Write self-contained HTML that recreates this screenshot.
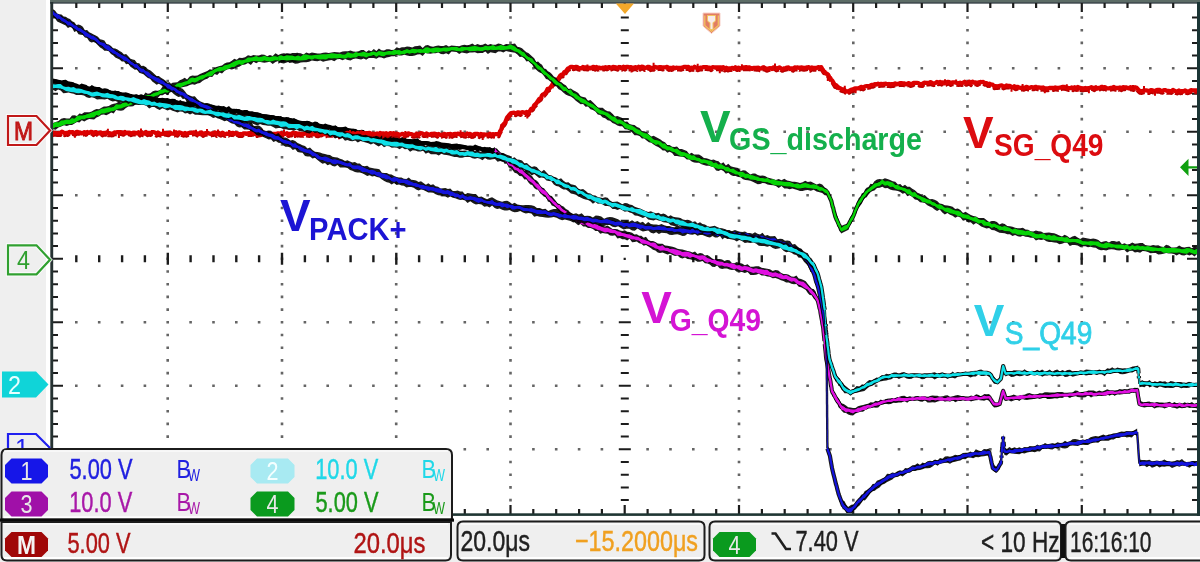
<!DOCTYPE html>
<html><head><meta charset="utf-8"><title>Oscilloscope</title>
<style>
html,body{margin:0;padding:0;background:#efefef;}
#wrap{position:relative;width:1200px;height:562px;overflow:hidden;background:#efefef;}
.t{position:absolute;font-family:"Liberation Sans",Arial,sans-serif;white-space:nowrap;line-height:1;}
</style></head><body><div id="wrap">
<svg width="1200" height="562" viewBox="0 0 1200 562" style="position:absolute;left:0;top:0">
<rect x="0" y="0" width="1200" height="562" fill="#efefef"/>
<rect x="46" y="0" width="1154" height="520" fill="#ffffff"/>
<rect x="50" y="0" width="1150" height="2.6" fill="#5c6c66"/>
<rect x="50" y="2.3" width="1150" height="1.3" fill="#1f2a30"/>
<path fill="#4a4a4a" opacity="0.85" d="M166.4 16.2h2.6v2.6h-2.6zM166.4 28.9h2.6v2.6h-2.6zM166.4 41.6h2.6v2.6h-2.6zM166.4 54.3h2.6v2.6h-2.6zM166.4 67h2.6v2.6h-2.6zM166.4 79.7h2.6v2.6h-2.6zM166.4 92.4h2.6v2.6h-2.6zM166.4 105.1h2.6v2.6h-2.6zM166.4 117.8h2.6v2.6h-2.6zM166.4 130.5h2.6v2.6h-2.6zM166.4 143.2h2.6v2.6h-2.6zM166.4 155.9h2.6v2.6h-2.6zM166.4 168.6h2.6v2.6h-2.6zM166.4 181.3h2.6v2.6h-2.6zM166.4 194h2.6v2.6h-2.6zM166.4 206.7h2.6v2.6h-2.6zM166.4 219.4h2.6v2.6h-2.6zM166.4 232.1h2.6v2.6h-2.6zM166.4 244.8h2.6v2.6h-2.6zM166.4 257.5h2.6v2.6h-2.6zM166.4 270.2h2.6v2.6h-2.6zM166.4 282.9h2.6v2.6h-2.6zM166.4 295.6h2.6v2.6h-2.6zM166.4 308.3h2.6v2.6h-2.6zM166.4 321h2.6v2.6h-2.6zM166.4 333.7h2.6v2.6h-2.6zM166.4 346.4h2.6v2.6h-2.6zM166.4 359.1h2.6v2.6h-2.6zM166.4 371.8h2.6v2.6h-2.6zM166.4 384.5h2.6v2.6h-2.6zM166.4 397.2h2.6v2.6h-2.6zM166.4 409.9h2.6v2.6h-2.6zM166.4 422.6h2.6v2.6h-2.6zM166.4 435.3h2.6v2.6h-2.6zM166.4 448h2.6v2.6h-2.6zM166.4 460.7h2.6v2.6h-2.6zM166.4 473.4h2.6v2.6h-2.6zM166.4 486.1h2.6v2.6h-2.6zM166.4 498.8h2.6v2.6h-2.6zM280.7 16.2h2.6v2.6h-2.6zM280.7 28.9h2.6v2.6h-2.6zM280.7 41.6h2.6v2.6h-2.6zM280.7 54.3h2.6v2.6h-2.6zM280.7 67h2.6v2.6h-2.6zM280.7 79.7h2.6v2.6h-2.6zM280.7 92.4h2.6v2.6h-2.6zM280.7 105.1h2.6v2.6h-2.6zM280.7 117.8h2.6v2.6h-2.6zM280.7 130.5h2.6v2.6h-2.6zM280.7 143.2h2.6v2.6h-2.6zM280.7 155.9h2.6v2.6h-2.6zM280.7 168.6h2.6v2.6h-2.6zM280.7 181.3h2.6v2.6h-2.6zM280.7 194h2.6v2.6h-2.6zM280.7 206.7h2.6v2.6h-2.6zM280.7 219.4h2.6v2.6h-2.6zM280.7 232.1h2.6v2.6h-2.6zM280.7 244.8h2.6v2.6h-2.6zM280.7 257.5h2.6v2.6h-2.6zM280.7 270.2h2.6v2.6h-2.6zM280.7 282.9h2.6v2.6h-2.6zM280.7 295.6h2.6v2.6h-2.6zM280.7 308.3h2.6v2.6h-2.6zM280.7 321h2.6v2.6h-2.6zM280.7 333.7h2.6v2.6h-2.6zM280.7 346.4h2.6v2.6h-2.6zM280.7 359.1h2.6v2.6h-2.6zM280.7 371.8h2.6v2.6h-2.6zM280.7 384.5h2.6v2.6h-2.6zM280.7 397.2h2.6v2.6h-2.6zM280.7 409.9h2.6v2.6h-2.6zM280.7 422.6h2.6v2.6h-2.6zM280.7 435.3h2.6v2.6h-2.6zM280.7 448h2.6v2.6h-2.6zM280.7 460.7h2.6v2.6h-2.6zM280.7 473.4h2.6v2.6h-2.6zM280.7 486.1h2.6v2.6h-2.6zM280.7 498.8h2.6v2.6h-2.6zM394.9 16.2h2.6v2.6h-2.6zM394.9 28.9h2.6v2.6h-2.6zM394.9 41.6h2.6v2.6h-2.6zM394.9 54.3h2.6v2.6h-2.6zM394.9 67h2.6v2.6h-2.6zM394.9 79.7h2.6v2.6h-2.6zM394.9 92.4h2.6v2.6h-2.6zM394.9 105.1h2.6v2.6h-2.6zM394.9 117.8h2.6v2.6h-2.6zM394.9 130.5h2.6v2.6h-2.6zM394.9 143.2h2.6v2.6h-2.6zM394.9 155.9h2.6v2.6h-2.6zM394.9 168.6h2.6v2.6h-2.6zM394.9 181.3h2.6v2.6h-2.6zM394.9 194h2.6v2.6h-2.6zM394.9 206.7h2.6v2.6h-2.6zM394.9 219.4h2.6v2.6h-2.6zM394.9 232.1h2.6v2.6h-2.6zM394.9 244.8h2.6v2.6h-2.6zM394.9 257.5h2.6v2.6h-2.6zM394.9 270.2h2.6v2.6h-2.6zM394.9 282.9h2.6v2.6h-2.6zM394.9 295.6h2.6v2.6h-2.6zM394.9 308.3h2.6v2.6h-2.6zM394.9 321h2.6v2.6h-2.6zM394.9 333.7h2.6v2.6h-2.6zM394.9 346.4h2.6v2.6h-2.6zM394.9 359.1h2.6v2.6h-2.6zM394.9 371.8h2.6v2.6h-2.6zM394.9 384.5h2.6v2.6h-2.6zM394.9 397.2h2.6v2.6h-2.6zM394.9 409.9h2.6v2.6h-2.6zM394.9 422.6h2.6v2.6h-2.6zM394.9 435.3h2.6v2.6h-2.6zM394.9 448h2.6v2.6h-2.6zM394.9 460.7h2.6v2.6h-2.6zM394.9 473.4h2.6v2.6h-2.6zM394.9 486.1h2.6v2.6h-2.6zM394.9 498.8h2.6v2.6h-2.6zM509.2 16.2h2.6v2.6h-2.6zM509.2 28.9h2.6v2.6h-2.6zM509.2 41.6h2.6v2.6h-2.6zM509.2 54.3h2.6v2.6h-2.6zM509.2 67h2.6v2.6h-2.6zM509.2 79.7h2.6v2.6h-2.6zM509.2 92.4h2.6v2.6h-2.6zM509.2 105.1h2.6v2.6h-2.6zM509.2 117.8h2.6v2.6h-2.6zM509.2 130.5h2.6v2.6h-2.6zM509.2 143.2h2.6v2.6h-2.6zM509.2 155.9h2.6v2.6h-2.6zM509.2 168.6h2.6v2.6h-2.6zM509.2 181.3h2.6v2.6h-2.6zM509.2 194h2.6v2.6h-2.6zM509.2 206.7h2.6v2.6h-2.6zM509.2 219.4h2.6v2.6h-2.6zM509.2 232.1h2.6v2.6h-2.6zM509.2 244.8h2.6v2.6h-2.6zM509.2 257.5h2.6v2.6h-2.6zM509.2 270.2h2.6v2.6h-2.6zM509.2 282.9h2.6v2.6h-2.6zM509.2 295.6h2.6v2.6h-2.6zM509.2 308.3h2.6v2.6h-2.6zM509.2 321h2.6v2.6h-2.6zM509.2 333.7h2.6v2.6h-2.6zM509.2 346.4h2.6v2.6h-2.6zM509.2 359.1h2.6v2.6h-2.6zM509.2 371.8h2.6v2.6h-2.6zM509.2 384.5h2.6v2.6h-2.6zM509.2 397.2h2.6v2.6h-2.6zM509.2 409.9h2.6v2.6h-2.6zM509.2 422.6h2.6v2.6h-2.6zM509.2 435.3h2.6v2.6h-2.6zM509.2 448h2.6v2.6h-2.6zM509.2 460.7h2.6v2.6h-2.6zM509.2 473.4h2.6v2.6h-2.6zM509.2 486.1h2.6v2.6h-2.6zM509.2 498.8h2.6v2.6h-2.6zM737.7 16.2h2.6v2.6h-2.6zM737.7 28.9h2.6v2.6h-2.6zM737.7 41.6h2.6v2.6h-2.6zM737.7 54.3h2.6v2.6h-2.6zM737.7 67h2.6v2.6h-2.6zM737.7 79.7h2.6v2.6h-2.6zM737.7 92.4h2.6v2.6h-2.6zM737.7 105.1h2.6v2.6h-2.6zM737.7 117.8h2.6v2.6h-2.6zM737.7 130.5h2.6v2.6h-2.6zM737.7 143.2h2.6v2.6h-2.6zM737.7 155.9h2.6v2.6h-2.6zM737.7 168.6h2.6v2.6h-2.6zM737.7 181.3h2.6v2.6h-2.6zM737.7 194h2.6v2.6h-2.6zM737.7 206.7h2.6v2.6h-2.6zM737.7 219.4h2.6v2.6h-2.6zM737.7 232.1h2.6v2.6h-2.6zM737.7 244.8h2.6v2.6h-2.6zM737.7 257.5h2.6v2.6h-2.6zM737.7 270.2h2.6v2.6h-2.6zM737.7 282.9h2.6v2.6h-2.6zM737.7 295.6h2.6v2.6h-2.6zM737.7 308.3h2.6v2.6h-2.6zM737.7 321h2.6v2.6h-2.6zM737.7 333.7h2.6v2.6h-2.6zM737.7 346.4h2.6v2.6h-2.6zM737.7 359.1h2.6v2.6h-2.6zM737.7 371.8h2.6v2.6h-2.6zM737.7 384.5h2.6v2.6h-2.6zM737.7 397.2h2.6v2.6h-2.6zM737.7 409.9h2.6v2.6h-2.6zM737.7 422.6h2.6v2.6h-2.6zM737.7 435.3h2.6v2.6h-2.6zM737.7 448h2.6v2.6h-2.6zM737.7 460.7h2.6v2.6h-2.6zM737.7 473.4h2.6v2.6h-2.6zM737.7 486.1h2.6v2.6h-2.6zM737.7 498.8h2.6v2.6h-2.6zM852 16.2h2.6v2.6h-2.6zM852 28.9h2.6v2.6h-2.6zM852 41.6h2.6v2.6h-2.6zM852 54.3h2.6v2.6h-2.6zM852 67h2.6v2.6h-2.6zM852 79.7h2.6v2.6h-2.6zM852 92.4h2.6v2.6h-2.6zM852 105.1h2.6v2.6h-2.6zM852 117.8h2.6v2.6h-2.6zM852 130.5h2.6v2.6h-2.6zM852 143.2h2.6v2.6h-2.6zM852 155.9h2.6v2.6h-2.6zM852 168.6h2.6v2.6h-2.6zM852 181.3h2.6v2.6h-2.6zM852 194h2.6v2.6h-2.6zM852 206.7h2.6v2.6h-2.6zM852 219.4h2.6v2.6h-2.6zM852 232.1h2.6v2.6h-2.6zM852 244.8h2.6v2.6h-2.6zM852 257.5h2.6v2.6h-2.6zM852 270.2h2.6v2.6h-2.6zM852 282.9h2.6v2.6h-2.6zM852 295.6h2.6v2.6h-2.6zM852 308.3h2.6v2.6h-2.6zM852 321h2.6v2.6h-2.6zM852 333.7h2.6v2.6h-2.6zM852 346.4h2.6v2.6h-2.6zM852 359.1h2.6v2.6h-2.6zM852 371.8h2.6v2.6h-2.6zM852 384.5h2.6v2.6h-2.6zM852 397.2h2.6v2.6h-2.6zM852 409.9h2.6v2.6h-2.6zM852 422.6h2.6v2.6h-2.6zM852 435.3h2.6v2.6h-2.6zM852 448h2.6v2.6h-2.6zM852 460.7h2.6v2.6h-2.6zM852 473.4h2.6v2.6h-2.6zM852 486.1h2.6v2.6h-2.6zM852 498.8h2.6v2.6h-2.6zM966.2 16.2h2.6v2.6h-2.6zM966.2 28.9h2.6v2.6h-2.6zM966.2 41.6h2.6v2.6h-2.6zM966.2 54.3h2.6v2.6h-2.6zM966.2 67h2.6v2.6h-2.6zM966.2 79.7h2.6v2.6h-2.6zM966.2 92.4h2.6v2.6h-2.6zM966.2 105.1h2.6v2.6h-2.6zM966.2 117.8h2.6v2.6h-2.6zM966.2 130.5h2.6v2.6h-2.6zM966.2 143.2h2.6v2.6h-2.6zM966.2 155.9h2.6v2.6h-2.6zM966.2 168.6h2.6v2.6h-2.6zM966.2 181.3h2.6v2.6h-2.6zM966.2 194h2.6v2.6h-2.6zM966.2 206.7h2.6v2.6h-2.6zM966.2 219.4h2.6v2.6h-2.6zM966.2 232.1h2.6v2.6h-2.6zM966.2 244.8h2.6v2.6h-2.6zM966.2 257.5h2.6v2.6h-2.6zM966.2 270.2h2.6v2.6h-2.6zM966.2 282.9h2.6v2.6h-2.6zM966.2 295.6h2.6v2.6h-2.6zM966.2 308.3h2.6v2.6h-2.6zM966.2 321h2.6v2.6h-2.6zM966.2 333.7h2.6v2.6h-2.6zM966.2 346.4h2.6v2.6h-2.6zM966.2 359.1h2.6v2.6h-2.6zM966.2 371.8h2.6v2.6h-2.6zM966.2 384.5h2.6v2.6h-2.6zM966.2 397.2h2.6v2.6h-2.6zM966.2 409.9h2.6v2.6h-2.6zM966.2 422.6h2.6v2.6h-2.6zM966.2 435.3h2.6v2.6h-2.6zM966.2 448h2.6v2.6h-2.6zM966.2 460.7h2.6v2.6h-2.6zM966.2 473.4h2.6v2.6h-2.6zM966.2 486.1h2.6v2.6h-2.6zM966.2 498.8h2.6v2.6h-2.6zM1080.5 16.2h2.6v2.6h-2.6zM1080.5 28.9h2.6v2.6h-2.6zM1080.5 41.6h2.6v2.6h-2.6zM1080.5 54.3h2.6v2.6h-2.6zM1080.5 67h2.6v2.6h-2.6zM1080.5 79.7h2.6v2.6h-2.6zM1080.5 92.4h2.6v2.6h-2.6zM1080.5 105.1h2.6v2.6h-2.6zM1080.5 117.8h2.6v2.6h-2.6zM1080.5 130.5h2.6v2.6h-2.6zM1080.5 143.2h2.6v2.6h-2.6zM1080.5 155.9h2.6v2.6h-2.6zM1080.5 168.6h2.6v2.6h-2.6zM1080.5 181.3h2.6v2.6h-2.6zM1080.5 194h2.6v2.6h-2.6zM1080.5 206.7h2.6v2.6h-2.6zM1080.5 219.4h2.6v2.6h-2.6zM1080.5 232.1h2.6v2.6h-2.6zM1080.5 244.8h2.6v2.6h-2.6zM1080.5 257.5h2.6v2.6h-2.6zM1080.5 270.2h2.6v2.6h-2.6zM1080.5 282.9h2.6v2.6h-2.6zM1080.5 295.6h2.6v2.6h-2.6zM1080.5 308.3h2.6v2.6h-2.6zM1080.5 321h2.6v2.6h-2.6zM1080.5 333.7h2.6v2.6h-2.6zM1080.5 346.4h2.6v2.6h-2.6zM1080.5 359.1h2.6v2.6h-2.6zM1080.5 371.8h2.6v2.6h-2.6zM1080.5 384.5h2.6v2.6h-2.6zM1080.5 397.2h2.6v2.6h-2.6zM1080.5 409.9h2.6v2.6h-2.6zM1080.5 422.6h2.6v2.6h-2.6zM1080.5 435.3h2.6v2.6h-2.6zM1080.5 448h2.6v2.6h-2.6zM1080.5 460.7h2.6v2.6h-2.6zM1080.5 473.4h2.6v2.6h-2.6zM1080.5 486.1h2.6v2.6h-2.6zM1080.5 498.8h2.6v2.6h-2.6zM75 67h2.6v2.6h-2.6zM97.9 67h2.6v2.6h-2.6zM120.8 67h2.6v2.6h-2.6zM143.6 67h2.6v2.6h-2.6zM189.3 67h2.6v2.6h-2.6zM212.2 67h2.6v2.6h-2.6zM235 67h2.6v2.6h-2.6zM257.8 67h2.6v2.6h-2.6zM303.6 67h2.6v2.6h-2.6zM326.4 67h2.6v2.6h-2.6zM349.2 67h2.6v2.6h-2.6zM372.1 67h2.6v2.6h-2.6zM417.8 67h2.6v2.6h-2.6zM440.7 67h2.6v2.6h-2.6zM463.5 67h2.6v2.6h-2.6zM486.4 67h2.6v2.6h-2.6zM532.1 67h2.6v2.6h-2.6zM554.9 67h2.6v2.6h-2.6zM577.8 67h2.6v2.6h-2.6zM600.6 67h2.6v2.6h-2.6zM646.3 67h2.6v2.6h-2.6zM669.2 67h2.6v2.6h-2.6zM692 67h2.6v2.6h-2.6zM714.9 67h2.6v2.6h-2.6zM760.6 67h2.6v2.6h-2.6zM783.4 67h2.6v2.6h-2.6zM806.3 67h2.6v2.6h-2.6zM829.1 67h2.6v2.6h-2.6zM874.8 67h2.6v2.6h-2.6zM897.7 67h2.6v2.6h-2.6zM920.5 67h2.6v2.6h-2.6zM943.4 67h2.6v2.6h-2.6zM989.1 67h2.6v2.6h-2.6zM1011.9 67h2.6v2.6h-2.6zM1034.8 67h2.6v2.6h-2.6zM1057.6 67h2.6v2.6h-2.6zM1103.3 67h2.6v2.6h-2.6zM1126.2 67h2.6v2.6h-2.6zM1149 67h2.6v2.6h-2.6zM1171.9 67h2.6v2.6h-2.6zM75 130.5h2.6v2.6h-2.6zM97.9 130.5h2.6v2.6h-2.6zM120.8 130.5h2.6v2.6h-2.6zM143.6 130.5h2.6v2.6h-2.6zM189.3 130.5h2.6v2.6h-2.6zM212.2 130.5h2.6v2.6h-2.6zM235 130.5h2.6v2.6h-2.6zM257.8 130.5h2.6v2.6h-2.6zM303.6 130.5h2.6v2.6h-2.6zM326.4 130.5h2.6v2.6h-2.6zM349.2 130.5h2.6v2.6h-2.6zM372.1 130.5h2.6v2.6h-2.6zM417.8 130.5h2.6v2.6h-2.6zM440.7 130.5h2.6v2.6h-2.6zM463.5 130.5h2.6v2.6h-2.6zM486.4 130.5h2.6v2.6h-2.6zM532.1 130.5h2.6v2.6h-2.6zM554.9 130.5h2.6v2.6h-2.6zM577.8 130.5h2.6v2.6h-2.6zM600.6 130.5h2.6v2.6h-2.6zM646.3 130.5h2.6v2.6h-2.6zM669.2 130.5h2.6v2.6h-2.6zM692 130.5h2.6v2.6h-2.6zM714.9 130.5h2.6v2.6h-2.6zM760.6 130.5h2.6v2.6h-2.6zM783.4 130.5h2.6v2.6h-2.6zM806.3 130.5h2.6v2.6h-2.6zM829.1 130.5h2.6v2.6h-2.6zM874.8 130.5h2.6v2.6h-2.6zM897.7 130.5h2.6v2.6h-2.6zM920.5 130.5h2.6v2.6h-2.6zM943.4 130.5h2.6v2.6h-2.6zM989.1 130.5h2.6v2.6h-2.6zM1011.9 130.5h2.6v2.6h-2.6zM1034.8 130.5h2.6v2.6h-2.6zM1057.6 130.5h2.6v2.6h-2.6zM1103.3 130.5h2.6v2.6h-2.6zM1126.2 130.5h2.6v2.6h-2.6zM1149 130.5h2.6v2.6h-2.6zM1171.9 130.5h2.6v2.6h-2.6zM75 194h2.6v2.6h-2.6zM97.9 194h2.6v2.6h-2.6zM120.8 194h2.6v2.6h-2.6zM143.6 194h2.6v2.6h-2.6zM189.3 194h2.6v2.6h-2.6zM212.2 194h2.6v2.6h-2.6zM235 194h2.6v2.6h-2.6zM257.8 194h2.6v2.6h-2.6zM303.6 194h2.6v2.6h-2.6zM326.4 194h2.6v2.6h-2.6zM349.2 194h2.6v2.6h-2.6zM372.1 194h2.6v2.6h-2.6zM417.8 194h2.6v2.6h-2.6zM440.7 194h2.6v2.6h-2.6zM463.5 194h2.6v2.6h-2.6zM486.4 194h2.6v2.6h-2.6zM532.1 194h2.6v2.6h-2.6zM554.9 194h2.6v2.6h-2.6zM577.8 194h2.6v2.6h-2.6zM600.6 194h2.6v2.6h-2.6zM646.3 194h2.6v2.6h-2.6zM669.2 194h2.6v2.6h-2.6zM692 194h2.6v2.6h-2.6zM714.9 194h2.6v2.6h-2.6zM760.6 194h2.6v2.6h-2.6zM783.4 194h2.6v2.6h-2.6zM806.3 194h2.6v2.6h-2.6zM829.1 194h2.6v2.6h-2.6zM874.8 194h2.6v2.6h-2.6zM897.7 194h2.6v2.6h-2.6zM920.5 194h2.6v2.6h-2.6zM943.4 194h2.6v2.6h-2.6zM989.1 194h2.6v2.6h-2.6zM1011.9 194h2.6v2.6h-2.6zM1034.8 194h2.6v2.6h-2.6zM1057.6 194h2.6v2.6h-2.6zM1103.3 194h2.6v2.6h-2.6zM1126.2 194h2.6v2.6h-2.6zM1149 194h2.6v2.6h-2.6zM1171.9 194h2.6v2.6h-2.6zM75 321h2.6v2.6h-2.6zM97.9 321h2.6v2.6h-2.6zM120.8 321h2.6v2.6h-2.6zM143.6 321h2.6v2.6h-2.6zM189.3 321h2.6v2.6h-2.6zM212.2 321h2.6v2.6h-2.6zM235 321h2.6v2.6h-2.6zM257.8 321h2.6v2.6h-2.6zM303.6 321h2.6v2.6h-2.6zM326.4 321h2.6v2.6h-2.6zM349.2 321h2.6v2.6h-2.6zM372.1 321h2.6v2.6h-2.6zM417.8 321h2.6v2.6h-2.6zM440.7 321h2.6v2.6h-2.6zM463.5 321h2.6v2.6h-2.6zM486.4 321h2.6v2.6h-2.6zM532.1 321h2.6v2.6h-2.6zM554.9 321h2.6v2.6h-2.6zM577.8 321h2.6v2.6h-2.6zM600.6 321h2.6v2.6h-2.6zM646.3 321h2.6v2.6h-2.6zM669.2 321h2.6v2.6h-2.6zM692 321h2.6v2.6h-2.6zM714.9 321h2.6v2.6h-2.6zM760.6 321h2.6v2.6h-2.6zM783.4 321h2.6v2.6h-2.6zM806.3 321h2.6v2.6h-2.6zM829.1 321h2.6v2.6h-2.6zM874.8 321h2.6v2.6h-2.6zM897.7 321h2.6v2.6h-2.6zM920.5 321h2.6v2.6h-2.6zM943.4 321h2.6v2.6h-2.6zM989.1 321h2.6v2.6h-2.6zM1011.9 321h2.6v2.6h-2.6zM1034.8 321h2.6v2.6h-2.6zM1057.6 321h2.6v2.6h-2.6zM1103.3 321h2.6v2.6h-2.6zM1126.2 321h2.6v2.6h-2.6zM1149 321h2.6v2.6h-2.6zM1171.9 321h2.6v2.6h-2.6zM75 384.5h2.6v2.6h-2.6zM97.9 384.5h2.6v2.6h-2.6zM120.8 384.5h2.6v2.6h-2.6zM143.6 384.5h2.6v2.6h-2.6zM189.3 384.5h2.6v2.6h-2.6zM212.2 384.5h2.6v2.6h-2.6zM235 384.5h2.6v2.6h-2.6zM257.8 384.5h2.6v2.6h-2.6zM303.6 384.5h2.6v2.6h-2.6zM326.4 384.5h2.6v2.6h-2.6zM349.2 384.5h2.6v2.6h-2.6zM372.1 384.5h2.6v2.6h-2.6zM417.8 384.5h2.6v2.6h-2.6zM440.7 384.5h2.6v2.6h-2.6zM463.5 384.5h2.6v2.6h-2.6zM486.4 384.5h2.6v2.6h-2.6zM532.1 384.5h2.6v2.6h-2.6zM554.9 384.5h2.6v2.6h-2.6zM577.8 384.5h2.6v2.6h-2.6zM600.6 384.5h2.6v2.6h-2.6zM646.3 384.5h2.6v2.6h-2.6zM669.2 384.5h2.6v2.6h-2.6zM692 384.5h2.6v2.6h-2.6zM714.9 384.5h2.6v2.6h-2.6zM760.6 384.5h2.6v2.6h-2.6zM783.4 384.5h2.6v2.6h-2.6zM806.3 384.5h2.6v2.6h-2.6zM829.1 384.5h2.6v2.6h-2.6zM874.8 384.5h2.6v2.6h-2.6zM897.7 384.5h2.6v2.6h-2.6zM920.5 384.5h2.6v2.6h-2.6zM943.4 384.5h2.6v2.6h-2.6zM989.1 384.5h2.6v2.6h-2.6zM1011.9 384.5h2.6v2.6h-2.6zM1034.8 384.5h2.6v2.6h-2.6zM1057.6 384.5h2.6v2.6h-2.6zM1103.3 384.5h2.6v2.6h-2.6zM1126.2 384.5h2.6v2.6h-2.6zM1149 384.5h2.6v2.6h-2.6zM1171.9 384.5h2.6v2.6h-2.6zM75 448h2.6v2.6h-2.6zM97.9 448h2.6v2.6h-2.6zM120.8 448h2.6v2.6h-2.6zM143.6 448h2.6v2.6h-2.6zM189.3 448h2.6v2.6h-2.6zM212.2 448h2.6v2.6h-2.6zM235 448h2.6v2.6h-2.6zM257.8 448h2.6v2.6h-2.6zM303.6 448h2.6v2.6h-2.6zM326.4 448h2.6v2.6h-2.6zM349.2 448h2.6v2.6h-2.6zM372.1 448h2.6v2.6h-2.6zM417.8 448h2.6v2.6h-2.6zM440.7 448h2.6v2.6h-2.6zM463.5 448h2.6v2.6h-2.6zM486.4 448h2.6v2.6h-2.6zM532.1 448h2.6v2.6h-2.6zM554.9 448h2.6v2.6h-2.6zM577.8 448h2.6v2.6h-2.6zM600.6 448h2.6v2.6h-2.6zM646.3 448h2.6v2.6h-2.6zM669.2 448h2.6v2.6h-2.6zM692 448h2.6v2.6h-2.6zM714.9 448h2.6v2.6h-2.6zM760.6 448h2.6v2.6h-2.6zM783.4 448h2.6v2.6h-2.6zM806.3 448h2.6v2.6h-2.6zM829.1 448h2.6v2.6h-2.6zM874.8 448h2.6v2.6h-2.6zM897.7 448h2.6v2.6h-2.6zM920.5 448h2.6v2.6h-2.6zM943.4 448h2.6v2.6h-2.6zM989.1 448h2.6v2.6h-2.6zM1011.9 448h2.6v2.6h-2.6zM1034.8 448h2.6v2.6h-2.6zM1057.6 448h2.6v2.6h-2.6zM1103.3 448h2.6v2.6h-2.6zM1126.2 448h2.6v2.6h-2.6zM1149 448h2.6v2.6h-2.6zM1171.9 448h2.6v2.6h-2.6z"/>
<path fill="#1c1c1c" d="M620.8 16.5h8v2h-8zM620.8 29.2h8v2h-8zM620.8 41.9h8v2h-8zM620.8 54.6h8v2h-8zM618.8 67.3h12v2h-12zM620.8 80h8v2h-8zM620.8 92.7h8v2h-8zM620.8 105.4h8v2h-8zM620.8 118.1h8v2h-8zM618.8 130.8h12v2h-12zM620.8 143.5h8v2h-8zM620.8 156.2h8v2h-8zM620.8 168.9h8v2h-8zM620.8 181.6h8v2h-8zM618.8 194.3h12v2h-12zM620.8 207h8v2h-8zM620.8 219.7h8v2h-8zM620.8 232.4h8v2h-8zM620.8 245.1h8v2h-8zM620.8 270.5h8v2h-8zM620.8 283.2h8v2h-8zM620.8 295.9h8v2h-8zM620.8 308.6h8v2h-8zM618.8 321.3h12v2h-12zM620.8 334h8v2h-8zM620.8 346.7h8v2h-8zM620.8 359.4h8v2h-8zM620.8 372.1h8v2h-8zM618.8 384.8h12v2h-12zM620.8 397.5h8v2h-8zM620.8 410.2h8v2h-8zM620.8 422.9h8v2h-8zM620.8 435.6h8v2h-8zM618.8 448.3h12v2h-12zM620.8 461h8v2h-8zM620.8 473.7h8v2h-8zM620.8 486.4h8v2h-8zM620.8 499.1h8v2h-8zM75.1 255.3h2.4v7h-2.4zM98 255.3h2.4v7h-2.4zM120.9 255.3h2.4v7h-2.4zM143.7 255.3h2.4v7h-2.4zM166.6 252.8h2.4v12h-2.4zM189.4 255.3h2.4v7h-2.4zM212.3 255.3h2.4v7h-2.4zM235.1 255.3h2.4v7h-2.4zM257.9 255.3h2.4v7h-2.4zM280.8 252.8h2.4v12h-2.4zM303.7 255.3h2.4v7h-2.4zM326.5 255.3h2.4v7h-2.4zM349.4 255.3h2.4v7h-2.4zM372.2 255.3h2.4v7h-2.4zM395.1 252.8h2.4v12h-2.4zM417.9 255.3h2.4v7h-2.4zM440.8 255.3h2.4v7h-2.4zM463.6 255.3h2.4v7h-2.4zM486.5 255.3h2.4v7h-2.4zM509.3 252.8h2.4v12h-2.4zM532.1 255.3h2.4v7h-2.4zM555 255.3h2.4v7h-2.4zM577.9 255.3h2.4v7h-2.4zM600.7 255.3h2.4v7h-2.4zM646.4 255.3h2.4v7h-2.4zM669.2 255.3h2.4v7h-2.4zM692.1 255.3h2.4v7h-2.4zM715 255.3h2.4v7h-2.4zM737.8 252.8h2.4v12h-2.4zM760.6 255.3h2.4v7h-2.4zM783.5 255.3h2.4v7h-2.4zM806.4 255.3h2.4v7h-2.4zM829.2 255.3h2.4v7h-2.4zM852 252.8h2.4v12h-2.4zM874.9 255.3h2.4v7h-2.4zM897.8 255.3h2.4v7h-2.4zM920.6 255.3h2.4v7h-2.4zM943.5 255.3h2.4v7h-2.4zM966.3 252.8h2.4v12h-2.4zM989.1 255.3h2.4v7h-2.4zM1012 255.3h2.4v7h-2.4zM1034.9 255.3h2.4v7h-2.4zM1057.7 255.3h2.4v7h-2.4zM1080.5 252.8h2.4v12h-2.4zM1103.4 255.3h2.4v7h-2.4zM1126.2 255.3h2.4v7h-2.4zM1149.1 255.3h2.4v7h-2.4zM1172 255.3h2.4v7h-2.4zM623.6 257.7h2.2v2.2h-2.2zM75.2 3h2.2v5h-2.2zM75.2 509h2.2v5h-2.2zM98.1 3h2.2v5h-2.2zM98.1 509h2.2v5h-2.2zM121 3h2.2v5h-2.2zM121 509h2.2v5h-2.2zM143.8 3h2.2v5h-2.2zM143.8 509h2.2v5h-2.2zM166.7 3h2.2v9h-2.2zM166.7 505h2.2v9h-2.2zM189.5 3h2.2v5h-2.2zM189.5 509h2.2v5h-2.2zM212.4 3h2.2v5h-2.2zM212.4 509h2.2v5h-2.2zM235.2 3h2.2v5h-2.2zM235.2 509h2.2v5h-2.2zM258 3h2.2v5h-2.2zM258 509h2.2v5h-2.2zM280.9 3h2.2v9h-2.2zM280.9 505h2.2v9h-2.2zM303.8 3h2.2v5h-2.2zM303.8 509h2.2v5h-2.2zM326.6 3h2.2v5h-2.2zM326.6 509h2.2v5h-2.2zM349.4 3h2.2v5h-2.2zM349.4 509h2.2v5h-2.2zM372.3 3h2.2v5h-2.2zM372.3 509h2.2v5h-2.2zM395.1 3h2.2v9h-2.2zM395.1 505h2.2v9h-2.2zM418 3h2.2v5h-2.2zM418 509h2.2v5h-2.2zM440.9 3h2.2v5h-2.2zM440.9 509h2.2v5h-2.2zM463.7 3h2.2v5h-2.2zM463.7 509h2.2v5h-2.2zM486.6 3h2.2v5h-2.2zM486.6 509h2.2v5h-2.2zM509.4 3h2.2v9h-2.2zM509.4 505h2.2v9h-2.2zM532.2 3h2.2v5h-2.2zM532.2 509h2.2v5h-2.2zM555.1 3h2.2v5h-2.2zM555.1 509h2.2v5h-2.2zM578 3h2.2v5h-2.2zM578 509h2.2v5h-2.2zM600.8 3h2.2v5h-2.2zM600.8 509h2.2v5h-2.2zM623.6 3h2.2v9h-2.2zM623.6 505h2.2v9h-2.2zM646.5 3h2.2v5h-2.2zM646.5 509h2.2v5h-2.2zM669.4 3h2.2v5h-2.2zM669.4 509h2.2v5h-2.2zM692.2 3h2.2v5h-2.2zM692.2 509h2.2v5h-2.2zM715.1 3h2.2v5h-2.2zM715.1 509h2.2v5h-2.2zM737.9 3h2.2v9h-2.2zM737.9 505h2.2v9h-2.2zM760.8 3h2.2v5h-2.2zM760.8 509h2.2v5h-2.2zM783.6 3h2.2v5h-2.2zM783.6 509h2.2v5h-2.2zM806.5 3h2.2v5h-2.2zM806.5 509h2.2v5h-2.2zM829.3 3h2.2v5h-2.2zM829.3 509h2.2v5h-2.2zM852.1 3h2.2v9h-2.2zM852.1 505h2.2v9h-2.2zM875 3h2.2v5h-2.2zM875 509h2.2v5h-2.2zM897.9 3h2.2v5h-2.2zM897.9 509h2.2v5h-2.2zM920.7 3h2.2v5h-2.2zM920.7 509h2.2v5h-2.2zM943.6 3h2.2v5h-2.2zM943.6 509h2.2v5h-2.2zM966.4 3h2.2v9h-2.2zM966.4 505h2.2v9h-2.2zM989.2 3h2.2v5h-2.2zM989.2 509h2.2v5h-2.2zM1012.1 3h2.2v5h-2.2zM1012.1 509h2.2v5h-2.2zM1035 3h2.2v5h-2.2zM1035 509h2.2v5h-2.2zM1057.8 3h2.2v5h-2.2zM1057.8 509h2.2v5h-2.2zM1080.7 3h2.2v9h-2.2zM1080.7 505h2.2v9h-2.2zM1103.5 3h2.2v5h-2.2zM1103.5 509h2.2v5h-2.2zM1126.4 3h2.2v5h-2.2zM1126.4 509h2.2v5h-2.2zM1149.2 3h2.2v5h-2.2zM1149.2 509h2.2v5h-2.2zM1172.1 3h2.2v5h-2.2zM1172.1 509h2.2v5h-2.2zM53 16.5h5v2h-5zM1192 16.5h5v2h-5zM53 29.2h5v2h-5zM1192 29.2h5v2h-5zM53 41.9h5v2h-5zM1192 41.9h5v2h-5zM53 54.6h5v2h-5zM1192 54.6h5v2h-5zM53 67.3h10v2h-10zM1187 67.3h10v2h-10zM53 80h5v2h-5zM1192 80h5v2h-5zM53 92.7h5v2h-5zM1192 92.7h5v2h-5zM53 105.4h5v2h-5zM1192 105.4h5v2h-5zM53 118.1h5v2h-5zM1192 118.1h5v2h-5zM53 130.8h10v2h-10zM1187 130.8h10v2h-10zM53 143.5h5v2h-5zM1192 143.5h5v2h-5zM53 156.2h5v2h-5zM1192 156.2h5v2h-5zM53 168.9h5v2h-5zM1192 168.9h5v2h-5zM53 181.6h5v2h-5zM1192 181.6h5v2h-5zM53 194.3h10v2h-10zM1187 194.3h10v2h-10zM53 207h5v2h-5zM1192 207h5v2h-5zM53 219.7h5v2h-5zM1192 219.7h5v2h-5zM53 232.4h5v2h-5zM1192 232.4h5v2h-5zM53 245.1h5v2h-5zM1192 245.1h5v2h-5zM53 257.8h10v2h-10zM1187 257.8h10v2h-10zM53 270.5h5v2h-5zM1192 270.5h5v2h-5zM53 283.2h5v2h-5zM1192 283.2h5v2h-5zM53 295.9h5v2h-5zM1192 295.9h5v2h-5zM53 308.6h5v2h-5zM1192 308.6h5v2h-5zM53 321.3h10v2h-10zM1187 321.3h10v2h-10zM53 334h5v2h-5zM1192 334h5v2h-5zM53 346.7h5v2h-5zM1192 346.7h5v2h-5zM53 359.4h5v2h-5zM1192 359.4h5v2h-5zM53 372.1h5v2h-5zM1192 372.1h5v2h-5zM53 384.8h10v2h-10zM1187 384.8h10v2h-10zM53 397.5h5v2h-5zM1192 397.5h5v2h-5zM53 410.2h5v2h-5zM1192 410.2h5v2h-5zM53 422.9h5v2h-5zM1192 422.9h5v2h-5zM53 435.6h5v2h-5zM1192 435.6h5v2h-5zM53 448.3h10v2h-10zM1187 448.3h10v2h-10zM53 461h5v2h-5zM1192 461h5v2h-5zM53 473.7h5v2h-5zM1192 473.7h5v2h-5zM53 486.4h5v2h-5zM1192 486.4h5v2h-5zM53 499.1h5v2h-5zM1192 499.1h5v2h-5z"/>
<rect x="50.3" y="2" width="2.9" height="514" fill="#263232"/>
<rect x="50.3" y="513.3" width="1150" height="2.6" fill="#1f3633"/>
<rect x="1197" y="2" width="3" height="514" fill="#1b3535"/>
<text x="280" y="231.2" style="font-family:&quot;Liberation Sans&quot;,Arial,sans-serif;font-weight:bold;font-size:45px" fill="#1c14d4" textLength="30.6" lengthAdjust="spacingAndGlyphs">V</text>
<text x="309.1" y="240" style="font-family:&quot;Liberation Sans&quot;,Arial,sans-serif;font-weight:bold;font-size:30.5px" fill="#1c14d4" textLength="97.5" lengthAdjust="spacingAndGlyphs">PACK+</text>
<text x="700" y="141.9" style="font-family:&quot;Liberation Sans&quot;,Arial,sans-serif;font-weight:bold;font-size:45px" fill="#14b04c" textLength="30.6" lengthAdjust="spacingAndGlyphs">V</text>
<text x="729.1" y="150" style="font-family:&quot;Liberation Sans&quot;,Arial,sans-serif;font-weight:bold;font-size:30.5px" fill="#14b04c" textLength="192.9" lengthAdjust="spacingAndGlyphs">GS_discharge</text>
<text x="963.1" y="147.5" style="font-family:&quot;Liberation Sans&quot;,Arial,sans-serif;font-weight:bold;font-size:45px" fill="#dc0c10" textLength="30.6" lengthAdjust="spacingAndGlyphs">V</text>
<text x="994.1" y="155.6" style="font-family:&quot;Liberation Sans&quot;,Arial,sans-serif;font-weight:bold;font-size:30.5px" fill="#dc0c10" textLength="109.4" lengthAdjust="spacingAndGlyphs">SG_Q49</text>
<text x="641.3" y="322.5" style="font-family:&quot;Liberation Sans&quot;,Arial,sans-serif;font-weight:bold;font-size:45px" fill="#d414d4" textLength="30.6" lengthAdjust="spacingAndGlyphs">V</text>
<text x="669.8" y="331.2" style="font-family:&quot;Liberation Sans&quot;,Arial,sans-serif;font-weight:bold;font-size:30.5px" fill="#d414d4" textLength="91.2" lengthAdjust="spacingAndGlyphs">G_Q49</text>
<text x="973.8" y="335.5" style="font-family:&quot;Liberation Sans&quot;,Arial,sans-serif;font-weight:bold;font-size:45px" fill="#30d0e8" textLength="30.6" lengthAdjust="spacingAndGlyphs">V</text>
<text x="1004.8" y="343.6" style="font-family:&quot;Liberation Sans&quot;,Arial,sans-serif;font-weight:normal;stroke:#30d0e8;stroke-width:0.8px;font-size:30.5px" fill="#30d0e8" textLength="87.5" lengthAdjust="spacingAndGlyphs">S_Q49</text>
<g clip-path="url(#pc)">
<defs><clipPath id="pc"><rect x="53" y="3.6" width="1144" height="509.4"/></clipPath></defs>
<polygon points="52.9,123.1 55.7,122 58.5,121.1 61.2,118.7 64,118.1 66.8,118.6 69.6,118.5 72,115.6 74.5,115.2 77,115.9 79.4,113.4 81.8,113.9 84.3,112.2 86.8,112.2 89.2,112.2 91.7,111.4 94.1,110.1 96.5,109.1 99,109.2 101.5,107.8 103.9,106.6 106.3,106.4 108.8,105.9 111.2,104.6 113.7,103.7 116.1,103.2 118.6,101.7 121,102.3 123.4,102 125.9,101 128.3,99 130.8,98.2 133.2,99.5 135.7,97.1 138.1,97.6 140.6,94.5 143,95.9 145.5,92.6 147.9,93.7 150.3,93.2 152.8,91.3 155.2,90.6 157.7,90.7 160.2,89.9 162.6,86.6 165.1,86.8 167.5,85.2 169.9,84.4 172.4,82.8 174.8,82.4 177.3,82.3 179.8,80.2 182.2,79.3 184.7,77.8 187.1,79.6 189.7,76.5 192.3,75.4 194.8,75.7 197.4,75.6 200,74.1 202.4,72.9 204.9,72.1 207.3,71.1 209.8,69.2 212.2,69.8 214.7,67.5 217.2,66.8 219.6,65.9 222,65.5 224.5,63.6 226.9,62.4 229.4,62.2 231.8,60.8 234.3,58.8 236.8,59.8 239.2,57.7 242.1,57.9 245.1,57.2 248,55.3 250.9,56.1 253.5,54.9 256.2,55.5 258.8,55.4 261.6,54.4 264.4,54.7 267.2,56.3 269.9,55.1 272.7,55.9 275.5,53.2 278.3,54.9 281.1,53.8 283.9,53.3 286.7,53.8 289.5,53.9 292.3,53 295.1,52.9 297.9,52.8 297.9,60.9 295.1,61.9 292.3,61.8 289.5,61.6 286.7,62.4 283.9,63.4 281.1,63.1 278.3,61.1 275.5,61.9 272.7,64 269.9,61.7 267.2,62.3 264.4,62.8 261.6,62.3 258.8,61.8 256.2,63.2 253.5,61.7 250.9,65 248,63.1 245.1,64.6 242.1,65.1 239.2,66.7 236.8,67.3 234.3,68.8 231.8,69.4 229.4,68.9 226.9,69.6 224.5,70.9 222,73.6 219.6,72.4 217.2,75 214.7,74.1 212.2,77.1 209.8,76.8 207.3,78.7 204.9,79.4 202.4,81.1 200,83 197.4,83.4 194.8,84.7 192.3,84.3 189.7,85 187.1,86.3 184.7,86.7 182.2,87.2 179.8,88.1 177.3,90.8 174.8,92.1 172.4,91.4 169.9,92.6 167.5,95.2 165.1,93.8 162.6,95.3 160.2,95.3 157.7,98.1 155.2,98.7 152.8,98.7 150.3,101.2 147.9,100.4 145.5,101 143,101.8 140.6,104.2 138.1,104 135.7,104.3 133.2,106.2 130.8,106.6 128.3,106.4 125.9,108 123.4,110.3 121,110.8 118.6,110.4 116.1,110 113.7,113.5 111.2,112.6 108.8,114.1 106.3,115.2 103.9,114.6 101.5,114.8 99,116.6 96.5,117.6 94.1,119.5 91.7,119.3 89.2,118.9 86.8,120 84.3,121.6 81.8,120.3 79.4,122.4 77,122.1 74.5,123.4 72,125 69.6,125 66.8,126 64,125.3 61.2,126.6 58.5,127.4 55.7,129.8 52.9,129.3" fill="#000" fill-opacity="0.9"/>
<polyline points="52.9,125.9 55.7,125 58.5,124.5 61.2,123.4 64,122.5 66.8,122 69.6,121.7 72,120.9 74.5,120.1 77,118.8 79.4,118.4 81.8,117.5 84.3,116.6 86.8,115.8 89.2,115.2 91.7,115.2 94.1,114.4 96.5,113.6 99,112.9 101.5,111.5 103.9,110.9 106.3,110.5 108.8,109.8 111.2,109.2 113.7,108.5 116.1,107 118.6,106.8 121,106.1 123.4,105.2 125.9,104.1 128.3,103.7 130.8,102.4 133.2,102.4 135.7,101.5 138.1,100.3 140.6,99.3 143,99 145.5,97.8 147.9,97.3 150.3,96.4 152.8,95.2 155.2,94.3 157.7,93.6 160.2,92.6 162.6,91.5 165.1,90.8 167.5,90.4 169.9,88.7 172.4,87.7 174.8,87.3 177.3,86 179.8,85.3 182.2,84.2 184.7,83.1 187.1,82.8 189.7,81.1 192.3,80.5 194.8,79.4 197.4,79 200,77.8 202.4,76.8 204.9,76 207.3,74.5 209.8,73.7 212.2,72.9 214.7,71 217.2,69.9 219.6,68.9 222,68.6 224.5,67.6 226.9,66.3 229.4,65.6 231.8,64.6 234.3,64 236.8,62.7 239.2,62.5 242.1,62 245.1,61.3 248,60.4 250.9,59.9 253.5,58.7 256.2,58.7 258.8,59.1 261.6,58.9 264.4,58.5 267.2,59.1 269.9,58.8 272.7,59 275.5,58.5 278.3,58.4 281.1,58.5 283.9,58.1 286.7,58.3 289.5,58.8 292.3,58 295.1,57.6 297.9,57.5" fill="none" stroke="#000" stroke-opacity="0.9" stroke-width="4.2" stroke-linejoin="round"/>
<polygon points="52.9,123.6 55.7,122.1 58.5,122.4 61.2,120.6 64,120.3 66.8,119.5 69.6,119.8 72,118.1 74.5,118.7 77,116 79.4,115.5 81.8,115.5 84.3,115.2 86.8,114.2 89.2,113.5 91.7,112.4 94.1,111.7 96.5,111.1 99,110.2 101.5,108.8 103.9,108.4 106.3,108.1 108.8,107.3 111.2,107.5 113.7,106.8 116.1,104.2 118.6,104.6 121,104.3 123.4,102.2 125.9,102.6 128.3,101.6 130.8,100.2 133.2,100.1 135.7,100 138.1,98.2 140.6,97 143,97.5 145.5,95.1 147.9,95 150.3,94.9 152.8,93.6 155.2,92.5 157.7,92 160.2,89.8 162.6,89.5 165.1,88.6 167.5,89 169.9,87.2 172.4,85.3 174.8,85.6 177.3,83.6 179.8,82.9 182.2,82.4 184.7,81.5 187.1,81 189.7,78.4 192.3,77.6 194.8,77.9 197.4,76.9 200,75.7 202.4,74.9 204.9,74.6 207.3,72.7 209.8,71.6 212.2,70.6 214.7,69.1 217.2,68 219.6,66.8 222,67.1 224.5,65.2 226.9,64.8 229.4,64.2 231.8,62.7 234.3,61.6 236.8,60.6 239.2,60.1 242.1,60.3 245.1,59.5 248,57.6 250.9,57.5 253.5,56.9 256.2,55.9 258.8,57.3 261.6,56.8 264.4,55.8 267.2,56.7 269.9,57.2 272.7,56.2 275.5,56.2 278.3,57 281.1,56 283.9,56.4 286.7,55.9 289.5,57.3 292.3,56.5 295.1,55.8 297.9,54.9 297.9,59.9 295.1,60.5 292.3,60.1 289.5,60.7 286.7,60.6 283.9,60.4 281.1,60.7 278.3,60.6 275.5,60.2 272.7,61 269.9,61.6 267.2,61.3 264.4,60.6 261.6,61.6 258.8,61.4 256.2,60.9 253.5,61.1 250.9,61.6 248,62.6 245.1,62.8 242.1,64.9 239.2,64.3 236.8,65.3 234.3,66.9 231.8,67 229.4,68.6 226.9,69.3 224.5,70.4 222,70.7 219.6,71.4 217.2,71.6 214.7,72.9 212.2,75.7 209.8,76.3 207.3,76.5 204.9,77.8 202.4,79.5 200,79.8 197.4,81.4 194.8,82.4 192.3,82 189.7,83.8 187.1,84.5 184.7,85.5 182.2,86.4 179.8,88.1 177.3,88 174.8,88.9 172.4,89.3 169.9,90.9 167.5,92.7 165.1,92.3 162.6,93.6 160.2,94.1 157.7,95.6 155.2,95.9 152.8,97.8 150.3,98.2 147.9,99.5 145.5,100 143,101.6 140.6,100.9 138.1,103.1 135.7,103.6 133.2,104.1 130.8,104.9 128.3,105.9 125.9,106.6 123.4,107.4 121,108.6 118.6,108.7 116.1,109.8 113.7,111.1 111.2,111.3 108.8,112.2 106.3,112.8 103.9,113.5 101.5,113.4 99,115.7 96.5,115 94.1,117.3 91.7,117.4 89.2,118 86.8,118 84.3,119.2 81.8,119.2 79.4,120.2 77,121.6 74.5,122.9 72,123.8 69.6,124.3 66.8,124 64,124.9 61.2,125.9 58.5,127.1 55.7,126.9 52.9,128.8" fill="#06d406"/>
<polyline points="52.9,125.9 55.7,125 58.5,124.5 61.2,123.4 64,122.5 66.8,122 69.6,121.7 72,120.9 74.5,120.1 77,118.8 79.4,118.4 81.8,117.5 84.3,116.6 86.8,115.8 89.2,115.2 91.7,115.2 94.1,114.4 96.5,113.6 99,112.9 101.5,111.5 103.9,110.9 106.3,110.5 108.8,109.8 111.2,109.2 113.7,108.5 116.1,107 118.6,106.8 121,106.1 123.4,105.2 125.9,104.1 128.3,103.7 130.8,102.4 133.2,102.4 135.7,101.5 138.1,100.3 140.6,99.3 143,99 145.5,97.8 147.9,97.3 150.3,96.4 152.8,95.2 155.2,94.3 157.7,93.6 160.2,92.6 162.6,91.5 165.1,90.8 167.5,90.4 169.9,88.7 172.4,87.7 174.8,87.3 177.3,86 179.8,85.3 182.2,84.2 184.7,83.1 187.1,82.8 189.7,81.1 192.3,80.5 194.8,79.4 197.4,79 200,77.8 202.4,76.8 204.9,76 207.3,74.5 209.8,73.7 212.2,72.9 214.7,71 217.2,69.9 219.6,68.9 222,68.6 224.5,67.6 226.9,66.3 229.4,65.6 231.8,64.6 234.3,64 236.8,62.7 239.2,62.5 242.1,62 245.1,61.3 248,60.4 250.9,59.9 253.5,58.7 256.2,58.7 258.8,59.1 261.6,58.9 264.4,58.5 267.2,59.1 269.9,58.8 272.7,59 275.5,58.5 278.3,58.4 281.1,58.5 283.9,58.1 286.7,58.3 289.5,58.8 292.3,58 295.1,57.6 297.9,57.5" fill="none" stroke="#06d406" stroke-width="2.2" stroke-linejoin="round"/>
<polygon points="52.9,79.4 55.5,78.9 58.1,80 60.7,80.8 63.3,80 65.9,79.7 68.5,81.5 71,81.7 73.6,82.3 76.2,84.2 78.8,85.4 81.4,83.5 84,84.3 86.6,84.9 89.2,87.2 91.8,85.1 94.4,86.5 97,86.9 99.6,87.1 102.2,88.8 104.8,88.3 107.4,88.7 110.1,90.7 112.7,91 115.3,90.4 117.9,91.5 120.5,92.3 123.1,93 125.7,92.2 128.3,93.1 130.9,93.9 133.5,95.5 136.1,94.5 138.8,94.9 141.4,94.3 144,95.3 146.6,95.4 149.2,97.1 151.8,97.2 154.4,97.7 157,97.9 159.7,98.2 162.3,97.7 164.9,98.3 167.5,98 170.1,98.9 172.6,98.8 175.2,98.9 177.8,101.4 180.3,99.9 182.9,101.8 185.5,102.1 188.1,100.8 190.6,102.3 193.2,103.6 195.8,103.4 198.3,103.3 200.9,104.3 203.5,104.4 206,103.3 208.6,104.4 211.2,104.5 213.7,105 216.2,106.3 218.8,105.5 221.3,106.5 223.9,106 226.4,107.5 229,106 231.5,108.8 234.1,109.4 236.6,108.7 239.2,109.4 241.8,110.4 244.4,110 247,110 249.6,111.5 252.2,111.6 254.8,112 257.4,112.3 260.1,113 262.7,114.1 265.3,114.4 267.9,114.4 270.5,115.1 273.1,115.8 275.7,115.9 278.3,117 280.9,115.9 283.5,118.1 286.1,116.9 288.8,117.3 291.4,118.9 294,118.1 296.6,119.5 299.2,121.3 301.8,121.9 304.4,121.2 307,120.8 309.7,121.3 312.3,122.7 314.9,121.6 317.5,121.9 320.1,124.6 322.6,124.7 325.2,123.5 327.8,124.5 330.3,124.9 332.9,126.3 335.5,125.3 338.1,127.6 340.6,127.6 343.2,126.9 345.8,126.6 348.3,128.2 350.9,128.4 353.5,128.8 356,129.1 358.6,130.8 361.2,129.8 363.7,130.1 366.2,132.2 368.8,133.2 371.4,132.9 373.9,133.4 376.4,134.8 379,134.8 381.6,133 384.1,135.4 386.6,135 389.2,135.6 391.8,135.9 394.4,136.9 397,137.6 399.6,138.4 402.2,137.1 404.8,136.9 407.4,140 410.1,139.4 412.7,139.2 415.3,138.8 417.9,138.3 420.5,141.4 423.1,140.9 425.7,141.6 428.3,141.7 430.9,142.4 433.5,142.3 436.1,141 438.8,141.5 441.4,142.5 444,143.1 446.6,143.6 449.2,143.8 451.8,144.1 454.4,143.7 457,143.6 459.7,144.4 462.3,144.8 464.9,145 467.5,146.1 470,146.6 472.5,146.5 475,144.5 477.5,145.6 480,146.4 482.4,147.5 484.9,146.7 487.4,148 489.9,147.1 492.4,148.7 494.9,147 494.9,153.8 492.4,153.4 489.9,153.1 487.4,152.7 484.9,152.4 482.4,152.3 480,149.7 477.5,152 475,149.6 472.5,150.9 470,151.4 467.5,149.5 464.9,149 462.3,149.2 459.7,149.9 457,148.4 454.4,149.1 451.8,149.6 449.2,147 446.6,148.8 444,147.8 441.4,148.4 438.8,146.5 436.1,147.1 433.5,145.9 430.9,146.3 428.3,145.9 425.7,145.1 423.1,145.6 420.5,144.6 417.9,144.4 415.3,145.9 412.7,142.8 410.1,143.8 407.4,144.7 404.8,142.1 402.2,142 399.6,143.2 397,142.7 394.4,140.9 391.8,140.1 389.2,141.4 386.6,140.4 384.1,141 381.6,138.8 379,138.8 376.4,138.3 373.9,137.9 371.4,136.1 368.8,137.2 366.2,136.7 363.7,137 361.2,134.5 358.6,133.6 356,133.5 353.5,133.3 350.9,133.2 348.3,133 345.8,131 343.2,131.5 340.6,131 338.1,132.7 335.5,131.2 332.9,131.5 330.3,129.6 327.8,128.3 325.2,129.8 322.6,130.5 320.1,129.6 317.5,128.8 314.9,127.1 312.3,126.7 309.7,125.6 307,125.4 304.4,125 301.8,124.6 299.2,124 296.6,123 294,124.2 291.4,122.8 288.8,123.1 286.1,122.7 283.5,121.7 280.9,120.2 278.3,119.8 275.7,121.2 273.1,120 270.5,120.7 267.9,120.3 265.3,118.1 262.7,119 260.1,118.8 257.4,117.6 254.8,117.9 252.2,115.9 249.6,116.2 247,114.4 244.4,115 241.8,115.6 239.2,115.1 236.6,113.3 234.1,114.1 231.5,113.4 229,112.5 226.4,113.4 223.9,111.2 221.3,110.1 218.8,109.7 216.2,111.5 213.7,109.6 211.2,108.3 208.6,109.6 206,108 203.5,109.5 200.9,109 198.3,108.9 195.8,106.3 193.2,105.9 190.6,106.8 188.1,106.8 185.5,106.3 182.9,104.6 180.3,104.5 177.8,105.5 175.2,105.8 172.6,103.6 170.1,102.9 167.5,103.1 164.9,102.9 162.3,104.2 159.7,102.9 157,103.8 154.4,102.1 151.8,101.9 149.2,100.9 146.6,102.2 144,100.4 141.4,100.4 138.8,98.8 136.1,97.7 133.5,99.5 130.9,99 128.3,99.1 125.7,97.7 123.1,97.4 120.5,96.8 117.9,96.8 115.3,94.9 112.7,95.7 110.1,93.9 107.4,93.5 104.8,92.9 102.2,94 99.6,92.4 97,92.3 94.4,91.9 91.8,90.5 89.2,91.7 86.6,90.3 84,89.7 81.4,89.7 78.8,88.2 76.2,87.2 73.6,87.1 71,87.1 68.5,85.6 65.9,85.8 63.3,86.7 60.7,85 58.1,84.9 55.5,82.6 52.9,82.4" fill="#000" fill-opacity="1"/>
<polyline points="52.9,80.5 55.5,81.4 58.1,81.8 60.7,82.6 63.3,83.2 65.9,83.2 68.5,83.7 71,85 73.6,85 76.2,85.5 78.8,86.9 81.4,86.9 84,87.8 86.6,88 89.2,88.7 91.8,88.7 94.4,89.7 97,90.3 99.6,90.5 102.2,91.1 104.8,91.5 107.4,91.4 110.1,92.5 112.7,92.8 115.3,93 117.9,93.2 120.5,94.5 123.1,94.6 125.7,95.3 128.3,95.9 130.9,96.1 133.5,96.7 136.1,96.6 138.8,97.3 141.4,97.4 144,98.3 146.6,98.6 149.2,98.2 151.8,98.6 154.4,99.1 157,100.2 159.7,100.1 162.3,100.7 164.9,100.7 167.5,101.3 170.1,101.5 172.6,101.8 175.2,102.4 177.8,102.7 180.3,103.3 182.9,103.4 185.5,104 188.1,104.3 190.6,104.7 193.2,104.7 195.8,104.5 198.3,105.6 200.9,106 203.5,106.3 206,106.2 208.6,106.7 211.2,106.7 213.7,107.7 216.2,107.9 218.8,108.1 221.3,108.3 223.9,109.5 226.4,110.1 229,109.6 231.5,110.8 234.1,110.8 236.6,111 239.2,111.6 241.8,112.5 244.4,113.1 247,112.7 249.6,113.7 252.2,113.6 254.8,114.7 257.4,114.8 260.1,115.8 262.7,116.4 265.3,116.3 267.9,117.3 270.5,117 273.1,117.3 275.7,118.2 278.3,118.1 280.9,118.8 283.5,119.4 286.1,120.1 288.8,120.1 291.4,120.4 294,121.7 296.6,121.6 299.2,122.7 301.8,123.1 304.4,123.1 307,123.6 309.7,124.1 312.3,124.7 314.9,125.1 317.5,125.6 320.1,126 322.6,126.8 325.2,126.8 327.8,127.1 330.3,127.8 332.9,127.8 335.5,128.3 338.1,129.4 340.6,129.3 343.2,129.8 345.8,129.7 348.3,130.5 350.9,131.1 353.5,131 356,132 358.6,132.4 361.2,132.4 363.7,133.5 366.2,133.9 368.8,134.6 371.4,134.8 373.9,135.7 376.4,136.3 379,136.1 381.6,136.7 384.1,137.8 386.6,138.6 389.2,138.5 391.8,139 394.4,139.4 397,139.5 399.6,139.9 402.2,140.1 404.8,140.5 407.4,141.1 410.1,141.1 412.7,141.5 415.3,142.2 417.9,141.8 420.5,142.7 423.1,143.2 425.7,143.1 428.3,143.3 430.9,144.2 433.5,143.9 436.1,144.1 438.8,144.6 441.4,145.1 444,144.8 446.6,145.2 449.2,145.5 451.8,146.3 454.4,146.1 457,146.8 459.7,146.4 462.3,146.8 464.9,147.4 467.5,147.9 470,147.7 472.5,147.8 475,147.9 477.5,148.6 480,148.5 482.4,149.4 484.9,149.7 487.4,149.3 489.9,149.7 492.4,150.4 494.9,150.5" fill="none" stroke="#000" stroke-opacity="1" stroke-width="4.2" stroke-linejoin="round"/>
<polygon points="52.9,78.4 55.5,80.4 58.1,80.4 60.7,80.6 63.3,82.1 65.9,81.8 68.5,82.7 71,83.7 73.6,83.9 76.2,84.5 78.8,85.1 81.4,84.8 84,87 86.6,85.9 89.2,87.3 91.8,88 94.4,87.9 97,88.5 99.6,88.8 102.2,89.2 104.8,90.4 107.4,89.6 110.1,90.4 112.7,91.5 115.3,91.1 117.9,91.2 120.5,92.2 123.1,93.6 125.7,93.6 128.3,94.5 130.9,94.6 133.5,95.8 136.1,94.4 138.8,96.1 141.4,96.4 144,96.4 146.6,97 149.2,96.4 151.8,96.8 154.4,98.3 157,98.3 159.7,99 162.3,98.4 164.9,99.7 167.5,99.1 170.1,100.5 172.6,99.6 175.2,100.4 177.8,100.8 180.3,101.5 182.9,102.4 185.5,102.5 188.1,102 190.6,102.7 193.2,103.1 195.8,103.4 198.3,104.3 200.9,104.5 203.5,105.2 206,105.5 208.6,105.9 211.2,105.9 213.7,106.9 216.2,107.2 218.8,106.9 221.3,107.1 223.9,108.1 226.4,108.4 229,108.7 231.5,109.1 234.1,110 236.6,109.4 239.2,109.3 241.8,111.6 244.4,111.6 247,110.4 249.6,112.7 252.2,112.6 254.8,113.8 257.4,113.2 260.1,113.8 262.7,114.4 265.3,114.9 267.9,116.1 270.5,115.6 273.1,115.4 275.7,116.2 278.3,117.4 280.9,118.1 283.5,118.6 286.1,118.6 288.8,117.9 291.4,118.5 294,120.3 296.6,120.7 299.2,121.6 301.8,121 304.4,122.2 307,122.3 309.7,122.5 312.3,123.7 314.9,123.5 317.5,124.1 320.1,123.8 322.6,124.6 325.2,126 327.8,125.5 330.3,126.8 332.9,126.1 335.5,126.6 338.1,127.3 340.6,128.5 343.2,127.9 345.8,128.6 348.3,128.5 350.9,129.3 353.5,128.8 356,130.8 358.6,131.6 361.2,131.1 363.7,132.2 366.2,132 368.8,133.8 371.4,132.7 373.9,133.8 376.4,134.9 379,134.8 381.6,134.8 384.1,136.5 386.6,136.5 389.2,136.2 391.8,137.4 394.4,138.1 397,138.6 399.6,138.3 402.2,139.3 404.8,139.5 407.4,140.3 410.1,139.9 412.7,139.9 415.3,141 417.9,140.6 420.5,140.8 423.1,141.2 425.7,141.3 428.3,141.9 430.9,141.9 433.5,142.1 436.1,142 438.8,143.8 441.4,143.5 444,143.4 446.6,143.2 449.2,143.9 451.8,145.5 454.4,145.2 457,146 459.7,144.4 462.3,145.9 464.9,146.4 467.5,146.2 470,146 472.5,146.9 475,146.1 477.5,146.7 480,147.2 482.4,147.9 484.9,148.1 487.4,147.7 489.9,148.5 492.4,149.3 494.9,149 494.9,152 492.4,151.3 489.9,151.3 487.4,150.2 484.9,151.2 482.4,151.4 480,149.4 477.5,150.2 475,148.9 472.5,149 470,149.8 467.5,149.9 464.9,149 462.3,148.5 459.7,147.6 457,148.5 454.4,148 451.8,147.7 449.2,147.6 446.6,146.4 444,145.5 441.4,146.9 438.8,146.5 436.1,144.9 433.5,145.6 430.9,145 428.3,144.6 425.7,144.8 423.1,145 420.5,143.8 417.9,142.6 415.3,144.3 412.7,143 410.1,142.9 407.4,143.1 404.8,142.6 402.2,141.6 399.6,142 397,141.4 394.4,141.1 391.8,140.9 389.2,140.6 386.6,139.8 384.1,138.7 381.6,138 379,138 376.4,137.1 373.9,137.9 371.4,135.7 368.8,136.9 366.2,135.9 363.7,134.6 361.2,133.1 358.6,133.1 356,133 353.5,132.2 350.9,133.2 348.3,132 345.8,131.4 343.2,130.9 340.6,130.9 338.1,130.5 335.5,130.4 332.9,129 330.3,129.1 327.8,129 325.2,128.6 322.6,128.7 320.1,127.8 317.5,127.3 314.9,127.4 312.3,126.2 309.7,124.9 307,124.7 304.4,125.3 301.8,124.6 299.2,124.8 296.6,123.3 294,124 291.4,122.5 288.8,121.5 286.1,120.9 283.5,121 280.9,119.6 278.3,120 275.7,120.2 273.1,118 270.5,118 267.9,118.6 265.3,118.3 262.7,118.2 260.1,117.4 257.4,115.7 254.8,115.7 252.2,115.3 249.6,114.6 247,113.5 244.4,115.3 241.8,114.2 239.2,113.1 236.6,111.8 234.1,112.1 231.5,111.7 229,110.6 226.4,111.5 223.9,111.5 221.3,110.5 218.8,109.2 216.2,110.1 213.7,109.9 211.2,108.1 208.6,107.4 206,107 203.5,108.3 200.9,108.1 198.3,107.4 195.8,105.4 193.2,106.8 190.6,106.9 188.1,105.7 185.5,104.8 182.9,104.5 180.3,105.3 177.8,104.3 175.2,103.6 172.6,103.2 170.1,103.3 167.5,102.9 164.9,101.8 162.3,102.9 159.7,101.1 157,101 154.4,99.9 151.8,100.8 149.2,100.3 146.6,99.6 144,100.4 141.4,99.7 138.8,99 136.1,97.7 133.5,97.5 130.9,97.8 128.3,96.8 125.7,97 123.1,96.2 120.5,96.6 117.9,94.1 115.3,94.5 112.7,94.7 110.1,93.3 107.4,92.4 104.8,93.8 102.2,92.5 99.6,91.4 97,91.3 94.4,91.8 91.8,89.5 89.2,90.8 86.6,89.3 84,89.1 81.4,88.5 78.8,88.5 76.2,87 73.6,86.4 71,86.2 68.5,85.1 65.9,84.7 63.3,83.9 60.7,83.9 58.1,82.9 55.5,82.5 52.9,82.7" fill="#000"/>
<polyline points="52.9,80.5 55.5,81.4 58.1,81.8 60.7,82.6 63.3,83.2 65.9,83.2 68.5,83.7 71,85 73.6,85 76.2,85.5 78.8,86.9 81.4,86.9 84,87.8 86.6,88 89.2,88.7 91.8,88.7 94.4,89.7 97,90.3 99.6,90.5 102.2,91.1 104.8,91.5 107.4,91.4 110.1,92.5 112.7,92.8 115.3,93 117.9,93.2 120.5,94.5 123.1,94.6 125.7,95.3 128.3,95.9 130.9,96.1 133.5,96.7 136.1,96.6 138.8,97.3 141.4,97.4 144,98.3 146.6,98.6 149.2,98.2 151.8,98.6 154.4,99.1 157,100.2 159.7,100.1 162.3,100.7 164.9,100.7 167.5,101.3 170.1,101.5 172.6,101.8 175.2,102.4 177.8,102.7 180.3,103.3 182.9,103.4 185.5,104 188.1,104.3 190.6,104.7 193.2,104.7 195.8,104.5 198.3,105.6 200.9,106 203.5,106.3 206,106.2 208.6,106.7 211.2,106.7 213.7,107.7 216.2,107.9 218.8,108.1 221.3,108.3 223.9,109.5 226.4,110.1 229,109.6 231.5,110.8 234.1,110.8 236.6,111 239.2,111.6 241.8,112.5 244.4,113.1 247,112.7 249.6,113.7 252.2,113.6 254.8,114.7 257.4,114.8 260.1,115.8 262.7,116.4 265.3,116.3 267.9,117.3 270.5,117 273.1,117.3 275.7,118.2 278.3,118.1 280.9,118.8 283.5,119.4 286.1,120.1 288.8,120.1 291.4,120.4 294,121.7 296.6,121.6 299.2,122.7 301.8,123.1 304.4,123.1 307,123.6 309.7,124.1 312.3,124.7 314.9,125.1 317.5,125.6 320.1,126 322.6,126.8 325.2,126.8 327.8,127.1 330.3,127.8 332.9,127.8 335.5,128.3 338.1,129.4 340.6,129.3 343.2,129.8 345.8,129.7 348.3,130.5 350.9,131.1 353.5,131 356,132 358.6,132.4 361.2,132.4 363.7,133.5 366.2,133.9 368.8,134.6 371.4,134.8 373.9,135.7 376.4,136.3 379,136.1 381.6,136.7 384.1,137.8 386.6,138.6 389.2,138.5 391.8,139 394.4,139.4 397,139.5 399.6,139.9 402.2,140.1 404.8,140.5 407.4,141.1 410.1,141.1 412.7,141.5 415.3,142.2 417.9,141.8 420.5,142.7 423.1,143.2 425.7,143.1 428.3,143.3 430.9,144.2 433.5,143.9 436.1,144.1 438.8,144.6 441.4,145.1 444,144.8 446.6,145.2 449.2,145.5 451.8,146.3 454.4,146.1 457,146.8 459.7,146.4 462.3,146.8 464.9,147.4 467.5,147.9 470,147.7 472.5,147.8 475,147.9 477.5,148.6 480,148.5 482.4,149.4 484.9,149.7 487.4,149.3 489.9,149.7 492.4,150.4 494.9,150.5" fill="none" stroke="#000" stroke-width="2.2" stroke-linejoin="round"/>
<polyline points="52.9,134.7 54.4,134.9 55.9,135 57.4,135.3 58.9,135 60.4,135.3 61.9,133.7 63.4,134.5 64.9,135.4 66.4,134.8 67.9,135.3 69.4,133.9 70.9,134.5 72.4,134.1 73.9,134.7 75.4,134.8 76.9,133.8 78.4,134.1 79.9,134.3 81.4,135.4 82.9,135.1 84.4,134.1 85.9,135.2 87.4,134 88.9,134.9 90.4,134 91.9,133.8 93.4,135.4 94.9,134.2 96.4,134.2 97.9,135.6 99.4,135.4 100.9,134.4 102.4,135.6 103.9,134.8 105.4,135.1 106.9,134.3 108.4,135.6 109.9,135.2 111.4,135.7 112.9,135.5 114.4,134.5 115.9,134.6 117.4,134.2 118.9,134.2 120.4,134.1 121.9,134.5 123.4,135.1 124.9,134 126.4,135.2 128,134.6 129.5,134.6 131,135.5 132.5,134.9 134,134.6 135.5,134.9 137,135.3 138.5,134.2 140,135.8 141.5,134.1 143,135.4 144.5,135.6 146,134.1 147.5,135.5 149,134.8 150.5,135.2 152,134.2 153.5,134.2 155,134.5 156.5,135.9 158,134.5 159.5,135.5 161,135.9 162.5,135.9 164,134.8 165.5,134.9 167,135.2 168.5,135.6 170,134.4 171.5,135.6 173,135.7 174.5,135.8 176,134.3 177.5,136 179,134.4 180.5,134.9 182,135.4 183.5,136 185,134.9 186.5,136 188,135.3 189.5,134.9 191,134.9 192.5,134.7 194,134.5 195.5,134.6 197,135.6 198.5,136.2 200,134.7 201.5,134.5 203,136.2 204.5,135.4 206,135.1 207.5,134.8 209,135.5 210.5,135.9 212,135.3 213.5,135.2 215,134.5 216.5,136.1 218,134.5 219.5,135.3 221,136 222.5,134.7 224,135.8 225.5,136.2 227,135.6 228.5,135.9 230,134.7 231.5,135.3 233,134.8 234.5,136 236,135 237.5,135.3 239,136.3 240.5,136 242,136.3 243.5,135.3 245,135.4 246.5,135.8 248,135.4 249.5,135.1 251,135.3 252.5,134.8 254,135.2 255.5,136.3 257,136.3 258.5,135.7 260,135.5 261.5,135.2 263,134.7 264.5,135.1 266,136 267.5,136.1 269,135.2 270.5,136 272,136 273.5,135.8 275,135.8 276.5,136 278,135.3 279.5,135.9 281,135.1 282.5,135.5 284,136 285.5,135.9 287,135.2 288.5,136.3 290,135.8 291.5,135.7 293,134.7 294.5,135.6 296,135.1 297.5,135.9 299,135.5 300.5,136.1 302,135.8 303.5,136.1 305,135.3 306.5,135.8 308,136 309.5,136.2 311,135.3 312.5,136.2 314,136.3 315.5,135.9 317,136.5 318.5,136.4 320,135.7 321.5,135.7 323,135 324.5,136.2 326,136.4 327.5,135.6 329,136 330.5,136 332,136.1 333.5,135.1 335,136.2 336.5,135.8 338,136 339.5,135.5 341,135.9 342.5,136.2 344,135.9 345.5,136.1 347,134.8 348.5,135.1 350,135.6 351.5,136 353,135.2 354.5,136.1 356,136 357.5,134.9 359,135.7 360.5,135.3 362,135 363.5,135.1 365,135.5 366.5,135.2 368,135.2 369.5,135 371,135.8 372.5,135.6 374,136 375.6,136 377.1,135.4 378.6,136.6 380.1,135 381.6,135.7 383.1,135.5 384.6,135.7 386.1,135.2 387.6,136.5 389.1,135.7 390.6,135.1 392.1,136.1 393.6,135.2 395.1,136 396.6,135.7 398.1,136.1 399.6,136.8 401.1,136.5 402.6,135.8 404.1,136.6 405.6,136.3 407.1,135.8 408.6,135.4 410.1,136.2 411.6,136.1 413.1,136.9 414.6,136.9 416.1,136.3 417.6,135.8 419.1,136.8 420.6,135.2 422.1,135.4 423.6,136.2 425.2,136.3 426.7,135.5 428.2,136.4 429.7,136.8 431.2,135.9 432.7,136 434.2,135.7 435.7,135.8 437.2,137 438.7,136 440.2,137 441.7,136.9 443.2,136.4 444.7,135.8 446.2,137.1 447.7,136.2 449.2,136.1 450.7,135.9 452.2,137.1 453.7,136.2 455.2,135.9 456.7,136.2 458.2,135.6 459.7,136.5 461.2,136.2 462.7,135.9 464.2,136.8 465.7,136.9 467.2,135.5 468.7,136.4 470.2,135.9 471.7,137.1 473.2,136.9 474.8,135.9 476.3,136 477.8,135.8 479.3,137.3 480.8,136 482.3,136.6 483.8,136.4 485.3,136.7 486.8,136.6 488.3,136.9 489.8,135.8 491.3,136.9 492.8,136.1 494.3,136.5 495.8,136.2 497.3,136.1 498.8,136.6 499.5,134.9 500.1,133.2 500.8,132.4 501.5,130.7 502.1,128.2 502.8,127.1 503.7,126 504.5,125.4 505.4,123.9 506.2,121.9 507.1,119.5 507.9,119.4 508.8,117.4 509.9,116.2 511,115.1 512.6,114.9 514.1,114.7 515.7,115.4 517.3,114.5 518.9,114.5 520.4,115.3 522,114.2 523.6,114.3 525.2,115.3 526.7,113.9 528.3,115.3 529.3,113.9 530.3,112.3 531.2,110.9 532.2,110.7 533.2,109.8 534.2,107.3 535.2,106.6 536.2,105.5 537.1,104.2 538.1,102.7 539.1,101.2 540,100.7 541,99.9 542,97.3 543.1,96.4 544.2,96.2 545.3,94.9 546.5,93.4 547.6,91 548.7,91 549.8,90.2 550.9,88.9 552.1,87.1 553.2,84.7 554.3,84.9 555.4,82.5 556.6,82 557.7,81.3 559,79.7 560.3,77.5 561.6,76.7 562.9,76.7 564.2,74.1 565.5,73.8 566.8,72.1 568.1,70.4 569.4,69.9 570.9,68.9 572.4,69 573.9,69.5 575.4,68.9 576.9,68.9 578.4,69.8 579.9,70.1 581.4,70.4 582.9,69 584.4,69.5 585.9,69.3 587.4,69.8 588.9,69.6 590.5,70.4 592,69.4 593.5,68.8 595,70 596.5,69 598,69.9 599.5,69.6 601,70.4 602.5,69.7 604,69.8 605.5,69.2 607,69.7 608.5,69.2 610,70.1 611.5,69.6 613,68.9 614.5,69.1 616,69.4 617.5,70 619,69 620.5,70 622,69.9 623.5,68.8 625,69.9 626.5,68.8 628,68.9 629.5,69.7 631,69.1 632.5,70.2 634.1,69.5 635.6,69.2 637.1,70.1 638.6,68.7 640.1,69.9 641.6,68.7 643.1,68.9 644.6,70.3 646.1,69.8 647.6,69 649.1,68.8 650.6,70.4 652.1,69.8 653.6,70.1 655.1,68.9 656.6,69.7 658.1,69.3 659.7,69.1 661.2,69.2 662.7,69.8 664.2,69.3 665.7,69.4 667.2,68.9 668.8,70.2 670.3,69.9 671.8,70.2 673.3,69.5 674.8,70.3 676.3,69.7 677.8,69.8 679.4,69.8 680.9,70.1 682.4,69.5 683.9,69 685.4,68.8 686.9,69.2 688.5,68.9 690,70.4 691.5,69.7 693,70.2 694.5,68.8 696,69.7 697.6,70.5 699.1,70 700.6,69.6 702.1,69.7 703.6,69.1 705.1,69.2 706.6,69.2 708.2,69.6 709.7,69.6 711.2,70.5 712.7,69.2 714.2,69.4 715.7,69.5 717.3,69.3 718.8,69.5 720.3,69.4 721.8,69.9 723.3,69.1 724.8,70.7 726.3,69.7 727.9,70.7 729.4,70.3 730.9,70.3 732.4,69.9 733.9,70.8 735.4,69.3 737,70.3 738.5,69.6 740,70.3 741.5,70.4 743,69.4 744.5,69.5 746,69.2 747.6,69.6 749.1,69.3 750.6,69.9 752.1,70.9 753.6,69.8 755.1,69.8 756.7,70 758.2,69.7 759.7,70.5 761.2,70.5 762.7,69.5 764.2,69.7 765.8,70.5 767.3,71 768.8,70.4 770.3,70.1 771.8,71 773.3,69.3 774.8,69.4 776.4,70.7 777.9,70.1 779.4,69.4 780.9,70.3 782.4,71.1 783.9,70.3 785.5,70 787,69.6 788.5,69.5 790,71 791.6,70.3 793.1,71 794.7,69.4 796.3,69.8 797.8,69.4 799.4,70 801,69.4 802.5,69.7 804.1,70 805.6,69.8 807.2,69.3 808.8,69.2 810.3,70.9 811.9,69.4 813.5,70 815,69.8 816.6,70 818.2,69.2 819.7,69.6 821.3,69.2 822.4,71.2 823.6,73.2 824.7,73.8 825.8,75.6 826.9,75.7 828.1,76.6 829.2,78.8 830.2,80 831.1,81.4 832.1,82.4 833.1,84.1 834,85.6 835,87.2 836.2,87.2 837.4,88.4 838.5,90.1 839.7,90 840.9,90.8 842.5,91.5 844.1,91.5 845.6,93.1 847.2,93.6 848.8,93.1 850.4,92.2 851.9,91.5 853.5,91.2 855,90.3 856.6,90.4 858.3,90.4 859.9,89.5 861.6,88.9 863.3,89.7 865,88.3 866.6,88.2 868.3,88.1 869.9,87.8 871.6,86.8 873.2,86.9 874.8,86.2 876.5,86.5 878.1,85.7 879.6,86.3 881.2,85.9 882.7,86.1 884.3,85.8 885.8,85.6 887.4,86.3 888.9,86 890.5,86.6 892,86.2 893.6,86.2 895.1,85.4 896.7,86.4 898.2,85.7 899.8,85.2 901.3,85.1 902.9,85.3 904.4,85.5 906,86.3 907.5,85.6 909,85.1 910.6,86.3 912.1,85.9 913.7,84.9 915.2,84.8 916.8,84.9 918.3,85.2 919.9,86.1 921.4,86.2 923,85.5 924.5,84.7 926.1,85 927.6,84.8 929.2,84.7 930.7,84.1 932.3,85 933.8,85.4 935.4,85.1 936.9,83.9 938.5,84.6 940,83.9 941.5,84.9 943.1,84.4 944.6,85.3 946.2,85 947.7,83.8 949.3,84.2 950.8,85.2 952.4,84.4 953.9,84.4 955.5,84.4 957,85 958.6,85.3 960.1,84.6 961.6,85.3 963.2,84.7 964.7,83.8 966.3,85.1 967.8,84.4 969.4,83.7 970.9,85.4 972.5,83.7 974,84.6 975.6,84.5 977.1,85.2 978.7,84.3 980.2,84 981.8,84.1 983.3,84 984.9,85 986.4,85.1 988,86.2 989.5,85.7 991.1,86.4 992.6,86.6 994.2,88.4 995.7,88.2 997.3,88.3 998.8,88 1000.4,87.7 1001.9,87.4 1003.5,88.7 1005,88.2 1006.6,87.5 1008.1,87.8 1009.7,87.8 1011.2,89 1012.8,89.5 1014.3,88.3 1015.9,89.5 1017.4,88.8 1019,89.5 1020.5,89.9 1022.1,89.6 1023.6,90 1025.2,89.4 1026.7,88.8 1028.2,89.7 1029.7,89.9 1031.2,89.1 1032.7,89.5 1034.2,89.4 1035.7,88.8 1037.2,89.4 1038.7,89.5 1040.2,89.7 1041.7,90.1 1043.2,89.5 1044.8,90.6 1046.3,90.3 1047.8,90.5 1049.3,90 1050.8,90 1052.3,89.8 1053.8,90.2 1055.3,89.5 1056.8,89.9 1058.3,90 1059.8,89.7 1061.3,89.3 1062.8,88.9 1064.3,89 1065.8,89.4 1067.3,89.8 1068.8,90.2 1070.3,90.1 1071.8,89.4 1073.3,90.5 1074.8,89.3 1076.3,90.1 1077.8,88.9 1079.3,90.2 1080.8,90 1082.4,90.5 1083.9,90.4 1085.4,90 1086.9,90.3 1088.4,90.1 1089.9,89.9 1091.4,89.2 1092.9,89.7 1094.4,90.4 1095.9,89.2 1097.4,90.6 1098.9,89.8 1100.4,89.5 1101.9,88.8 1103.4,89.5 1104.9,89.1 1106.4,90 1107.9,90.4 1109.4,90.4 1110.9,89.9 1112.4,89.5 1113.9,89 1115.4,90 1117,89.8 1118.5,90.1 1120,89.5 1121.5,90.4 1123,89.2 1124.5,89.4 1126,89.3 1127.5,89.9 1129,90.4 1130.5,89.1 1132,89.9 1133.5,90.2 1135,89.2 1136.7,89.8 1138.3,91.7 1140,93.1 1141.5,93.2 1143,92.9 1144.5,92.4 1146,92.4 1147.5,92.6 1149,93.3 1150.5,92.2 1152,92.2 1153.5,92.8 1155,93.5 1156.5,92.1 1158,91.8 1159.5,92 1161,92.8 1162.5,92.9 1164,92.1 1165.5,92.2 1167,92.9 1168.5,93 1170,93.1 1171.5,93.2 1173,92 1174.5,92.8 1176,93.4 1177.5,93.7 1179,92.5 1180.5,93.5 1182,93.1 1183.5,93.6 1185,92.4 1186.5,93.3 1188,93.5 1189.5,92.9 1191,92.2 1192.5,92.4 1194,92.4 1195.5,92.3 1197,92.4" fill="none" stroke="#b80000" stroke-width="3.5" stroke-linejoin="round" stroke-dasharray="9 3 7 2"/>
<polyline points="52.9,132.7 54.4,132.9 55.9,133 57.4,133.3 58.9,133 60.4,133.3 61.9,131.7 63.4,132.5 64.9,133.4 66.4,132.8 67.9,133.3 69.4,131.9 70.9,132.5 72.4,132.1 73.9,132.7 75.4,132.8 76.9,131.8 78.4,132.1 79.9,132.3 81.4,133.4 82.9,133.1 84.4,132.1 85.9,133.2 87.4,132 88.9,132.9 90.4,132 91.9,131.8 93.4,133.4 94.9,132.2 96.4,132.2 97.9,133.6 99.4,133.4 100.9,132.4 102.4,133.6 103.9,132.8 105.4,133.1 106.9,132.3 108.4,133.6 109.9,133.2 111.4,133.7 112.9,133.5 114.4,132.5 115.9,132.6 117.4,132.2 118.9,132.2 120.4,132.1 121.9,132.5 123.4,133.1 124.9,132 126.4,133.2 128,132.6 129.5,132.6 131,133.5 132.5,132.9 134,132.6 135.5,132.9 137,133.3 138.5,132.2 140,133.8 141.5,132.1 143,133.4 144.5,133.6 146,132.1 147.5,133.5 149,132.8 150.5,133.2 152,132.2 153.5,132.2 155,132.5 156.5,133.9 158,132.5 159.5,133.5 161,133.9 162.5,133.9 164,132.8 165.5,132.9 167,133.2 168.5,133.6 170,132.4 171.5,133.6 173,133.7 174.5,133.8 176,132.3 177.5,134 179,132.4 180.5,132.9 182,133.4 183.5,134 185,132.9 186.5,134 188,133.3 189.5,132.9 191,132.9 192.5,132.7 194,132.5 195.5,132.6 197,133.6 198.5,134.2 200,132.7 201.5,132.5 203,134.2 204.5,133.4 206,133.1 207.5,132.8 209,133.5 210.5,133.9 212,133.3 213.5,133.2 215,132.5 216.5,134.1 218,132.5 219.5,133.3 221,134 222.5,132.7 224,133.8 225.5,134.2 227,133.6 228.5,133.9 230,132.7 231.5,133.3 233,132.8 234.5,134 236,133 237.5,133.3 239,134.3 240.5,134 242,134.3 243.5,133.3 245,133.4 246.5,133.8 248,133.4 249.5,133.1 251,133.3 252.5,132.8 254,133.2 255.5,134.3 257,134.3 258.5,133.7 260,133.5 261.5,133.2 263,132.7 264.5,133.1 266,134 267.5,134.1 269,133.2 270.5,134 272,134 273.5,133.8 275,133.8 276.5,134 278,133.3 279.5,133.9 281,133.1 282.5,133.5 284,134 285.5,133.9 287,133.2 288.5,134.3 290,133.8 291.5,133.7 293,132.7 294.5,133.6 296,133.1 297.5,133.9 299,133.5 300.5,134.1 302,133.8 303.5,134.1 305,133.3 306.5,133.8 308,134 309.5,134.2 311,133.3 312.5,134.2 314,134.3 315.5,133.9 317,134.5 318.5,134.4 320,133.7 321.5,133.7 323,133 324.5,134.2 326,134.4 327.5,133.6 329,134 330.5,134 332,134.1 333.5,133.1 335,134.2 336.5,133.8 338,134 339.5,133.5 341,133.9 342.5,134.2 344,133.9 345.5,134.1 347,132.8 348.5,133.1 350,133.6 351.5,134 353,133.2 354.5,134.1 356,134 357.5,132.9 359,133.7 360.5,133.3 362,133 363.5,133.1 365,133.5 366.5,133.2 368,133.2 369.5,133 371,133.8 372.5,133.6 374,134 375.6,134 377.1,133.4 378.6,134.6 380.1,133 381.6,133.7 383.1,133.5 384.6,133.7 386.1,133.2 387.6,134.5 389.1,133.7 390.6,133.1 392.1,134.1 393.6,133.2 395.1,134 396.6,133.7 398.1,134.1 399.6,134.8 401.1,134.5 402.6,133.8 404.1,134.6 405.6,134.3 407.1,133.8 408.6,133.4 410.1,134.2 411.6,134.1 413.1,134.9 414.6,134.9 416.1,134.3 417.6,133.8 419.1,134.8 420.6,133.2 422.1,133.4 423.6,134.2 425.2,134.3 426.7,133.5 428.2,134.4 429.7,134.8 431.2,133.9 432.7,134 434.2,133.7 435.7,133.8 437.2,135 438.7,134 440.2,135 441.7,134.9 443.2,134.4 444.7,133.8 446.2,135.1 447.7,134.2 449.2,134.1 450.7,133.9 452.2,135.1 453.7,134.2 455.2,133.9 456.7,134.2 458.2,133.6 459.7,134.5 461.2,134.2 462.7,133.9 464.2,134.8 465.7,134.9 467.2,133.5 468.7,134.4 470.2,133.9 471.7,135.1 473.2,134.9 474.8,133.9 476.3,134 477.8,133.8 479.3,135.3 480.8,134 482.3,134.6 483.8,134.4 485.3,134.7 486.8,134.6 488.3,134.9 489.8,133.8 491.3,134.9 492.8,134.1 494.3,134.5 495.8,134.2 497.3,134.1 498.8,134.6 499.5,132.9 500.1,131.2 500.8,130.4 501.5,128.7 502.1,126.2 502.8,125.1 503.7,124 504.5,123.4 505.4,121.9 506.2,119.9 507.1,117.5 507.9,117.4 508.8,115.4 509.9,114.2 511,113.1 512.6,112.9 514.1,112.7 515.7,113.4 517.3,112.5 518.9,112.5 520.4,113.3 522,112.2 523.6,112.3 525.2,113.3 526.7,111.9 528.3,113.3 529.3,111.9 530.3,110.3 531.2,108.9 532.2,108.7 533.2,107.8 534.2,105.3 535.2,104.6 536.2,103.5 537.1,102.2 538.1,100.7 539.1,99.2 540,98.7 541,97.9 542,95.3 543.1,94.4 544.2,94.2 545.3,92.9 546.5,91.4 547.6,89 548.7,89 549.8,88.2 550.9,86.9 552.1,85.1 553.2,82.7 554.3,82.9 555.4,80.5 556.6,80 557.7,79.3 559,77.7 560.3,75.5 561.6,74.7 562.9,74.7 564.2,72.1 565.5,71.8 566.8,70.1 568.1,68.4 569.4,67.9 570.9,66.9 572.4,67 573.9,67.5 575.4,66.9 576.9,66.9 578.4,67.8 579.9,68.1 581.4,68.4 582.9,67 584.4,67.5 585.9,67.3 587.4,67.8 588.9,67.6 590.5,68.4 592,67.4 593.5,66.8 595,68 596.5,67 598,67.9 599.5,67.6 601,68.4 602.5,67.7 604,67.8 605.5,67.2 607,67.7 608.5,67.2 610,68.1 611.5,67.6 613,66.9 614.5,67.1 616,67.4 617.5,68 619,67 620.5,68 622,67.9 623.5,66.8 625,67.9 626.5,66.8 628,66.9 629.5,67.7 631,67.1 632.5,68.2 634.1,67.5 635.6,67.2 637.1,68.1 638.6,66.7 640.1,67.9 641.6,66.7 643.1,66.9 644.6,68.3 646.1,67.8 647.6,67 649.1,66.8 650.6,68.4 652.1,67.8 653.6,68.1 655.1,66.9 656.6,67.7 658.1,67.3 659.7,67.1 661.2,67.2 662.7,67.8 664.2,67.3 665.7,67.4 667.2,66.9 668.8,68.2 670.3,67.9 671.8,68.2 673.3,67.5 674.8,68.3 676.3,67.7 677.8,67.8 679.4,67.8 680.9,68.1 682.4,67.5 683.9,67 685.4,66.8 686.9,67.2 688.5,66.9 690,68.4 691.5,67.7 693,68.2 694.5,66.8 696,67.7 697.6,68.5 699.1,68 700.6,67.6 702.1,67.7 703.6,67.1 705.1,67.2 706.6,67.2 708.2,67.6 709.7,67.6 711.2,68.5 712.7,67.2 714.2,67.4 715.7,67.5 717.3,67.3 718.8,67.5 720.3,67.4 721.8,67.9 723.3,67.1 724.8,68.7 726.3,67.7 727.9,68.7 729.4,68.3 730.9,68.3 732.4,67.9 733.9,68.8 735.4,67.3 737,68.3 738.5,67.6 740,68.3 741.5,68.4 743,67.4 744.5,67.5 746,67.2 747.6,67.6 749.1,67.3 750.6,67.9 752.1,68.9 753.6,67.8 755.1,67.8 756.7,68 758.2,67.7 759.7,68.5 761.2,68.5 762.7,67.5 764.2,67.7 765.8,68.5 767.3,69 768.8,68.4 770.3,68.1 771.8,69 773.3,67.3 774.8,67.4 776.4,68.7 777.9,68.1 779.4,67.4 780.9,68.3 782.4,69.1 783.9,68.3 785.5,68 787,67.6 788.5,67.5 790,69 791.6,68.3 793.1,69 794.7,67.4 796.3,67.8 797.8,67.4 799.4,68 801,67.4 802.5,67.7 804.1,68 805.6,67.8 807.2,67.3 808.8,67.2 810.3,68.9 811.9,67.4 813.5,68 815,67.8 816.6,68 818.2,67.2 819.7,67.6 821.3,67.2 822.4,69.2 823.6,71.2 824.7,71.8 825.8,73.6 826.9,73.7 828.1,74.6 829.2,76.8 830.2,78 831.1,79.4 832.1,80.4 833.1,82.1 834,83.6 835,85.2 836.2,85.2 837.4,86.4 838.5,88.1 839.7,88 840.9,88.8 842.5,89.5 844.1,89.5 845.6,91.1 847.2,91.6 848.8,91.1 850.4,90.2 851.9,89.5 853.5,89.2 855,88.3 856.6,88.4 858.3,88.4 859.9,87.5 861.6,86.9 863.3,87.7 865,86.3 866.6,86.2 868.3,86.1 869.9,85.8 871.6,84.8 873.2,84.9 874.8,84.2 876.5,84.5 878.1,83.7 879.6,84.3 881.2,83.9 882.7,84.1 884.3,83.8 885.8,83.6 887.4,84.3 888.9,84 890.5,84.6 892,84.2 893.6,84.2 895.1,83.4 896.7,84.4 898.2,83.7 899.8,83.2 901.3,83.1 902.9,83.3 904.4,83.5 906,84.3 907.5,83.6 909,83.1 910.6,84.3 912.1,83.9 913.7,82.9 915.2,82.8 916.8,82.9 918.3,83.2 919.9,84.1 921.4,84.2 923,83.5 924.5,82.7 926.1,83 927.6,82.8 929.2,82.7 930.7,82.1 932.3,83 933.8,83.4 935.4,83.1 936.9,81.9 938.5,82.6 940,81.9 941.5,82.9 943.1,82.4 944.6,83.3 946.2,83 947.7,81.8 949.3,82.2 950.8,83.2 952.4,82.4 953.9,82.4 955.5,82.4 957,83 958.6,83.3 960.1,82.6 961.6,83.3 963.2,82.7 964.7,81.8 966.3,83.1 967.8,82.4 969.4,81.7 970.9,83.4 972.5,81.7 974,82.6 975.6,82.5 977.1,83.2 978.7,82.3 980.2,82 981.8,82.1 983.3,82 984.9,83 986.4,83.1 988,84.2 989.5,83.7 991.1,84.4 992.6,84.6 994.2,86.4 995.7,86.2 997.3,86.3 998.8,86 1000.4,85.7 1001.9,85.4 1003.5,86.7 1005,86.2 1006.6,85.5 1008.1,85.8 1009.7,85.8 1011.2,87 1012.8,87.5 1014.3,86.3 1015.9,87.5 1017.4,86.8 1019,87.5 1020.5,87.9 1022.1,87.6 1023.6,88 1025.2,87.4 1026.7,86.8 1028.2,87.7 1029.7,87.9 1031.2,87.1 1032.7,87.5 1034.2,87.4 1035.7,86.8 1037.2,87.4 1038.7,87.5 1040.2,87.7 1041.7,88.1 1043.2,87.5 1044.8,88.6 1046.3,88.3 1047.8,88.5 1049.3,88 1050.8,88 1052.3,87.8 1053.8,88.2 1055.3,87.5 1056.8,87.9 1058.3,88 1059.8,87.7 1061.3,87.3 1062.8,86.9 1064.3,87 1065.8,87.4 1067.3,87.8 1068.8,88.2 1070.3,88.1 1071.8,87.4 1073.3,88.5 1074.8,87.3 1076.3,88.1 1077.8,86.9 1079.3,88.2 1080.8,88 1082.4,88.5 1083.9,88.4 1085.4,88 1086.9,88.3 1088.4,88.1 1089.9,87.9 1091.4,87.2 1092.9,87.7 1094.4,88.4 1095.9,87.2 1097.4,88.6 1098.9,87.8 1100.4,87.5 1101.9,86.8 1103.4,87.5 1104.9,87.1 1106.4,88 1107.9,88.4 1109.4,88.4 1110.9,87.9 1112.4,87.5 1113.9,87 1115.4,88 1117,87.8 1118.5,88.1 1120,87.5 1121.5,88.4 1123,87.2 1124.5,87.4 1126,87.3 1127.5,87.9 1129,88.4 1130.5,87.1 1132,87.9 1133.5,88.2 1135,87.2 1136.7,87.8 1138.3,89.7 1140,91.1 1141.5,91.2 1143,90.9 1144.5,90.4 1146,90.4 1147.5,90.6 1149,91.3 1150.5,90.2 1152,90.2 1153.5,90.8 1155,91.5 1156.5,90.1 1158,89.8 1159.5,90 1161,90.8 1162.5,90.9 1164,90.1 1165.5,90.2 1167,90.9 1168.5,91 1170,91.1 1171.5,91.2 1173,90 1174.5,90.8 1176,91.4 1177.5,91.7 1179,90.5 1180.5,91.5 1182,91.1 1183.5,91.6 1185,90.4 1186.5,91.3 1188,91.5 1189.5,90.9 1191,90.2 1192.5,90.4 1194,90.4 1195.5,90.3 1197,90.4" fill="none" stroke="#dc0000" stroke-width="4.3" stroke-linejoin="round"/>
<path d="M52.9 133v4.1M74.9 133.1v4.6M96.9 133.2v3.4M107.9 133.3v-4.5M118.9 133.4v4.6M141 133.5v-5.1M152 133.5v-3.5M163 133.6v-4.9M174 133.7v-4.3M196 133.8v-4.1M207 133.8v-4.8M218 133.8v-4.3M229 133.9v-4M251 133.9v-5.1M262 134v-5.3M273 134v5.5M284 134v-4.4M295 134.1v3.8M306 134.1v-5.4M328 134.1v-4.8M339 134.2v5M350 134.2v-4.1M361.1 134.3v-4M372.1 134.3v4.1M383.2 134.4v5.2M405.3 134.5v-3.5M416.4 134.6v-3.1M427.4 134.6v3.6M449.5 134.7v4M460.6 134.8v-4.5M471.7 134.9v3.9M482.7 134.9v5.1M493.8 135v3.5M501.5 129v-5M507.2 118.7v-3.4M527.3 113.2v5.2M542 96.6v-3.3M549.8 87.8v3.6M566.3 71.3v3.7M576.4 68.2v-3.3M587.4 68.2v-3.7M609.5 68.1v-3.2M620.5 68.1v-3.2M631.5 68.1v4.3M653.6 68v-5.2M697.7 68.3v-4.5M719.8 68.4v4.8M741.9 68.5v-4.2M763.9 68.6v-3.2M775 68.7v-5.3M827.8 75.6v5.3M844.8 91v-5.2M855.6 89.4v3.9M867.2 87.2v-3.2M922.7 83.8v4.1M945 83v-3.8M956.1 83v-3.6M978.3 83v3.6M989.2 84.6v3.4M1011.5 87.2v4.6M1022.6 87.9v-3.8M1044.8 88.2v5M1066.8 88.2v-4M1077.8 88.2v3.5M1088.9 88.2v5.1M1133 88.2v-3.3M1144 91v-5.1M1155 91.1v4.7" stroke="#d00000" stroke-width="2" fill="none"/>
<polygon points="278.3,55.6 281.1,55.2 283.9,55 286.7,53.3 289.5,53.4 292.3,54.7 295.1,55.3 297.9,53 300.7,53.2 303.5,54.4 306.3,52.5 309.1,53.5 311.9,52.4 314.7,53 317.5,53.5 320.3,53.4 323.1,52.7 325.9,52.4 328.7,53.1 331.5,52.4 334.3,51.9 337.1,52.2 339.8,52.4 342.5,51.6 345.2,51.2 347.9,51.3 350.5,50.4 353.2,51.6 355.9,51.8 358.6,51.3 361.1,50 363.7,49.9 366.2,51.9 368.8,50.2 371.3,51.3 373.8,48.9 376.4,51 378.9,48.4 381.4,50.2 384,50.4 386.5,49.2 389.1,49.2 391.6,49.9 394.1,49.8 396.7,47.3 399.2,48.2 401.8,47.2 404.4,47.2 407,46.4 409.6,46.8 412.2,47.5 414.8,46.2 417.4,46.1 420.1,45.4 422.7,48 425.3,45.5 427.9,45.1 430.5,46.2 433.1,46.7 435.7,45.9 438.3,45.6 440.9,45.9 443.5,45.9 446.1,45 448.8,46.6 451.4,45.4 454,45.7 456.6,45.9 459.2,46.2 461.8,45.2 464.4,44.7 467,45.3 469.7,44.7 472.3,43.5 474.9,45.3 477.5,44 480.1,44.9 482.7,44.7 485.3,43.5 487.9,44.9 490.5,43.9 493,44.7 495.6,44.7 498.2,43.6 500.8,43.9 503.4,45.3 506,44.1 510.5,44.2 515,43.5 517.4,46.7 519.7,47.2 522,48.3 524.4,50.4 526.4,52.3 528.3,53.1 530.3,54.7 532.2,56.5 534.2,58.3 536.2,62.1 538.1,61.6 540.1,63.5 542,64.7 544,68.5 546,69 547.9,71.3 549.9,72.2 551.8,73.9 553.8,76.5 556.2,77.8 558.6,81.2 561.1,82.1 563.5,83.9 566,85.6 568.4,89 570.8,88.5 573.3,90.2 575.8,91.5 578.2,93.1 580.6,96.3 583.1,97 585.5,97.4 588,100.7 590.5,99.9 592.9,102.3 595.4,104.8 597.8,107.4 600.2,107.7 602.7,107.7 605.2,110 607.6,111.3 610,111.6 612.5,113.7 615,116.4 617.4,116.1 619.8,117 622.3,118.1 624.8,121.8 627.2,121.4 629.6,124 632.1,124.7 634.5,124.9 637,127.1 639.5,127.9 641.9,131 644.2,131.3 646.6,131.9 648.9,134.4 651.3,136.4 653.6,135.8 655.9,137 658.2,138.2 660.5,139.6 662.7,141.2 665,142.2 667.3,144.9 669.6,145 672.1,146.8 674.5,146.9 677,146.5 679.4,149 681.9,148.9 684.3,150.1 686.8,150.9 689.2,153.9 691.7,152.8 694.1,154.5 696.5,154.4 699,154.4 701.5,156.1 703.9,158.1 706.3,158.3 708.8,159 711.2,159.9 713.7,159.5 716.1,160.8 718.5,161.3 721,163.8 723.4,162.3 725.9,165.6 728.3,163.7 730.8,166.2 733.2,167.1 735.6,167.6 738.1,168.1 740.5,171.2 743,170.2 745.4,170.6 747.9,172.6 750.4,174.5 752.8,173.6 755.2,173.4 757.7,174.9 760.1,175.7 762.6,175.4 765,176 767.5,177.5 770.3,178.2 773.1,179 775.9,180.1 778.7,179.1 781.5,180.3 784.3,178.7 787.1,180.5 789.7,181.1 792.3,181.7 794.8,181.8 797.4,182.2 800,183.1 802.6,182.2 805.2,180.8 807.8,182 810.8,181.6 813.7,183.1 816.6,184.4 819.6,183.5 822.2,184.6 824.8,187.5 827.4,189 828.7,192.2 830,193.7 831.3,198 832,200.8 832.6,203.2 833.3,204.4 834,208.1 834.6,208.7 835.3,211.2 836.5,214.2 837.6,216.4 838.8,220.5 839.9,223.6 841.1,225.9 844,224.8 847,223.7 848.5,221.8 850,217.3 851.4,215.3 852.9,214.1 854.1,209.6 855.3,207.1 856.4,204 857.6,200.8 858.8,198.1 860.4,196.6 861.9,193.3 863.5,193 865,189.6 866.6,187.8 868.5,187 870.5,183.7 872.5,184.2 874.4,181.3 877,179.4 879.7,179.1 882.3,179.4 884.9,178.2 887.5,179 890.1,179.9 892.7,181.3 895.3,181.8 897.9,184.4 900.3,183.9 902.6,186.3 905,184.8 907.3,186.7 909.7,186.7 912.3,188.7 914.9,190.2 917.5,192.8 920,193.8 922.4,195.8 924.8,194.9 927.3,197.6 929.8,199.3 932.2,199 934.6,199.7 937.1,201.1 939.7,203.6 942.3,204.1 944.8,205.2 947.4,205.5 950,205.9 952.6,206.8 955.2,208.9 957.8,208.4 960.4,210 963,212.9 965.6,211.8 968.2,213.4 970.8,215.1 973.4,216.1 976,216.4 978.6,218 981.2,217.9 983.9,218 986.5,220 989.1,221.9 991.7,221.1 994.3,221.1 996.9,222.1 999.5,224.5 1002.1,223.2 1004.7,223.9 1007.3,225.9 1009.9,226.3 1012.5,226.8 1015.1,227.7 1017.7,228.3 1020.3,228.3 1022.9,227.8 1025.5,229.5 1028.1,229.8 1030.7,231.3 1033.3,231.5 1035.9,230.6 1038.5,231.3 1041.1,231.5 1043.8,233 1046.4,232.8 1049,232.5 1051.6,233 1054.2,233.2 1056.8,234.3 1059.4,235.6 1062,236.4 1064.6,234.7 1067.2,236 1069.8,238 1072.4,236.5 1075,235.7 1077.6,237.4 1080.2,239.1 1082.8,237.5 1085.4,237.9 1088,238.6 1090.6,238.9 1093.2,238.4 1095.8,238.9 1098.4,240 1101,242.3 1103.6,241.6 1106.2,240.9 1108.9,242.4 1111.5,240.9 1114.1,240.9 1116.7,241.8 1119.3,241 1121.9,244.2 1124.5,243.3 1127.1,244.6 1129.7,244.1 1132.3,242.4 1134.9,243.7 1137.5,243.6 1140.1,243.1 1142.7,243 1145.3,245 1147.9,245.4 1150.5,245.7 1153.1,244.9 1155.7,245.4 1158.3,245.2 1160.9,246.6 1163.5,247 1166.1,244.7 1168.8,245.5 1171.4,247.4 1174,247.6 1176.6,247.2 1179.2,245.5 1181.7,247 1184.3,247.5 1186.8,247.1 1189.4,246.8 1191.9,248.2 1194.5,246.2 1197,247.2 1197,254 1194.5,256.6 1191.9,254.6 1189.4,255.4 1186.8,254.6 1184.3,255.4 1181.7,255.3 1179.2,253.9 1176.6,255.6 1174,254.1 1171.4,253.6 1168.8,253.5 1166.1,252.9 1163.5,253.8 1160.9,254.3 1158.3,254.6 1155.7,252.9 1153.1,252.9 1150.5,253.3 1147.9,252.1 1145.3,251.3 1142.7,250.9 1140.1,252.7 1137.5,251.9 1134.9,252.5 1132.3,250.8 1129.7,251.1 1127.1,252.6 1124.5,250.1 1121.9,249.9 1119.3,250.4 1116.7,250.3 1114.1,249.4 1111.5,249.2 1108.9,249.4 1106.2,250.5 1103.6,249.9 1101,250.3 1098.4,249.4 1095.8,247.7 1093.2,247.5 1090.6,246.8 1088,247.2 1085.4,246.3 1082.8,246.3 1080.2,246.9 1077.6,245.5 1075,245 1072.4,245 1069.8,245.9 1067.2,242.8 1064.6,242.8 1062,243.7 1059.4,244.2 1056.8,242.7 1054.2,242.5 1051.6,242.1 1049,241.9 1046.4,241.2 1043.8,239.6 1041.1,240.1 1038.5,239.6 1035.9,240.6 1033.3,237.7 1030.7,237.7 1028.1,236.9 1025.5,236.8 1022.9,235.8 1020.3,236.7 1017.7,236.2 1015.1,234.9 1012.5,235.9 1009.9,234.2 1007.3,234.2 1004.7,233.2 1002.1,232.9 999.5,232.7 996.9,231.5 994.3,230.3 991.7,229.9 989.1,228.1 986.5,228.6 983.9,227.5 981.2,226.4 978.6,224.5 976,223.1 973.4,224.8 970.8,222.3 968.2,222.6 965.6,220.1 963,220.8 960.4,217.4 957.8,216.4 955.2,217.7 952.6,215.7 950,214.7 947.4,212.9 944.8,214.5 942.3,212.6 939.7,209.4 937.1,211 934.6,209.6 932.2,207.5 929.8,206.6 927.3,205.2 924.8,203 922.4,202.5 920,202.3 917.5,200.1 914.9,199.6 912.3,197 909.7,195.3 907.3,196.3 905,193 902.6,193.7 900.3,192 897.9,191.1 895.3,190.6 892.7,190.3 890.1,189.4 887.5,187.9 884.9,188.2 882.3,186.8 879.7,187.7 877,188 874.4,190.5 872.5,191.1 870.5,192.3 868.5,194.4 866.6,197.3 865,198 863.5,199.9 861.9,203.6 860.4,205.6 858.8,207.4 857.6,209.2 856.4,213.4 855.3,213.6 854.1,217.6 852.9,220.4 851.4,223.4 850,224.9 848.5,229.7 847,230.5 844,231.9 841.1,233.6 839.9,231 838.8,228.3 837.6,226.7 836.5,222.2 835.3,220.2 834.6,217.1 834,215.2 833.3,211 832.6,210.3 832,208.9 831.3,204.3 830,202.1 828.7,198.9 827.4,195.3 824.8,195.2 822.2,192.9 819.6,192.3 816.6,191.5 813.7,189.8 810.8,190.8 807.8,189.9 805.2,190.3 802.6,191 800,191.1 797.4,190.1 794.8,189.2 792.3,188.5 789.7,189.3 787.1,188.4 784.3,188.4 781.5,186 778.7,188 775.9,186.1 773.1,185.3 770.3,185 767.5,184.5 765,183.2 762.6,183 760.1,184.1 757.7,184.2 755.2,182.9 752.8,181.8 750.4,180.7 747.9,180.2 745.4,179.9 743,179.2 740.5,177.3 738.1,177.1 735.6,176 733.2,176.1 730.8,175.1 728.3,172.7 725.9,173.7 723.4,171.1 721,169.7 718.5,170.9 716.1,170.6 713.7,167.3 711.2,166.5 708.8,165.8 706.3,165.7 703.9,165 701.5,164.2 699,162.7 696.5,162.7 694.1,162.5 691.7,161.5 689.2,159.5 686.8,159.6 684.3,157.3 681.9,156.7 679.4,156.5 677,155.9 674.5,155.9 672.1,153 669.6,151.8 667.3,152.8 665,150.6 662.7,150.5 660.5,148.6 658.2,147 655.9,145.9 653.6,144.4 651.3,142.8 648.9,142.2 646.6,140.6 644.2,138.5 641.9,138.6 639.5,136 637,135.2 634.5,135.2 632.1,132.5 629.6,130.6 627.2,129.4 624.8,129.3 622.3,126.3 619.8,126.2 617.4,125.4 615,124 612.5,123 610,120.7 607.6,120.2 605.2,118.3 602.7,117.6 600.2,114.9 597.8,114.5 595.4,111.6 592.9,109.9 590.5,109.2 588,106.4 585.5,106.8 583.1,104 580.6,104.3 578.2,102.4 575.8,100.7 573.3,98.2 570.8,96.6 568.4,95.8 566,94.8 563.5,92.8 561.1,90.4 558.6,89.2 556.2,86.2 553.8,85.6 551.8,82.5 549.9,81.2 547.9,79.6 546,78.9 544,76.1 542,73.4 540.1,72.7 538.1,71.4 536.2,69.7 534.2,68.2 532.2,64.4 530.3,62.9 528.3,61.1 526.4,61.4 524.4,58.5 522,56.7 519.7,57 517.4,54.4 515,52.8 510.5,52.1 506,50.9 503.4,52.4 500.8,51.5 498.2,51.4 495.6,53.2 493,52.8 490.5,52.3 487.9,53.9 485.3,51.6 482.7,53 480.1,53.1 477.5,53.2 474.9,52.3 472.3,52.4 469.7,52.6 467,53.6 464.4,52.9 461.8,52.5 459.2,54.1 456.6,51.9 454,51.7 451.4,51.6 448.8,54.4 446.1,53.2 443.5,54.2 440.9,54.1 438.3,52.6 435.7,53.3 433.1,53.2 430.5,53.7 427.9,53.4 425.3,52.9 422.7,56 420.1,54.3 417.4,54.6 414.8,55.4 412.2,56.1 409.6,55.9 407,55.6 404.4,54.8 401.8,55.4 399.2,55.4 396.7,55 394.1,56.2 391.6,56.2 389.1,56.9 386.5,57.5 384,58.5 381.4,57.4 378.9,57.3 376.4,58.7 373.8,58.1 371.3,58 368.8,58.1 366.2,59.8 363.7,58.4 361.1,59.6 358.6,58.9 355.9,58.6 353.2,59 350.5,60.5 347.9,60 345.2,59 342.5,60.2 339.8,59.1 337.1,59.2 334.3,61.2 331.5,59.9 328.7,60.4 325.9,61.1 323.1,61.7 320.3,60.5 317.5,61.3 314.7,61 311.9,60.6 309.1,61.7 306.3,62.3 303.5,62.3 300.7,62.6 297.9,63.5 295.1,63.7 292.3,62.5 289.5,62.9 286.7,61.1 283.9,62 281.1,62.3 278.3,63.7" fill="#000" fill-opacity="0.9"/>
<polyline points="278.3,58.4 281.1,58.2 283.9,58.4 286.7,58.1 289.5,57.9 292.3,58.1 295.1,58.5 297.9,58.3 300.7,58.1 303.5,57.4 306.3,57.5 309.1,57.1 311.9,56.8 314.7,56.6 317.5,56.5 320.3,57.1 323.1,57 325.9,56.8 328.7,56.8 331.5,56.1 334.3,56.1 337.1,56.3 339.8,56.3 342.5,56.2 345.2,56.1 347.9,55.1 350.5,55.4 353.2,55.3 355.9,55 358.6,54.5 361.1,54.6 363.7,54.1 366.2,54.8 368.8,54.5 371.3,54.1 373.8,53.7 376.4,54.1 378.9,53.6 381.4,53.8 384,53.6 386.5,53.1 389.1,52.8 391.6,52.9 394.1,52.5 396.7,52.1 399.2,52.1 401.8,52.4 404.4,51.5 407,51.3 409.6,51.7 412.2,51.2 414.8,51.3 417.4,51 420.1,50.7 422.7,51.2 425.3,50.2 427.9,50.2 430.5,49.8 433.1,50.1 435.7,49.6 438.3,49.5 440.9,49.8 443.5,49.3 446.1,49.5 448.8,49.7 451.4,48.9 454,48.8 456.6,48.9 459.2,49.3 461.8,49.1 464.4,48.7 467,48.7 469.7,48.5 472.3,48.7 474.9,48.2 477.5,48.8 480.1,48.9 482.7,48.9 485.3,48.6 487.9,48.7 490.5,47.7 493,47.8 495.6,48.4 498.2,48.1 500.8,47.7 503.4,48.1 506,47.7 510.5,47.3 515,48.8 517.4,50.2 519.7,51.9 522,53.1 524.4,54.9 526.4,57.1 528.3,58.2 530.3,59.5 532.2,61.2 534.2,63 536.2,65.3 538.1,66.6 540.1,68.3 542,69.9 544,72.5 546,73.7 547.9,75.3 549.9,76.9 551.8,78.7 553.8,80.6 556.2,82.9 558.6,84.2 561.1,85.9 563.5,88.2 566,89.5 568.4,91.8 570.8,92.5 573.3,94.4 575.8,96.2 578.2,97.5 580.6,99.6 583.1,100.7 585.5,102 588,103.7 590.5,104.8 592.9,106.7 595.4,108.1 597.8,110.3 600.2,111.8 602.7,113 605.2,113.9 607.6,115.5 610,116.8 612.5,118.1 615,119.4 617.4,121.3 619.8,121.8 622.3,123 624.8,125.1 627.2,125.9 629.6,127.6 632.1,128.2 634.5,130.1 637,131.3 639.5,132.9 641.9,134.2 644.2,135.3 646.6,136.2 648.9,137.6 651.3,139.6 653.6,140.9 655.9,142.1 658.2,142.6 660.5,144.1 662.7,145.4 665,146.4 667.3,147.7 669.6,148.5 672.1,149.6 674.5,150.6 677,151.2 679.4,152.8 681.9,153.8 684.3,153.9 686.8,155.8 689.2,156.8 691.7,157.3 694.1,157.4 696.5,159.1 699,159.1 701.5,160.8 703.9,161.3 706.3,161.5 708.8,162.4 711.2,163.7 713.7,164.5 716.1,165.5 718.5,166.5 721,166.7 723.4,167.3 725.9,169.1 728.3,169 730.8,170.7 733.2,170.8 735.6,172.4 738.1,173.2 740.5,174.2 743,174.7 745.4,175.9 747.9,176.1 750.4,177.2 752.8,177.5 755.2,178.6 757.7,179.1 760.1,179.4 762.6,180.1 765,180.2 767.5,180.8 770.3,181.8 773.1,182.1 775.9,182.9 778.7,183.1 781.5,183 784.3,183.6 787.1,184.5 789.7,184.7 792.3,184.6 794.8,185.9 797.4,186.4 800,186.1 802.6,186.3 805.2,185.9 807.8,186.1 810.8,186.2 813.7,186.7 816.6,187.6 819.6,188.7 822.2,189.1 824.8,190.4 827.4,192.2 828.7,195.4 830,198 831.3,200.8 832,203.9 832.6,206.4 833.3,208.3 834,211.7 834.6,213.7 835.3,216.4 836.5,219.5 837.6,221.6 838.8,224.5 839.9,226.4 841.1,229.7 844,228 847,227 848.5,224.7 850,221.8 851.4,219.3 852.9,217 854.1,214.1 855.3,210.6 856.4,208.2 857.6,205.7 858.8,202.9 860.4,201 861.9,198.6 863.5,196 865,194 866.6,192.4 868.5,190.3 870.5,189 872.5,187.5 874.4,185.4 877,184.5 879.7,183.4 882.3,182.1 884.9,183.4 887.5,183.6 890.1,184.7 892.7,185.1 895.3,186.6 897.9,187.5 900.3,188.3 902.6,189.1 905,189.8 907.3,191.4 909.7,192 912.3,193.9 914.9,195 917.5,196.6 920,197.6 922.4,199.3 924.8,199.6 927.3,201.3 929.8,202 932.2,203.4 934.6,204.4 937.1,205.9 939.7,206.4 942.3,207.7 944.8,209.2 947.4,209.5 950,211 952.6,211.5 955.2,212.4 957.8,213.1 960.4,214 963,215.8 965.6,216.6 968.2,217.5 970.8,218.4 973.4,219.5 976,219.6 978.6,220.9 981.2,221.7 983.9,222.7 986.5,224 989.1,224.7 991.7,225.9 994.3,225.7 996.9,226.9 999.5,227.5 1002.1,228.2 1004.7,228.8 1007.3,229.6 1009.9,229.8 1012.5,231 1015.1,231 1017.7,231.7 1020.3,232.6 1022.9,232.9 1025.5,233 1028.1,233.5 1030.7,234.1 1033.3,234.9 1035.9,235.7 1038.5,236.1 1041.1,236 1043.8,236.5 1046.4,237.3 1049,237.2 1051.6,237.8 1054.2,237.8 1056.8,238.3 1059.4,239 1062,239.5 1064.6,239.8 1067.2,239.9 1069.8,240.8 1072.4,240.8 1075,240.7 1077.6,241 1080.2,242.3 1082.8,242.7 1085.4,243 1088,243.1 1090.6,243.2 1093.2,243.4 1095.8,244 1098.4,244.2 1101,245.2 1103.6,245.4 1106.2,245.5 1108.9,245.2 1111.5,245.5 1114.1,245.8 1116.7,246.7 1119.3,246.2 1121.9,247.1 1124.5,247.2 1127.1,247.3 1129.7,248 1132.3,247.6 1134.9,248.1 1137.5,248 1140.1,248 1142.7,248.1 1145.3,248.5 1147.9,248.5 1150.5,248.5 1153.1,249.6 1155.7,249.1 1158.3,249.8 1160.9,249.7 1163.5,249.9 1166.1,249.9 1168.8,250.4 1171.4,250.4 1174,250.4 1176.6,250.3 1179.2,250.6 1181.7,250.8 1184.3,250.8 1186.8,250.9 1189.4,250.7 1191.9,251.5 1194.5,251.3 1197,251.1" fill="none" stroke="#000" stroke-opacity="0.9" stroke-width="4.2" stroke-linejoin="round"/>
<polygon points="278.3,56.1 281.1,55.3 283.9,56.3 286.7,55.3 289.5,55.6 292.3,55.6 295.1,56.6 297.9,55.6 300.7,56.6 303.5,54.5 306.3,54.6 309.1,55.2 311.9,55.4 314.7,55 317.5,54.8 320.3,54.4 323.1,54.3 325.9,54.3 328.7,54.1 331.5,53.3 334.3,53.6 337.1,53.9 339.8,53.8 342.5,54.5 345.2,54.4 347.9,52.3 350.5,53.3 353.2,53.5 355.9,52 358.6,53 361.1,52.5 363.7,51.8 366.2,52.4 368.8,53 371.3,51.9 373.8,51.4 376.4,52.6 378.9,50.9 381.4,51.5 384,52.1 386.5,51.4 389.1,51.1 391.6,51.2 394.1,49.8 396.7,50.2 399.2,49.9 401.8,51 404.4,50 407,48.9 409.6,50 412.2,48.8 414.8,48.9 417.4,49.2 420.1,49.1 422.7,49.4 425.3,47.5 427.9,47.3 430.5,48.4 433.1,48 435.7,47.5 438.3,47.6 440.9,48.3 443.5,47.5 446.1,47.4 448.8,47.5 451.4,47 454,46.9 456.6,46.8 459.2,47.9 461.8,46.7 464.4,47.1 467,47.3 469.7,46.7 472.3,46.3 474.9,46.1 477.5,46.4 480.1,47.2 482.7,47.1 485.3,45.8 487.9,46.3 490.5,45.9 493,45.1 495.6,46.6 498.2,46 500.8,45 503.4,45.7 506,46.2 510.5,44.5 515,46.6 517.4,48.8 519.7,49.4 522,51.4 524.4,52.5 526.4,55.6 528.3,56.7 530.3,57.7 532.2,58.5 534.2,61.5 536.2,62.9 538.1,64.9 540.1,66.4 542,67.8 544,70.1 546,71.9 547.9,73.8 549.9,75.3 551.8,77 553.8,78 556.2,80.3 558.6,82.4 561.1,83.7 563.5,86.6 566,87.3 568.4,90.3 570.8,89.5 573.3,92.9 575.8,93.7 578.2,95.7 580.6,97.6 583.1,98.7 585.5,99.7 588,101.9 590.5,103.2 592.9,104.3 595.4,106.3 597.8,108.1 600.2,109.9 602.7,110.8 605.2,112 607.6,112.7 610,114.4 612.5,116.5 615,116.7 617.4,119.4 619.8,119.5 622.3,120.7 624.8,122.5 627.2,124.1 629.6,124.8 632.1,125.8 634.5,127.3 637,129 639.5,130 641.9,132.1 644.2,133.1 646.6,133.4 648.9,134.8 651.3,137.2 653.6,139.4 655.9,139.9 658.2,140.6 660.5,141.4 662.7,143.6 665,143.5 667.3,146.2 669.6,146.5 672.1,147.3 674.5,149 677,148.5 679.4,150.4 681.9,152.1 684.3,152.3 686.8,153.3 689.2,154.1 691.7,155.4 694.1,155.2 696.5,157.5 699,157.7 701.5,159.4 703.9,159.3 706.3,160 708.8,160.5 711.2,161.1 713.7,163 716.1,162.6 718.5,164.4 721,164.1 723.4,165.4 725.9,166.9 728.3,166.9 730.8,169 733.2,168.5 735.6,170.2 738.1,171.7 740.5,171.8 743,172 745.4,173.7 747.9,173.8 750.4,175 752.8,175.3 755.2,176.2 757.7,176.8 760.1,177.9 762.6,178.1 765,178.5 767.5,178 770.3,179.8 773.1,179.3 775.9,180.2 778.7,181.1 781.5,181.2 784.3,181.7 787.1,182.1 789.7,182 792.3,183 794.8,183.9 797.4,183.4 800,184.6 802.6,183.4 805.2,183 807.8,183.7 810.8,184.7 813.7,184.2 816.6,185 819.6,186.8 822.2,187.2 824.8,189 827.4,190 828.7,193.1 830,195.9 831.3,198 832,201.3 832.6,204.6 833.3,205.7 834,210.1 834.6,211.2 835.3,213.7 836.5,216.9 837.6,219 838.8,222.2 839.9,224.6 841.1,228.2 844,225.7 847,224.7 848.5,222.9 850,219.4 851.4,216.8 852.9,215.2 854.1,211.2 855.3,209 856.4,205.4 857.6,203.1 858.8,200.8 860.4,198.3 861.9,195.8 863.5,194.5 865,191.8 866.6,190.4 868.5,188.8 870.5,187.1 872.5,185.6 874.4,183.6 877,183 879.7,181.8 882.3,179.5 884.9,181.5 887.5,181 890.1,181.7 892.7,182.6 895.3,185 897.9,184.9 900.3,186.8 902.6,187.5 905,188.1 907.3,189.2 909.7,189.2 912.3,192.5 914.9,192 917.5,194.8 920,196 922.4,197.1 924.8,197.9 927.3,199.3 929.8,199.7 932.2,201.7 934.6,202.4 937.1,204.4 939.7,204.3 942.3,205.4 944.8,207.7 947.4,207.6 950,208.3 952.6,209.4 955.2,210.4 957.8,210.8 960.4,211.7 963,214 965.6,214.5 968.2,214.7 970.8,216.7 973.4,217.6 976,216.8 978.6,219.2 981.2,220 983.9,220 986.5,222 989.1,221.8 991.7,224 994.3,223.4 996.9,224.7 999.5,225.7 1002.1,226.7 1004.7,226.1 1007.3,227 1009.9,228 1012.5,229.4 1015.1,228.6 1017.7,229.6 1020.3,230.1 1022.9,230.3 1025.5,231.2 1028.1,230.6 1030.7,231.4 1033.3,232.5 1035.9,234 1038.5,234.3 1041.1,233.8 1043.8,233.6 1046.4,235.6 1049,234.8 1051.6,235.7 1054.2,234.9 1056.8,236.4 1059.4,237.1 1062,237 1064.6,237.4 1067.2,237 1069.8,239 1072.4,238.8 1075,239 1077.6,238.9 1080.2,239.6 1082.8,241.3 1085.4,241.3 1088,241.6 1090.6,241.1 1093.2,241.2 1095.8,241.4 1098.4,241.6 1101,243.4 1103.6,243.7 1106.2,242.5 1108.9,242.9 1111.5,243.7 1114.1,244.4 1116.7,244.6 1119.3,244.5 1121.9,244.5 1124.5,245.3 1127.1,244.6 1129.7,246.5 1132.3,245 1134.9,246.2 1137.5,245.3 1140.1,246.3 1142.7,246 1145.3,246.4 1147.9,245.9 1150.5,246.7 1153.1,247.3 1155.7,247.5 1158.3,248.1 1160.9,247.8 1163.5,246.9 1166.1,247.9 1168.8,248 1171.4,248.1 1174,248.1 1176.6,248.2 1179.2,248.6 1181.7,249.2 1184.3,249 1186.8,248.1 1189.4,248.2 1191.9,249.1 1194.5,249.9 1197,248.7 1197,253.9 1194.5,254.2 1191.9,253.2 1189.4,252.2 1186.8,253.8 1184.3,253.4 1181.7,253.1 1179.2,252.4 1176.6,252.8 1174,252.7 1171.4,252.6 1168.8,253.1 1166.1,252.8 1163.5,252.7 1160.9,251.2 1158.3,251.3 1155.7,250.7 1153.1,251.5 1150.5,251.1 1147.9,250.5 1145.3,250.4 1142.7,249.8 1140.1,250 1137.5,249.5 1134.9,250 1132.3,249.2 1129.7,250.6 1127.1,248.8 1124.5,250.1 1121.9,248.7 1119.3,248.5 1116.7,248.5 1114.1,247.4 1111.5,247.7 1108.9,247.2 1106.2,248.2 1103.6,247.9 1101,247.4 1098.4,246.7 1095.8,245.6 1093.2,245.2 1090.6,245.8 1088,244.7 1085.4,244.8 1082.8,245 1080.2,244.1 1077.6,243 1075,242.2 1072.4,242.3 1069.8,242.4 1067.2,242.5 1064.6,242 1062,241.3 1059.4,241 1056.8,240.6 1054.2,240.4 1051.6,240.6 1049,239.7 1046.4,239.4 1043.8,239 1041.1,238 1038.5,238.3 1035.9,238.6 1033.3,237.5 1030.7,235.9 1028.1,235.2 1025.5,235.4 1022.9,235 1020.3,234.7 1017.7,234.7 1015.1,233.5 1012.5,233.4 1009.9,231.4 1007.3,231.3 1004.7,231 1002.1,229.9 999.5,230.3 996.9,228.3 994.3,227.1 991.7,228 989.1,226.2 986.5,225.8 983.9,225.7 981.2,223.1 978.6,223.8 976,221.9 973.4,221.2 970.8,219.9 968.2,219.2 965.6,218.4 963,218.2 960.4,216.6 957.8,216 955.2,214.5 952.6,213.7 950,213.3 947.4,212.2 944.8,211.4 942.3,209.6 939.7,209.2 937.1,208.1 934.6,205.9 932.2,205.5 929.8,203.7 927.3,203.5 924.8,202.3 922.4,201.9 920,199.6 917.5,198.2 914.9,196.8 912.3,196.8 909.7,194.5 907.3,194.1 905,191.8 902.6,190.6 900.3,189.7 897.9,189.7 895.3,188.7 892.7,186.7 890.1,187 887.5,185.3 884.9,185.7 882.3,184 879.7,186.1 877,186.5 874.4,188.2 872.5,189.4 870.5,191.2 868.5,191.9 866.6,194.3 865,196.8 863.5,197.5 861.9,201.1 860.4,203 858.8,204.5 857.6,207.3 856.4,210.8 855.3,212.5 854.1,216.4 852.9,219.8 851.4,221.5 850,224.4 848.5,227.4 847,229.3 844,230.6 841.1,231.8 839.9,227.8 838.8,226.9 837.6,224.4 836.5,221.6 835.3,217.9 834.6,215.6 834,213.2 833.3,210.3 832.6,208.7 832,206.2 831.3,203.4 830,200.1 828.7,197.1 827.4,193.8 824.8,192.7 822.2,190.6 819.6,191.1 816.6,189.1 813.7,188.8 810.8,188.3 807.8,188 805.2,187.6 802.6,188 800,188.6 797.4,188.6 794.8,187.5 792.3,187.1 789.7,186.5 787.1,186.6 784.3,186 781.5,185.5 778.7,185.6 775.9,185.3 773.1,184.8 770.3,183.3 767.5,182.3 765,182.1 762.6,181.7 760.1,181.1 757.7,181.1 755.2,180 752.8,179.7 750.4,179.4 747.9,177.9 745.4,178.4 743,176.8 740.5,177.2 738.1,174.6 735.6,174.6 733.2,173.3 730.8,172.3 728.3,171.6 725.9,171.3 723.4,169.2 721,168.7 718.5,168.9 716.1,168.2 713.7,167.2 711.2,166.6 708.8,164.9 706.3,163.6 703.9,163 701.5,163.6 699,161.5 696.5,160.8 694.1,160.1 691.7,160.1 689.2,159.6 686.8,158.1 684.3,156 681.9,156.7 679.4,155.6 677,153.9 674.5,152.2 672.1,151.8 669.6,150.3 667.3,150.5 665,149.1 662.7,148.3 660.5,146.6 658.2,144.3 655.9,144.9 653.6,143.3 651.3,142.5 648.9,140.3 646.6,138.7 644.2,138.3 641.9,136.4 639.5,134.7 637,133.7 634.5,132.2 632.1,130.1 629.6,129.7 627.2,128.7 624.8,127.7 622.3,124.7 619.8,123.4 617.4,124.1 615,122.3 612.5,121 610,119.2 607.6,117.2 605.2,115.3 602.7,114.5 600.2,114.3 597.8,112.7 595.4,110.9 592.9,108.2 590.5,107 588,106.1 585.5,104 583.1,103.2 580.6,102.2 578.2,99.9 575.8,98.9 573.3,96.4 570.8,95.2 568.4,93.3 566,91.1 563.5,91 561.1,88.6 558.6,85.6 556.2,84.9 553.8,83.1 551.8,80.4 549.9,79.7 547.9,77.5 546,75.4 544,74.8 542,72.8 540.1,70.1 538.1,69.5 536.2,67.5 534.2,64.5 532.2,63.2 530.3,61.4 528.3,60.2 526.4,58.9 524.4,56.9 522,56 519.7,54 517.4,52.2 515,51.5 510.5,49.2 506,49.8 503.4,50 500.8,49.9 498.2,49.8 495.6,50.1 493,50 490.5,49.7 487.9,50.5 485.3,50.1 482.7,50.9 480.1,51.1 477.5,50.7 474.9,51.1 472.3,50.9 469.7,51.2 467,50.3 464.4,50.6 461.8,51.4 459.2,51.3 456.6,51.1 454,50.6 451.4,50.3 448.8,51.2 446.1,51.7 443.5,51.2 440.9,51.8 438.3,52.3 435.7,52.2 433.1,52.9 430.5,52 427.9,53.2 425.3,53 422.7,52.7 420.1,52.9 417.4,52.5 414.8,53.6 412.2,53 409.6,53.7 407,52.9 404.4,54.2 401.8,54.3 399.2,55 396.7,54.2 394.1,54.9 391.6,54.8 389.1,54.7 386.5,54.8 384,56.3 381.4,55.9 378.9,55.3 376.4,56.8 373.8,55.1 371.3,55.7 368.8,56.3 366.2,57.4 363.7,56.4 361.1,56.6 358.6,55.9 355.9,57.4 353.2,57.6 350.5,57.9 347.9,57.6 345.2,58.7 342.5,58.2 339.8,57.9 337.1,58.5 334.3,58.2 331.5,58.5 328.7,58.3 325.9,59.4 323.1,59.3 320.3,59.5 317.5,58.9 314.7,58.4 311.9,59.7 309.1,58.8 306.3,60 303.5,60.3 300.7,60.4 297.9,60.4 295.1,60.3 292.3,59.9 289.5,60.2 286.7,60.4 283.9,60 281.1,59.9 278.3,61.2" fill="#06d406"/>
<polyline points="278.3,58.4 281.1,58.2 283.9,58.4 286.7,58.1 289.5,57.9 292.3,58.1 295.1,58.5 297.9,58.3 300.7,58.1 303.5,57.4 306.3,57.5 309.1,57.1 311.9,56.8 314.7,56.6 317.5,56.5 320.3,57.1 323.1,57 325.9,56.8 328.7,56.8 331.5,56.1 334.3,56.1 337.1,56.3 339.8,56.3 342.5,56.2 345.2,56.1 347.9,55.1 350.5,55.4 353.2,55.3 355.9,55 358.6,54.5 361.1,54.6 363.7,54.1 366.2,54.8 368.8,54.5 371.3,54.1 373.8,53.7 376.4,54.1 378.9,53.6 381.4,53.8 384,53.6 386.5,53.1 389.1,52.8 391.6,52.9 394.1,52.5 396.7,52.1 399.2,52.1 401.8,52.4 404.4,51.5 407,51.3 409.6,51.7 412.2,51.2 414.8,51.3 417.4,51 420.1,50.7 422.7,51.2 425.3,50.2 427.9,50.2 430.5,49.8 433.1,50.1 435.7,49.6 438.3,49.5 440.9,49.8 443.5,49.3 446.1,49.5 448.8,49.7 451.4,48.9 454,48.8 456.6,48.9 459.2,49.3 461.8,49.1 464.4,48.7 467,48.7 469.7,48.5 472.3,48.7 474.9,48.2 477.5,48.8 480.1,48.9 482.7,48.9 485.3,48.6 487.9,48.7 490.5,47.7 493,47.8 495.6,48.4 498.2,48.1 500.8,47.7 503.4,48.1 506,47.7 510.5,47.3 515,48.8 517.4,50.2 519.7,51.9 522,53.1 524.4,54.9 526.4,57.1 528.3,58.2 530.3,59.5 532.2,61.2 534.2,63 536.2,65.3 538.1,66.6 540.1,68.3 542,69.9 544,72.5 546,73.7 547.9,75.3 549.9,76.9 551.8,78.7 553.8,80.6 556.2,82.9 558.6,84.2 561.1,85.9 563.5,88.2 566,89.5 568.4,91.8 570.8,92.5 573.3,94.4 575.8,96.2 578.2,97.5 580.6,99.6 583.1,100.7 585.5,102 588,103.7 590.5,104.8 592.9,106.7 595.4,108.1 597.8,110.3 600.2,111.8 602.7,113 605.2,113.9 607.6,115.5 610,116.8 612.5,118.1 615,119.4 617.4,121.3 619.8,121.8 622.3,123 624.8,125.1 627.2,125.9 629.6,127.6 632.1,128.2 634.5,130.1 637,131.3 639.5,132.9 641.9,134.2 644.2,135.3 646.6,136.2 648.9,137.6 651.3,139.6 653.6,140.9 655.9,142.1 658.2,142.6 660.5,144.1 662.7,145.4 665,146.4 667.3,147.7 669.6,148.5 672.1,149.6 674.5,150.6 677,151.2 679.4,152.8 681.9,153.8 684.3,153.9 686.8,155.8 689.2,156.8 691.7,157.3 694.1,157.4 696.5,159.1 699,159.1 701.5,160.8 703.9,161.3 706.3,161.5 708.8,162.4 711.2,163.7 713.7,164.5 716.1,165.5 718.5,166.5 721,166.7 723.4,167.3 725.9,169.1 728.3,169 730.8,170.7 733.2,170.8 735.6,172.4 738.1,173.2 740.5,174.2 743,174.7 745.4,175.9 747.9,176.1 750.4,177.2 752.8,177.5 755.2,178.6 757.7,179.1 760.1,179.4 762.6,180.1 765,180.2 767.5,180.8 770.3,181.8 773.1,182.1 775.9,182.9 778.7,183.1 781.5,183 784.3,183.6 787.1,184.5 789.7,184.7 792.3,184.6 794.8,185.9 797.4,186.4 800,186.1 802.6,186.3 805.2,185.9 807.8,186.1 810.8,186.2 813.7,186.7 816.6,187.6 819.6,188.7 822.2,189.1 824.8,190.4 827.4,192.2 828.7,195.4 830,198 831.3,200.8 832,203.9 832.6,206.4 833.3,208.3 834,211.7 834.6,213.7 835.3,216.4 836.5,219.5 837.6,221.6 838.8,224.5 839.9,226.4 841.1,229.7 844,228 847,227 848.5,224.7 850,221.8 851.4,219.3 852.9,217 854.1,214.1 855.3,210.6 856.4,208.2 857.6,205.7 858.8,202.9 860.4,201 861.9,198.6 863.5,196 865,194 866.6,192.4 868.5,190.3 870.5,189 872.5,187.5 874.4,185.4 877,184.5 879.7,183.4 882.3,182.1 884.9,183.4 887.5,183.6 890.1,184.7 892.7,185.1 895.3,186.6 897.9,187.5 900.3,188.3 902.6,189.1 905,189.8 907.3,191.4 909.7,192 912.3,193.9 914.9,195 917.5,196.6 920,197.6 922.4,199.3 924.8,199.6 927.3,201.3 929.8,202 932.2,203.4 934.6,204.4 937.1,205.9 939.7,206.4 942.3,207.7 944.8,209.2 947.4,209.5 950,211 952.6,211.5 955.2,212.4 957.8,213.1 960.4,214 963,215.8 965.6,216.6 968.2,217.5 970.8,218.4 973.4,219.5 976,219.6 978.6,220.9 981.2,221.7 983.9,222.7 986.5,224 989.1,224.7 991.7,225.9 994.3,225.7 996.9,226.9 999.5,227.5 1002.1,228.2 1004.7,228.8 1007.3,229.6 1009.9,229.8 1012.5,231 1015.1,231 1017.7,231.7 1020.3,232.6 1022.9,232.9 1025.5,233 1028.1,233.5 1030.7,234.1 1033.3,234.9 1035.9,235.7 1038.5,236.1 1041.1,236 1043.8,236.5 1046.4,237.3 1049,237.2 1051.6,237.8 1054.2,237.8 1056.8,238.3 1059.4,239 1062,239.5 1064.6,239.8 1067.2,239.9 1069.8,240.8 1072.4,240.8 1075,240.7 1077.6,241 1080.2,242.3 1082.8,242.7 1085.4,243 1088,243.1 1090.6,243.2 1093.2,243.4 1095.8,244 1098.4,244.2 1101,245.2 1103.6,245.4 1106.2,245.5 1108.9,245.2 1111.5,245.5 1114.1,245.8 1116.7,246.7 1119.3,246.2 1121.9,247.1 1124.5,247.2 1127.1,247.3 1129.7,248 1132.3,247.6 1134.9,248.1 1137.5,248 1140.1,248 1142.7,248.1 1145.3,248.5 1147.9,248.5 1150.5,248.5 1153.1,249.6 1155.7,249.1 1158.3,249.8 1160.9,249.7 1163.5,249.9 1166.1,249.9 1168.8,250.4 1171.4,250.4 1174,250.4 1176.6,250.3 1179.2,250.6 1181.7,250.8 1184.3,250.8 1186.8,250.9 1189.4,250.7 1191.9,251.5 1194.5,251.3 1197,251.1" fill="none" stroke="#06d406" stroke-width="2.2" stroke-linejoin="round"/>
<polygon points="494.9,147.9 496.9,148.5 498.9,150.7 500.8,152.7 502.8,153.1 504.8,153.9 506.8,156.7 508.7,157.9 510.7,159.5 512.6,162.4 514.6,164.7 517,163.9 519.5,165.9 522,167.6 524.4,171.1 526.4,170.3 528.3,173 530.3,174.7 532.2,176.2 534.2,179.2 536.2,180.2 538.1,182.1 540.1,185.6 542,187.4 544,188.3 546,190.9 547.9,193.2 549.9,195.4 551.8,196.1 553.8,198.5 555.7,200.7 557.7,203.6 559.6,204 561.6,205.8 563.5,206.6 566,208.9 568.4,210.3 570.8,213.3 573.3,214.7 575.8,215.8 578.2,216.6 580.6,217.5 583.1,217.6 585.5,218.8 588,219.1 590.4,220.7 592.9,221.2 595.4,221.7 597.8,224.5 600.2,223.4 602.7,225.7 605.1,226.4 607.6,225.4 610,227.3 612.5,229 615,229.1 617.4,229.3 619.9,230.6 622.3,231 624.8,230.3 627.2,231.7 629.6,232 632.1,232.8 634.4,234.5 636.8,234.2 639.1,235.7 641.4,235.7 643.7,237.8 646,236.8 648.4,240 650.7,241.1 653,240.9 655.4,242.1 657.7,243.6 660,243.7 662.5,243.8 665,245.5 667.5,245.7 670,246.3 672.5,246.8 675,247.5 677.5,248.8 680,249.3 682.5,249.5 685,250.3 687.5,251.1 690,251.4 692.5,252.6 695,251.6 697.5,254 700,252.9 702.5,253.6 704.9,255.4 707.4,254.9 709.8,256.6 712.2,258.6 714.7,259.5 717.1,259 719.6,259 722.1,259.5 724.5,260.9 727,259.9 729.4,260.2 731.9,263 734.3,263.2 736.8,262 739.2,263.1 742,263.6 744.8,265.2 747.6,264.3 750.4,266.7 753.2,266.8 756,266.3 758.8,266.2 761.6,267.8 764.4,268.2 767.2,268.7 769.9,269.2 772.7,271 775.5,270 778.3,270.4 780.9,272.7 783.5,274 786.1,274 788.8,274.8 791.4,276.5 794,276.8 796.4,275.6 798.7,278.6 801.1,278.9 803.4,280.1 805.8,281.3 807.8,283.9 809.7,286.2 811.6,288.7 813.6,289 815.5,291.3 817.5,297.1 818.2,298.9 818.9,301.1 819.5,303.1 820.2,304.9 820.6,310.3 821.1,312 821.5,315 822,317.3 822.4,320.4 822.9,322.5 823.3,323.6 823.5,326.4 823.8,329.7 824,332.5 824.3,335.3 824.5,337.7 824.8,340.3 825,342.2 825.3,344.4 825.5,347.4 825.8,350.1 826,352.6 826.3,355.9 826.8,358.7 827.2,360.9 827.7,361.2 828.1,364.6 828.6,367.7 829.1,371.1 829.5,372.6 830,376.2 830.5,377.6 830.9,381.5 831.4,382.1 831.8,385.4 832.3,386.9 833.6,390.9 834.9,392.5 836.2,396.3 837.5,397.1 838.8,398.6 840.1,401 841.4,403.2 843.7,404 846,405.4 848.2,407.3 850.5,407.4 853,408.1 855.5,408 858,406.3 860.6,405.5 863.1,405 865.6,404.3 868.1,403.8 870.6,402.2 873.2,402.4 875.7,400.8 878.2,401.5 880.7,399.6 883.2,400.8 885.8,398.9 888.3,398.7 890.8,398.4 893.4,398.3 895.9,398 898.7,396.9 901.5,395.9 904.4,395.7 907.2,397.3 910,396.2 912.5,397.7 915,396.5 917.5,396.4 920,397 922.5,397 925,396.4 927.5,397.5 930,396.1 932.5,395.6 935,395.7 937.5,395.8 940,397.2 942.5,396.6 945,395.6 947.5,395.2 950,396.7 952.6,396.4 955.2,395.6 957.9,395 960.5,395.8 963.1,396.6 965.7,396.7 968.3,397 971,395.4 973.6,396.3 976.2,394.2 978.8,394.9 981.4,396.8 984.1,393.9 986.7,394.2 989.3,393.9 990.9,398.2 992.4,400 994,402.1 996.9,403.1 999.7,401.3 1000.4,399.8 1001.1,396.7 1001.8,392.7 1002.5,389.7 1003.2,388.6 1004,390.9 1004.7,393.7 1005.5,396.5 1008.3,396.3 1011.1,395.7 1013.8,394.6 1016.6,395.9 1019.4,396.2 1021.9,395 1024.5,394.9 1027,393.6 1029.5,393 1032,394.1 1034.5,394.5 1037.1,394.4 1039.6,393.3 1042.1,393.4 1044.7,392.3 1047.2,392.3 1049.7,392.5 1052.2,392.5 1054.8,392.6 1057.3,392 1059.8,392.1 1062.3,391.9 1064.8,393.2 1067.4,393.5 1069.9,393.3 1072.4,392.7 1075,390.5 1077.5,390.7 1080,392.8 1082.7,392.1 1085.5,391.9 1088.2,390.5 1091,390.5 1093.7,390.6 1096.5,391.7 1099.2,390.6 1102,391.4 1104.7,390.4 1107.2,389.3 1109.7,390.2 1112.2,391 1114.7,390.8 1117.2,390.2 1119.7,388.9 1122.1,389.5 1124.6,389 1127.1,389.5 1129.6,388.5 1132.1,388.8 1134.6,387.7 1137.1,388.1 1137.6,389.1 1138,392.9 1138.5,396.7 1138.9,399.6 1139.4,401 1141.9,401.5 1144.4,402.9 1146.9,401.8 1149.4,401.4 1151.9,403 1154.4,402.7 1156.9,401.9 1159.4,402.6 1161.9,402.4 1164.4,402.7 1166.9,402.5 1169.5,401.7 1172,403.4 1174.5,402.1 1177,403.7 1179.5,402.9 1182,404.1 1184.5,402.3 1187,403.3 1189.5,403.2 1192,402.1 1194.5,404.3 1197,402.7 1197,408.4 1194.5,407.8 1192,407.6 1189.5,408.1 1187,406.7 1184.5,407.8 1182,408.2 1179.5,407.7 1177,408.8 1174.5,407.8 1172,407.2 1169.5,406.2 1166.9,407.4 1164.4,408.5 1161.9,407 1159.4,407 1156.9,407.5 1154.4,408.4 1151.9,406.8 1149.4,406.5 1146.9,406.9 1144.4,407.5 1141.9,407 1139.4,405.6 1138.9,404.4 1138.5,400.7 1138,397.9 1137.6,396.3 1137.1,391.2 1134.6,392.3 1132.1,391.9 1129.6,393.8 1127.1,392.9 1124.6,393.3 1122.1,393.8 1119.7,394.3 1117.2,393.7 1114.7,396.1 1112.2,393.8 1109.7,395.7 1107.2,394.6 1104.7,395 1102,395.4 1099.2,395.4 1096.5,395.7 1093.7,396 1091,397.4 1088.2,395.2 1085.5,397.2 1082.7,397.6 1080,397.3 1077.5,396.9 1075,395.5 1072.4,396.5 1069.9,397.9 1067.4,396.7 1064.8,396.7 1062.3,398.1 1059.8,397.8 1057.3,398.4 1054.8,398.2 1052.2,398.7 1049.7,399.1 1047.2,399 1044.7,397.1 1042.1,398.3 1039.6,399 1037.1,398.1 1034.5,398.7 1032,399.2 1029.5,399.6 1027,399.9 1024.5,399.8 1021.9,398.5 1019.4,401.1 1016.6,399.6 1013.8,400.4 1011.1,401.5 1008.3,399.9 1005.5,401 1004.7,398.7 1004,394.8 1003.2,394.4 1002.5,396.1 1001.8,397.5 1001.1,399.8 1000.4,404.1 999.7,405.9 996.9,407.3 994,407.5 992.4,405.1 990.9,402.7 989.3,400.7 986.7,399.7 984.1,400.7 981.4,400.3 978.8,400 976.2,400.3 973.6,400.4 971,401.4 968.3,400.1 965.7,401 963.1,399.7 960.5,400.3 957.9,401 955.2,402.2 952.6,400.1 950,401.4 947.5,400.7 945,401.5 942.5,400.3 940,401.1 937.5,401.6 935,402.6 932.5,402.2 930,402.6 927.5,402.4 925,400.3 922.5,401.7 920,401.6 917.5,400.3 915,400.3 912.5,400.5 910,400.2 907.2,402.7 904.4,400.9 901.5,402.4 898.7,402.6 895.9,402.9 893.4,402.7 890.8,403.9 888.3,404.3 885.8,403.8 883.2,404.2 880.7,405.1 878.2,407.4 875.7,407.8 873.2,406.9 870.6,408.2 868.1,408.1 865.6,409.4 863.1,411.8 860.6,411.7 858,412.6 855.5,413.6 853,415.5 850.5,415.2 848.2,414.5 846,412.9 843.7,412.7 841.4,410.4 840.1,407.8 838.8,407.8 837.5,403.3 836.2,403.2 834.9,400.5 833.6,396.7 832.3,396.4 831.8,392.7 831.4,390.2 830.9,388 830.5,386.5 830,382.4 829.5,381.4 829.1,378.9 828.6,374.3 828.1,374.4 827.7,369.5 827.2,366.9 826.8,364.6 826.3,364.2 826,359.5 825.8,357.4 825.5,355.1 825.3,353.1 825,349.7 824.8,347.8 824.5,345.8 824.3,342.5 824,339.4 823.8,336.6 823.5,335.6 823.3,331.4 822.9,329.9 822.4,328.1 822,323.6 821.5,323.1 821.1,321.2 820.6,315.9 820.2,315.1 819.5,313.2 818.9,308.5 818.2,306.5 817.5,303.1 815.5,300.3 813.6,298.5 811.6,295.2 809.7,294.9 807.8,293.1 805.8,290 803.4,288.6 801.1,287.3 798.7,286.7 796.4,284 794,284.2 791.4,283.7 788.8,282.5 786.1,282.5 783.5,281.1 780.9,280.2 778.3,278.9 775.5,278 772.7,278.3 769.9,276.7 767.2,276.6 764.4,275.5 761.6,275.6 758.8,273.8 756,274.7 753.2,275.1 750.4,275.1 747.6,272 744.8,273.1 742,271.9 739.2,271.7 736.8,271.8 734.3,269.7 731.9,270.1 729.4,269.4 727,268.4 724.5,268.5 722.1,269.1 719.6,268.2 717.1,265.4 714.7,266.9 712.2,266.8 709.8,264.5 707.4,263.4 704.9,263.3 702.5,260.9 700,261.7 697.5,261.8 695,260.2 692.5,259.9 690,259.2 687.5,258.9 685,257.4 682.5,258.4 680,257.8 677.5,255.4 675,256.1 672.5,254.9 670,253.7 667.5,254.5 665,253.6 662.5,252.5 660,253.1 657.7,252.5 655.4,250.6 653,249.7 650.7,248 648.4,246.4 646,244.9 643.7,245.7 641.4,243.7 639.1,243.3 636.8,241.5 634.4,242 632.1,242.2 629.6,238.7 627.2,240.5 624.8,239.3 622.3,239.2 619.9,237.9 617.4,238.4 615,235.2 612.5,235.7 610,235.4 607.6,233.7 605.1,233.5 602.7,232.9 600.2,233.7 597.8,231 595.4,231.1 592.9,229 590.4,227.9 588,228.1 585.5,226.4 583.1,226.4 580.6,223.9 578.2,225.2 575.8,223.2 573.3,221.5 570.8,219 568.4,218.2 566,218.4 563.5,215.4 561.6,214.6 559.6,212 557.7,210.4 555.7,207.2 553.8,206.2 551.8,205.4 549.9,202.3 547.9,201.5 546,197 544,196.8 542,194.8 540.1,193.3 538.1,189.5 536.2,189.6 534.2,188 532.2,184.9 530.3,184.4 528.3,182.3 526.4,179.3 524.4,179.4 522,176.3 519.5,175.9 517,173.5 514.6,172.8 512.6,170.3 510.7,168.2 508.7,167.4 506.8,163.3 504.8,164 502.8,161.1 500.8,160.9 498.9,159.5 496.9,155.9 494.9,153.8" fill="#000" fill-opacity="0.9"/>
<polyline points="494.9,150.6 496.9,152.6 498.9,154.2 500.8,156.1 502.8,157.8 504.8,159 506.8,160.5 508.7,162.9 510.7,163.8 512.6,165.4 514.6,167.7 517,168.9 519.5,171 522,172.4 524.4,174.2 526.4,175.5 528.3,177.8 530.3,179.7 532.2,181.2 534.2,183.1 536.2,185 538.1,186.4 540.1,189 542,190.8 544,192.5 546,194.2 547.9,197 549.9,198.6 551.8,200.8 553.8,202.9 555.7,204.5 557.7,206.4 559.6,207.7 561.6,209.8 563.5,211.2 566,213.4 568.4,215.1 570.8,216 573.3,217.7 575.8,218.8 578.2,220.5 580.6,221 583.1,222.2 585.5,222.8 588,224 590.4,224.9 592.9,225.9 595.4,226.8 597.8,227.5 600.2,228.5 602.7,228.9 605.1,229.9 607.6,230.5 610,231.3 612.5,231.7 615,231.8 617.4,233.2 619.9,233.9 622.3,234.5 624.8,234.8 627.2,235.6 629.6,235.8 632.1,237 634.4,237.7 636.8,238.4 639.1,239.1 641.4,240.8 643.7,241.9 646,241.9 648.4,243.6 650.7,244.1 653,244.8 655.4,245.9 657.7,247.3 660,248.4 662.5,248.1 665,249.3 667.5,249.3 670,250.6 672.5,250.8 675,252 677.5,252.7 680,252.8 682.5,253.9 685,253.8 687.5,254.2 690,255.3 692.5,255.3 695,256.1 697.5,256.9 700,257.7 702.5,258 704.9,258.6 707.4,260.1 709.8,260.3 712.2,261.7 714.7,262.3 717.1,262.6 719.6,263.4 722.1,263.9 724.5,264.5 727,265 729.4,265.5 731.9,266 734.3,266.8 736.8,266.9 739.2,267.3 742,268.2 744.8,268.3 747.6,268.9 750.4,270.1 753.2,270.2 756,270.8 758.8,270.8 761.6,271.8 764.4,272.5 767.2,272.5 769.9,273.6 772.7,274.2 775.5,274.2 778.3,275.3 780.9,276 783.5,277 786.1,277.5 788.8,278.7 791.4,279.5 794,279.6 796.4,280.8 798.7,282.6 801.1,284.1 803.4,284.6 805.8,286 807.8,288 809.7,289.7 811.6,291.7 813.6,293.6 815.5,296.6 817.5,299.8 818.2,302.2 818.9,305 819.5,308.1 820.2,310 820.6,313.2 821.1,315.9 821.5,318.1 822,320.6 822.4,323.7 822.9,325.8 823.3,328.3 823.5,331.1 823.8,333.8 824,335.8 824.3,338.5 824.5,341.1" fill="none" stroke="#000" stroke-opacity="0.9" stroke-width="4.2" stroke-linejoin="round"/>
<polyline points="824.5,341.1 824.8,344.1" fill="none" stroke="#000" stroke-opacity="0.9" stroke-width="2.4" stroke-linejoin="round"/>
<polyline points="824.8,344.1 825,346.2 825.3,349.2 825.5,351 825.8,353.7 826,356.5 826.3,359.3 826.8,361.4 827.2,363.7 827.7,366.2 828.1,369.2 828.6,371.4 829.1,374.6 829.5,377.2 830,379.1 830.5,381.7 830.9,384.8 831.4,387.2 831.8,389.9 832.3,392 833.6,394 834.9,396.3 836.2,399 837.5,400.6 838.8,402.8 840.1,405.1 841.4,407.2 843.7,408.3 846,410 848.2,410.3 850.5,411.3 853,411.5 855.5,410.7 858,410 860.6,408.7 863.1,408.5 865.6,407.7 868.1,406.3 870.6,406 873.2,405.4 875.7,404.5 878.2,403.6 880.7,402.6 883.2,402.1 885.8,401.5 888.3,400.8 890.8,400.8 893.4,400 895.9,400 898.7,399 901.5,399.6 904.4,399.2 907.2,399.2 910,398.9 912.5,398.9 915,398.6 917.5,398.1 920,398.9 922.5,398.3 925,398.5 927.5,398.9 930,398.8 932.5,398.7 935,399.3 937.5,399 940,398.7 942.5,398.7 945,399.3 947.5,398.9 950,399.3 952.6,398.7 955.2,398.5 957.9,398.7 960.5,398.9 963.1,398.1 965.7,398.7 968.3,398.7 971,398.5 973.6,398.4 976.2,397.4 978.8,398 981.4,398.1 984.1,397.2 986.7,397.3 989.3,397.2 990.9,399.8 992.4,402 994,404.4 996.9,404.7 999.7,403.9 1000.4,401.2 1001.1,398.5 1001.8,395.7 1002.5,392.8 1003.2,391 1004,393.6 1004.7,395.5 1005.5,398.6 1008.3,398.2 1011.1,397.9 1013.8,397.7 1016.6,397.8 1019.4,397.5 1021.9,397.1 1024.5,396.8 1027,396.8 1029.5,396.5 1032,396.7 1034.5,396.8 1037.1,396.3 1039.6,395.8 1042.1,395.8 1044.7,395.9 1047.2,395.9 1049.7,396 1052.2,395.4 1054.8,395.7 1057.3,395.4 1059.8,395.1 1062.3,394.9 1064.8,394.8 1067.4,394.9 1069.9,394.5 1072.4,394.6 1075,394.2 1077.5,393.9 1080,394 1082.7,394.1 1085.5,393.5 1088.2,393.8 1091,393.7 1093.7,394.1 1096.5,394.1 1099.2,393.5 1102,394 1104.7,393.8 1107.2,393 1109.7,393 1112.2,392.4 1114.7,392.9 1117.2,392.5 1119.7,392.5 1122.1,392.2 1124.6,391.8 1127.1,391.7 1129.6,391.3 1132.1,390.6 1134.6,390.8 1137.1,390 1137.6,392.9 1138,396.3 1138.5,398.4 1138.9,401.2 1139.4,404 1141.9,404.8 1144.4,404.2 1146.9,404.1 1149.4,404.9 1151.9,404.3 1154.4,405 1156.9,404.9 1159.4,405.1 1161.9,405.3 1164.4,405 1166.9,405.2 1169.5,404.5 1172,405.3 1174.5,405.1 1177,405.3 1179.5,404.8 1182,405.5 1184.5,405.7 1187,404.9 1189.5,405.2 1192,405.5 1194.5,405.8 1197,405.2" fill="none" stroke="#000" stroke-opacity="0.9" stroke-width="4.2" stroke-linejoin="round"/>
<polygon points="494.9,147.9 496.9,151.1 498.9,152.2 500.8,153.5 502.8,156.2 504.8,157 506.8,158.9 508.7,160.9 510.7,162.1 512.6,163.7 514.6,165.3 517,166.1 519.5,169.5 522,169.6 524.4,172.2 526.4,174.2 528.3,175.4 530.3,177.3 532.2,178.9 534.2,180.6 536.2,183.3 538.1,184 540.1,186.3 542,188.9 544,190 546,191.6 547.9,194.1 549.9,197 551.8,198.5 553.8,200.9 555.7,202.3 557.7,204.9 559.6,204.9 561.6,208 563.5,209.7 566,211 568.4,212.9 570.8,213.6 573.3,215.4 575.8,217.4 578.2,218 580.6,219.3 583.1,219.3 585.5,221.2 588,221.3 590.4,223.3 592.9,223.1 595.4,224.2 597.8,225 600.2,226 602.7,227.3 605.1,227.8 607.6,227.7 610,228.7 612.5,229.4 615,230.1 617.4,231.3 619.9,231.8 622.3,232.9 624.8,233.4 627.2,234.2 629.6,234.4 632.1,235.6 634.4,236.4 636.8,236.6 639.1,237.3 641.4,238.9 643.7,239.6 646,240.4 648.4,241.3 650.7,242.7 653,242.6 655.4,243 657.7,245.8 660,246.2 662.5,245.3 665,247.7 667.5,247.7 670,249.1 672.5,248.7 675,249.3 677.5,250.1 680,250.8 682.5,252.1 685,251.8 687.5,251.7 690,252.6 692.5,254 695,254.8 697.5,255.5 700,255.6 702.5,255.2 704.9,256 707.4,258.1 709.8,258.8 712.2,259.9 714.7,259.6 717.1,261.1 719.6,261.5 722.1,261.7 724.5,262.9 727,262.8 729.4,263.4 731.9,263.2 734.3,264.1 736.8,265.5 739.2,265.1 742,266.5 744.8,265.9 747.6,266.6 750.4,267.4 753.2,268.7 756,268.3 758.8,269.1 761.6,269.2 764.4,270.1 767.2,269.7 769.9,271.9 772.7,272.8 775.5,272.3 778.3,273.5 780.9,273.5 783.5,275.6 786.1,274.8 788.8,276.2 791.4,277.5 794,277.7 796.4,278.4 798.7,280.7 801.1,281.4 803.4,281.7 805.8,283.7 807.8,286.1 809.7,288.2 811.6,289.6 813.6,292.2 815.5,294.9 817.5,298.5 818.2,300.4 818.9,302.8 819.5,306.2 820.2,308.2 820.6,310.7 821.1,313.3 821.5,315.7 822,318.5 822.4,320.9 822.9,323.4 823.3,325.6 823.5,329.7 823.8,331.7 824,333.8 824.3,335.8 824.5,338.9 824.8,342.7 825,344.6 825.3,347.7 825.5,348.4 825.8,352.2 826,354.9 826.3,357 826.8,359.1 827.2,362.3 827.7,363.8 828.1,366.7 828.6,369.5 829.1,372.5 829.5,375 830,376.9 830.5,380 830.9,383.1 831.4,385.1 831.8,388.6 832.3,389.6 833.6,391.6 834.9,394.1 836.2,396.2 837.5,398.6 838.8,400.8 840.1,402.7 841.4,405.2 843.7,406.4 846,408.3 848.2,408.6 850.5,409.3 853,409.5 855.5,409.6 858,407.7 860.6,407.7 863.1,406.3 865.6,405.7 868.1,404.7 870.6,405.4 873.2,403.5 875.7,402.4 878.2,402.7 880.7,401.3 883.2,400.2 885.8,400.8 888.3,399.7 890.8,399.8 893.4,398.1 895.9,398.9 898.7,397 901.5,397.9 904.4,398 907.2,398.7 910,398.3 912.5,397.1 915,398 917.5,397.4 920,396.9 922.5,396.3 925,396.7 927.5,398.4 930,397.1 932.5,397.5 935,398.2 937.5,397.5 940,397.2 942.5,397.5 945,398.5 947.5,397.2 950,397.2 952.6,397.4 955.2,397.9 957.9,398 960.5,396.9 963.1,397.2 965.7,398 968.3,397.9 971,396.4 973.6,396.3 976.2,396.1 978.8,397.4 981.4,397.4 984.1,395.5 986.7,396.7 989.3,396.4 990.9,398.3 992.4,400.2 994,402.5 996.9,403.1 999.7,401.9 1000.4,399.9 1001.1,397.3 1001.8,395.1 1002.5,390.9 1003.2,389 1004,392.4 1004.7,393.6 1005.5,396.7 1008.3,397 1011.1,396.9 1013.8,396.9 1016.6,396.3 1019.4,395.6 1021.9,395 1024.5,396 1027,395.9 1029.5,394.5 1032,395.6 1034.5,394.7 1037.1,394.9 1039.6,395.1 1042.1,395.3 1044.7,394.7 1047.2,395.2 1049.7,394.7 1052.2,394.9 1054.8,394 1057.3,393.3 1059.8,393.7 1062.3,394.3 1064.8,393.8 1067.4,393.9 1069.9,393.6 1072.4,393.6 1075,393.3 1077.5,392.3 1080,392.5 1082.7,393.4 1085.5,391.8 1088.2,392.5 1091,392 1093.7,393 1096.5,392.7 1099.2,392.8 1102,392.4 1104.7,392 1107.2,390.9 1109.7,390.9 1112.2,390.7 1114.7,392.1 1117.2,392 1119.7,390.6 1122.1,391.5 1124.6,389.9 1127.1,390.8 1129.6,389.8 1132.1,388.6 1134.6,389.2 1137.1,389.4 1137.6,392 1138,395.2 1138.5,397.5 1138.9,400.5 1139.4,402.7 1141.9,404.1 1144.4,403.4 1146.9,403 1149.4,403.7 1151.9,403.5 1154.4,403 1156.9,403.2 1159.4,404.2 1161.9,404.2 1164.4,403.4 1166.9,403.3 1169.5,403.5 1172,403.4 1174.5,404.2 1177,404.3 1179.5,402.8 1182,403.9 1184.5,405 1187,403.5 1189.5,404.2 1192,404.3 1194.5,404.2 1197,404.1 1197,406.3 1194.5,406.9 1192,407.1 1189.5,405.7 1187,406.3 1184.5,406.8 1182,407.2 1179.5,405.7 1177,406.8 1174.5,405.8 1172,406.7 1169.5,406.4 1166.9,407 1164.4,406.8 1161.9,406.2 1159.4,406.2 1156.9,405.5 1154.4,407.1 1151.9,405.8 1149.4,406.3 1146.9,406 1144.4,405.7 1141.9,406.4 1139.4,405.2 1138.9,402.9 1138.5,399.1 1138,398.1 1137.6,394.7 1137.1,390.7 1134.6,392.6 1132.1,391.6 1129.6,392.8 1127.1,393.1 1124.6,393.5 1122.1,393.4 1119.7,393.1 1117.2,393.4 1114.7,394.2 1112.2,393.4 1109.7,393.9 1107.2,394.7 1104.7,395.7 1102,395.3 1099.2,394.2 1096.5,395.4 1093.7,396.1 1091,394.9 1088.2,395.3 1085.5,395.3 1082.7,395.5 1080,395.5 1077.5,395.3 1075,395.6 1072.4,395.9 1069.9,395.2 1067.4,396.7 1064.8,396.7 1062.3,396.3 1059.8,396.3 1057.3,396.8 1054.8,396.4 1052.2,397.1 1049.7,397 1047.2,397 1044.7,396.7 1042.1,396.9 1039.6,397.8 1037.1,397 1034.5,397.3 1032,397.4 1029.5,397.5 1027,397.6 1024.5,398.8 1021.9,398.8 1019.4,399.3 1016.6,398.8 1013.8,399.6 1011.1,399 1008.3,399.8 1005.5,399.6 1004.7,397.5 1004,394.3 1003.2,392.1 1002.5,394.7 1001.8,396.4 1001.1,399.8 1000.4,402.6 999.7,404.8 996.9,405.3 994,405 992.4,403.9 990.9,400.4 989.3,397.9 986.7,398.3 984.1,398.7 981.4,398.9 978.8,400 976.2,399.3 973.6,399.4 971,399.9 968.3,400.7 965.7,400.4 963.1,399.7 960.5,399.6 957.9,400.4 955.2,399.6 952.6,399.9 950,401.1 947.5,400.6 945,400.3 942.5,400.8 940,400.7 937.5,400.1 935,400 932.5,399.5 930,400.8 927.5,400.3 925,399.8 922.5,400.1 920,399.6 917.5,399.4 915,399.7 912.5,400.7 910,399.9 907.2,401 904.4,401.2 901.5,400.9 898.7,400.8 895.9,401.2 893.4,400.9 890.8,402.1 888.3,401.4 885.8,402.1 883.2,402.9 880.7,404.6 878.2,405.3 875.7,405.7 873.2,406.3 870.6,407.9 868.1,407.4 865.6,410 863.1,409.9 860.6,411 858,412.4 855.5,411.8 853,413.4 850.5,412.3 848.2,411.4 846,412.6 843.7,410.4 841.4,409.8 840.1,406.6 838.8,404 837.5,403.1 836.2,401.5 834.9,398.8 833.6,396.8 832.3,393.6 831.8,391.9 831.4,388.9 830.9,386.8 830.5,383.1 830,381.7 829.5,379.3 829.1,377.2 828.6,374.1 828.1,372.1 827.7,367.5 827.2,365.9 826.8,364.2 826.3,362.1 826,358.1 825.8,355.4 825.5,352.6 825.3,350.9 825,348.8 824.8,346.1 824.5,343.9 824.3,340.7 824,337.9 823.8,335.3 823.5,333.3 823.3,330.3 822.9,327.4 822.4,325.3 822,322 821.5,319.5 821.1,318.7 820.6,314.8 820.2,312.6 819.5,309.8 818.9,307.5 818.2,304.9 817.5,302.3 815.5,299 813.6,296.2 811.6,294.2 809.7,292.5 807.8,289.5 805.8,288.8 803.4,287.2 801.1,285.4 798.7,284.8 796.4,283.4 794,281.2 791.4,281.7 788.8,280.4 786.1,279.1 783.5,279.2 780.9,278.7 778.3,277.6 775.5,276.4 772.7,277.1 769.9,276 767.2,275 764.4,275 761.6,273.9 758.8,273.4 756,272.6 753.2,272.9 750.4,271.9 747.6,271.1 744.8,269.8 742,271 739.2,270.1 736.8,268.6 734.3,269.3 731.9,268.5 729.4,267.3 727,266.5 724.5,266.4 722.1,265.6 719.6,265.8 717.1,265.3 714.7,263.7 712.2,263.1 709.8,261.8 707.4,262.7 704.9,261.5 702.5,259.5 700,260.2 697.5,258.8 695,257.5 692.5,256.7 690,257.9 687.5,256.4 685,256.7 682.5,256.5 680,255 677.5,255.3 675,254.8 672.5,253.6 670,252.6 667.5,251.2 665,250.6 662.5,250.4 660,250.7 657.7,248.9 655.4,248.6 653,247 650.7,246.1 648.4,245 646,244.1 643.7,243.8 641.4,243.4 639.1,240.4 636.8,240.2 634.4,239.4 632.1,239.6 629.6,238.4 627.2,237.7 624.8,236.9 622.3,236 619.9,236.1 617.4,235.7 615,233.3 612.5,233.2 610,232.7 607.6,231.9 605.1,232.5 602.7,231.5 600.2,230.5 597.8,230 595.4,228.8 592.9,228.1 590.4,226.9 588,226.3 585.5,224.3 583.1,224.7 580.6,223.7 578.2,221.9 575.8,221.1 573.3,219.2 570.8,218 568.4,217.2 566,215.2 563.5,213.1 561.6,212.1 559.6,209.6 557.7,208 555.7,206.3 553.8,204.6 551.8,202.3 549.9,200.5 547.9,199.3 546,195.6 544,194.4 542,193.5 540.1,191.4 538.1,189.2 536.2,187.5 534.2,185.2 532.2,182.9 530.3,181.8 528.3,180.6 526.4,178.1 524.4,176.4 522,174.1 519.5,173.1 517,170.4 514.6,169.9 512.6,166.9 510.7,165.9 508.7,165.5 506.8,162 504.8,161.2 502.8,159.4 500.8,158 498.9,156.8 496.9,155.3 494.9,152.8" fill="#e010e0"/>
<polyline points="494.9,150.6 496.9,152.6 498.9,154.2 500.8,156.1 502.8,157.8 504.8,159 506.8,160.5 508.7,162.9 510.7,163.8 512.6,165.4 514.6,167.7 517,168.9 519.5,171 522,172.4 524.4,174.2 526.4,175.5 528.3,177.8 530.3,179.7 532.2,181.2 534.2,183.1 536.2,185 538.1,186.4 540.1,189 542,190.8 544,192.5 546,194.2 547.9,197 549.9,198.6 551.8,200.8 553.8,202.9 555.7,204.5 557.7,206.4 559.6,207.7 561.6,209.8 563.5,211.2 566,213.4 568.4,215.1 570.8,216 573.3,217.7 575.8,218.8 578.2,220.5 580.6,221 583.1,222.2 585.5,222.8 588,224 590.4,224.9 592.9,225.9 595.4,226.8 597.8,227.5 600.2,228.5 602.7,228.9 605.1,229.9 607.6,230.5 610,231.3 612.5,231.7 615,231.8 617.4,233.2 619.9,233.9 622.3,234.5 624.8,234.8 627.2,235.6 629.6,235.8 632.1,237 634.4,237.7 636.8,238.4 639.1,239.1 641.4,240.8 643.7,241.9 646,241.9 648.4,243.6 650.7,244.1 653,244.8 655.4,245.9 657.7,247.3 660,248.4 662.5,248.1 665,249.3 667.5,249.3 670,250.6 672.5,250.8 675,252 677.5,252.7 680,252.8 682.5,253.9 685,253.8 687.5,254.2 690,255.3 692.5,255.3 695,256.1 697.5,256.9 700,257.7 702.5,258 704.9,258.6 707.4,260.1 709.8,260.3 712.2,261.7 714.7,262.3 717.1,262.6 719.6,263.4 722.1,263.9 724.5,264.5 727,265 729.4,265.5 731.9,266 734.3,266.8 736.8,266.9 739.2,267.3 742,268.2 744.8,268.3 747.6,268.9 750.4,270.1 753.2,270.2 756,270.8 758.8,270.8 761.6,271.8 764.4,272.5 767.2,272.5 769.9,273.6 772.7,274.2 775.5,274.2 778.3,275.3 780.9,276 783.5,277 786.1,277.5 788.8,278.7 791.4,279.5 794,279.6 796.4,280.8 798.7,282.6 801.1,284.1 803.4,284.6 805.8,286 807.8,288 809.7,289.7 811.6,291.7 813.6,293.6 815.5,296.6 817.5,299.8 818.2,302.2 818.9,305 819.5,308.1 820.2,310 820.6,313.2 821.1,315.9 821.5,318.1 822,320.6 822.4,323.7 822.9,325.8 823.3,328.3 823.5,331.1 823.8,333.8 824,335.8 824.3,338.5 824.5,341.1" fill="none" stroke="#e010e0" stroke-width="2.2" stroke-linejoin="round"/>
<polyline points="824.5,341.1 824.8,344.1" fill="none" stroke="#e010e0" stroke-width="0.9" stroke-linejoin="round"/>
<polyline points="824.8,344.1 825,346.2 825.3,349.2 825.5,351 825.8,353.7 826,356.5 826.3,359.3 826.8,361.4 827.2,363.7 827.7,366.2 828.1,369.2 828.6,371.4 829.1,374.6 829.5,377.2 830,379.1 830.5,381.7 830.9,384.8 831.4,387.2 831.8,389.9 832.3,392 833.6,394 834.9,396.3 836.2,399 837.5,400.6 838.8,402.8 840.1,405.1 841.4,407.2 843.7,408.3 846,410 848.2,410.3 850.5,411.3 853,411.5 855.5,410.7 858,410 860.6,408.7 863.1,408.5 865.6,407.7 868.1,406.3 870.6,406 873.2,405.4 875.7,404.5 878.2,403.6 880.7,402.6 883.2,402.1 885.8,401.5 888.3,400.8 890.8,400.8 893.4,400 895.9,400 898.7,399 901.5,399.6 904.4,399.2 907.2,399.2 910,398.9 912.5,398.9 915,398.6 917.5,398.1 920,398.9 922.5,398.3 925,398.5 927.5,398.9 930,398.8 932.5,398.7 935,399.3 937.5,399 940,398.7 942.5,398.7 945,399.3 947.5,398.9 950,399.3 952.6,398.7 955.2,398.5 957.9,398.7 960.5,398.9 963.1,398.1 965.7,398.7 968.3,398.7 971,398.5 973.6,398.4 976.2,397.4 978.8,398 981.4,398.1 984.1,397.2 986.7,397.3 989.3,397.2 990.9,399.8 992.4,402 994,404.4 996.9,404.7 999.7,403.9 1000.4,401.2 1001.1,398.5 1001.8,395.7 1002.5,392.8 1003.2,391 1004,393.6 1004.7,395.5 1005.5,398.6 1008.3,398.2 1011.1,397.9 1013.8,397.7 1016.6,397.8 1019.4,397.5 1021.9,397.1 1024.5,396.8 1027,396.8 1029.5,396.5 1032,396.7 1034.5,396.8 1037.1,396.3 1039.6,395.8 1042.1,395.8 1044.7,395.9 1047.2,395.9 1049.7,396 1052.2,395.4 1054.8,395.7 1057.3,395.4 1059.8,395.1 1062.3,394.9 1064.8,394.8 1067.4,394.9 1069.9,394.5 1072.4,394.6 1075,394.2 1077.5,393.9 1080,394 1082.7,394.1 1085.5,393.5 1088.2,393.8 1091,393.7 1093.7,394.1 1096.5,394.1 1099.2,393.5 1102,394 1104.7,393.8 1107.2,393 1109.7,393 1112.2,392.4 1114.7,392.9 1117.2,392.5 1119.7,392.5 1122.1,392.2 1124.6,391.8 1127.1,391.7 1129.6,391.3 1132.1,390.6 1134.6,390.8 1137.1,390 1137.6,392.9 1138,396.3 1138.5,398.4 1138.9,401.2 1139.4,404 1141.9,404.8 1144.4,404.2 1146.9,404.1 1149.4,404.9 1151.9,404.3 1154.4,405 1156.9,404.9 1159.4,405.1 1161.9,405.3 1164.4,405 1166.9,405.2 1169.5,404.5 1172,405.3 1174.5,405.1 1177,405.3 1179.5,404.8 1182,405.5 1184.5,405.7 1187,404.9 1189.5,405.2 1192,405.5 1194.5,405.8 1197,405.2" fill="none" stroke="#e010e0" stroke-width="2.2" stroke-linejoin="round"/>
<polygon points="52.9,9.3 55,10.4 57.2,13.6 59.3,14.3 61.5,14.6 63.6,16.4 65.7,16.7 67.9,18.2 70,18.9 72.1,21.3 74.3,22.2 76.4,25.1 78.5,24.4 80.7,25.3 82.8,26.8 84.9,30.2 87.1,29.9 89.2,32.3 91.4,33.2 93.6,34.6 95.7,35.4 97.9,36.8 100.1,39.2 102.3,39.7 104.4,40.4 106.6,43.9 108.8,44.5 111,46 113.1,48.2 115.3,48.4 117.5,49.4 119.6,50.9 121.8,52.2 124,54.5 126.1,54 128.3,56.3 130.5,58.8 132.7,59.4 134.8,60.1 137,62.9 139.2,63.3 141.4,66.1 143.5,65.7 145.7,67.1 147.9,69.3 150.1,70.3 152.3,72 154.4,74.1 156.6,75.9 158.8,76.1 161,77.8 163.1,78.9 165.3,80.5 167.5,82.7 169.7,82.2 171.9,85 174,85.3 176.2,86.7 178.4,86.8 180.6,87.9 182.7,88.8 184.9,91.3 187.1,94.3 189.7,95.5 192.3,96.6 194.8,96.2 197.4,99.3 200,101.2 202.4,102.3 204.9,103.3 207.3,103 209.8,103.8 212.2,106.7 214.7,108.4 217.2,110.4 219.6,110.1 222,112.1 224.5,111 226.9,114.6 229.4,116 231.8,115.4 234.3,115.6 236.8,118.3 239.2,119.1 241.6,119.5 244.1,120.2 246.6,121.4 249,123.7 251.4,122.6 253.9,126.1 256.4,125.7 258.8,125.6 261.2,127.1 263.7,130.3 266.1,131.1 268.6,130.4 271,130.8 273.4,132.9 275.9,134.5 278.3,133.1 280.7,135.4 283.1,137.8 285.5,137.5 287.9,138.5 290.4,140.5 292.8,140 295.2,141.1 297.6,143.1 300,144.1 302.5,145.3 305,146 307.5,148.6 310,147.6 312.5,150 315,151.7 317.5,152 320,152.6 322.5,153.6 325,153.9 327.5,154.8 330,154.9 332.5,156.7 335,157.3 337.5,157.6 340,158.7 342.5,159.4 345,160.9 347.5,160.2 350,161.5 352.4,162.5 354.9,161.9 357.4,163.4 359.8,163.6 362.2,165.7 364.7,166.2 367.2,165.8 369.6,167.4 372.1,168.1 374.5,168.4 376.9,168.7 379.4,169.2 381.9,172.8 384.3,173 386.8,172.9 389.2,174.2 391.6,174.6 394.1,176 396.6,176.9 399,177.5 401.4,177.5 403.9,178.7 406.4,179.1 408.8,177.6 411.2,179.7 413.7,179.9 416.1,180.6 418.6,182 421,181.3 423.4,183.1 425.9,184.8 428.3,183.2 430.8,185.1 433.2,184.3 435.6,186.3 438.1,186.8 440.6,188.4 443,188.3 445.4,188 447.9,189.1 450.3,188.4 452.8,191.1 455.2,190.9 457.7,190.5 460.1,191.6 462.6,191.6 465.1,194.4 467.5,193 470.3,193.6 473.1,193.9 475.9,194.1 478.7,197 481.5,196.4 484.3,197.9 487.1,199.2 489.6,198.1 492.1,197.2 494.6,198.8 497.1,200.2 499.6,201 502.1,201.8 504.6,201.1 507.1,200.8 509.6,202.1 512.1,204 514.6,202.7 517.4,204.5 520.2,204.9 523,205.2 525.8,205.1 528.6,204.9 531.4,205.2 534.2,206.1 537,208 539.8,207.9 542.6,209.3 545.4,208.8 548.2,211 551,209.7 553.8,209 556.6,209.1 559.4,210.6 562.2,211.8 564.9,213.5 567.7,211.6 570.5,212.4 573.3,213.9 576.1,213.2 578.9,214.6 581.7,213.2 584.5,215.9 587.3,215.8 590.1,215.9 592.9,217.5 595.7,215.6 598.5,215.7 601.3,216.6 604.1,218.7 606.9,217.5 609.7,217.1 612.5,217.3 615.3,218.3 618.1,219.2 620.9,221.2 623.7,221.5 626.5,220.8 629.3,221.7 632.1,220.2 634.8,222 637.5,220.9 640.2,222.8 642.9,221.7 645.5,224.3 648.2,222.1 650.9,223.9 653.6,224.6 656.2,224.4 658.9,224.9 661.5,224 664.2,225.2 666.8,226.1 669.4,226.1 672.1,227 674.7,227.2 677.4,225 680,226.6 682.5,225.8 685,227.5 687.5,226.1 690,228.1 692.5,225.6 695,228.2 697.5,226.7 700,226.1 702.5,226.4 705,227.7 707.5,229.6 710,229.1 712.5,229.6 715,228 717.5,230.1 720,229.9 722.5,230.8 725,229.3 727.5,231.9 730,231.5 732.5,231 735,230.1 737.5,230.9 740,231.7 742.5,231.9 745,231.6 747.5,233 750,233 752.5,233.8 755,232.3 757.5,233.8 760,234.4 762.5,232.7 765,235.7 767.5,235 770,236.2 772.5,236.2 775,235.9 777.5,239.3 780,238.7 782.5,238.9 785,240.7 787.5,240.6 790,241.1 792.5,244.5 795,243.9 797.5,246.4 800,248.5 802,249.8 804,253.7 806,255.5 808,256.2 809.2,258.5 810.4,263.3 811.6,265.5 812.8,268 814,270.3 814.8,272.2 815.5,276.4 816.2,278.4 817,280.4 817.8,283.3 818.5,283.8 819.1,288.3 819.7,290.5 820.2,291.4 820.8,294.5 821.4,298.5 822,300.5 822.4,303.6 822.8,304.9 823.2,308.1 823.7,312 824.1,314.4 824.5,316.3 824.8,319 825.2,320.2 825.5,322.1 825.8,326.1 826.2,329.5 826.5,329.5 826.5,333 826.5,335.6 826.6,338.3 826.6,340.6 826.6,343 826.6,345.7 826.6,349 826.7,350.3 826.7,354.9 826.7,354.9 826.7,358.5 826.7,361.4 826.8,363 826.8,365.4 826.8,367.8 826.8,371.1 826.8,375.3 826.9,376 826.9,379.9 826.9,382.9 826.9,383.6 826.9,387.3 827,388.6 827,392.1 827,394.7 827,396.5 827,400.1 827.1,401.9 827.1,404.4 827.1,407.4 827.1,408.9 827.1,411.5 827.2,416 827.2,418.2 827.2,418.6 827.2,423 827.2,424.9 827.3,425.4 827.3,428.8 827.3,432 827.3,435.8 827.3,437.8 827.4,439 827.4,441.9 827.4,445.6 828.6,447.2 829.9,450.8 830.3,453.7 830.7,457 831.2,460.3 831.6,462.5 832,462.5 832.7,466 833.3,468.5 834,472.4 834.6,474.2 835.3,478.4 835.9,480.2 836.6,482.3 837.2,485.3 837.9,486.6 838.5,490.7 839.5,493.4 840.6,496.1 841.7,499.1 842.7,500.2 844.5,501.3 846.3,504.7 848.1,507.1 851.3,504.7 853.4,504.5 855.6,502.4 857.7,498.9 859.5,497.2 861.3,494.7 863,494.1 864.8,491.1 866.6,490.3 868.4,488.8 870.5,487 872.6,484.1 874.8,483.8 876.9,480.8 879.5,479.7 882,478.4 884.6,477.2 887.1,473.7 889.7,473.9 892.3,472.6 894.9,473 897.4,471.3 900,470.3 902.6,471.1 905.1,467.9 907.6,468.5 910,467 912.5,465.3 915,464.9 917.5,463.2 920,465.1 922.5,462.5 925,463.6 927.5,461.3 930,460.7 932.5,461.3 935,459.5 937.5,460.4 940,458 942.5,458.8 945,456.6 947.5,456.2 950,456.8 952.6,456 955.1,454.7 957.7,455.3 960.3,454.8 962.8,453 965.4,452.8 968,452.8 970.5,451.5 973.1,453 975.8,449.3 978.5,450.4 981.2,451.2 983.9,449.1 986.6,449.2 989.3,448.5 989.9,453.7 990.5,455.2 991,456 991.6,460 992.2,461.1 992.8,464 996.3,466.8 997.8,465.9 999.4,462.5 1000.9,459.6 1001.1,458 1001.4,453.8 1001.6,452.1 1001.8,448.5 1002,448.1 1002.3,444.4 1002.5,442.6 1002.7,439.2 1003,436.3 1003.2,434 1003.4,436 1003.6,439.2 1003.8,442.1 1004,442.6 1004.2,445.4 1004.4,447.3 1006.9,449 1009.4,447.1 1011.9,448.6 1014.4,447.2 1016.9,448.3 1019.4,447.3 1022,448.4 1024.5,447.3 1027.1,447.7 1029.7,446.1 1032.2,446.6 1034.8,446.3 1037.4,444.5 1039.9,445.9 1042.5,445 1045,443.1 1047.5,444.3 1050,443.7 1052.5,443.3 1055,443.7 1057.5,442.2 1060,443.1 1062.5,442.7 1065,440.7 1067.5,442.3 1070,441.2 1072.6,439.3 1075.1,439.1 1077.7,439.4 1080.3,440.2 1082.8,439.6 1085.4,440.2 1088,439.1 1090.5,437.3 1093.1,436.4 1095.7,436 1098.3,436.5 1100.8,435.4 1103.4,434.6 1106,435.7 1108.6,434.6 1111.1,434.4 1113.7,433.7 1116.3,433.3 1118.9,432.2 1121.5,431.5 1124.1,431.8 1126.7,430.9 1129.3,431.2 1131.9,431.4 1134.5,430.3 1137.1,428.6 1137.3,432.2 1137.5,434.4 1137.7,436.2 1137.9,438.7 1138.1,442 1138.2,446.1 1138.4,448.1 1138.6,449.3 1138.8,454 1139,456.1 1139.2,458.3 1139.4,459.4 1141.9,460 1144.4,459.9 1146.9,460.2 1149.4,459.7 1151.9,461.2 1154.4,460.9 1156.9,460.6 1159.4,460.9 1161.9,460.7 1164.4,459.6 1166.9,461 1169.5,461.6 1172,461.8 1174.5,461.3 1177,459.9 1179.5,460.4 1182,459.1 1184.5,461.5 1187,462.2 1189.5,462.2 1192,461 1194.5,461.8 1197,461.9 1197,465.6 1194.5,466.3 1192,465.9 1189.5,467.7 1187,466.5 1184.5,465.6 1182,465.5 1179.5,466.8 1177,466.1 1174.5,467.1 1172,467.9 1169.5,466.3 1166.9,466.2 1164.4,466.7 1161.9,466.5 1159.4,467.4 1156.9,465.7 1154.4,467.1 1151.9,467.8 1149.4,465.4 1146.9,467.2 1144.4,465.5 1141.9,465.5 1139.4,466.4 1139.2,463.5 1139,461.9 1138.8,459.9 1138.6,455 1138.4,452.3 1138.2,451.2 1138.1,448.5 1137.9,444.9 1137.7,442 1137.5,441.4 1137.3,438.6 1137.1,435.9 1134.5,434.5 1131.9,437.5 1129.3,437.1 1126.7,437.4 1124.1,436.3 1121.5,437.1 1118.9,437.9 1116.3,438 1113.7,439.6 1111.1,439.5 1108.6,440.8 1106,440.7 1103.4,440.8 1100.8,440.5 1098.3,442.7 1095.7,442.4 1093.1,442.8 1090.5,443.5 1088,445 1085.4,444.9 1082.8,444.7 1080.3,445.1 1077.7,446.1 1075.1,445.5 1072.6,445.1 1070,445.8 1067.5,447.9 1065,448.6 1062.5,448.2 1060,447.3 1057.5,448.8 1055,448.1 1052.5,449.4 1050,449.3 1047.5,448.2 1045,448.7 1042.5,448.8 1039.9,451.5 1037.4,451.3 1034.8,452.3 1032.2,451.8 1029.7,452 1027.1,452.4 1024.5,453.4 1022,453.1 1019.4,454.2 1016.9,454.1 1014.4,453.7 1011.9,453.1 1009.4,452.8 1006.9,455.6 1004.4,454.9 1004.2,452.2 1004,449.9 1003.8,446.1 1003.6,444.8 1003.4,441.5 1003.2,439 1003,441.2 1002.7,446.4 1002.5,448.4 1002.3,450.7 1002,453.8 1001.8,455.8 1001.6,459.2 1001.4,459.4 1001.1,463.4 1000.9,464.9 999.4,469.4 997.8,470.2 996.3,473.1 992.8,470.6 992.2,468.8 991.6,466.6 991,461.6 990.5,459.8 989.9,458.7 989.3,455.6 986.6,455.7 983.9,456.3 981.2,456.6 978.5,457.3 975.8,457.1 973.1,458.2 970.5,457.4 968,457.5 965.4,459.2 962.8,459.1 960.3,460.5 957.7,461 955.1,461.8 952.6,462.3 950,463.8 947.5,462.7 945,462.5 942.5,462.8 940,463.8 937.5,465.7 935,464 932.5,466.4 930,468.1 927.5,468.3 925,468.2 922.5,469.2 920,470 917.5,470.3 915,471.1 912.5,470.8 910,472.8 907.6,472.4 905.1,474.4 902.6,476.5 900,475.3 897.4,476.4 894.9,477.1 892.3,479.4 889.7,480.8 887.1,482.1 884.6,483.8 882,484.7 879.5,487.6 876.9,489.1 874.8,490.8 872.6,491.3 870.5,493.2 868.4,495.9 866.6,498.4 864.8,500.6 863,500 861.3,503 859.5,505.4 857.7,507.1 855.6,509.5 853.4,510.7 851.3,514.3 848.1,514.1 846.3,512.9 844.5,509.5 842.7,509.3 841.7,505.5 840.6,502.5 839.5,501.7 838.5,497.7 837.9,495 837.2,493.1 836.6,489.9 835.9,487.8 835.3,484.5 834.6,483.2 834,481.5 833.3,478.9 832.7,475 832,472.5 831.6,470.6 831.2,467 830.7,464 830.3,462.6 829.9,460.2 828.6,456.5 827.4,453.5 827.4,449.8 827.4,448.1 827.3,445.1 827.3,442.6 827.3,441.1 827.3,437.7 827.3,435.7 827.2,432.2 827.2,430.4 827.2,427 827.2,424.7 827.2,422.4 827.1,419.3 827.1,418.4 827.1,414.3 827.1,413.7 827.1,408.5 827,407.9 827,405.5 827,402.1 827,400.1 827,397 826.9,395.6 826.9,392.4 826.9,391.1 826.9,387.5 826.9,385.9 826.8,382.9 826.8,380.4 826.8,376.3 826.8,374.6 826.8,372.6 826.7,368.8 826.7,366.1 826.7,364.9 826.7,361.3 826.7,358.4 826.6,357.5 826.6,353.7 826.6,351.8 826.6,350 826.6,347.5 826.5,344.2 826.5,341.1 826.5,340 826.2,338.1 825.8,333.6 825.5,330.6 825.2,330.3 824.8,326.9 824.5,325.6 824.1,321.8 823.7,319.9 823.2,316.7 822.8,312.4 822.4,311.7 822,309.4 821.4,307.1 820.8,302.6 820.2,300 819.7,299.1 819.1,296.4 818.5,293.3 817.8,289.4 817,288.6 816.2,285.8 815.5,284.2 814.8,279.4 814,278.5 812.8,274.2 811.6,271.7 810.4,271.9 809.2,268.5 808,266.1 806,263.7 804,261.8 802,258.8 800,256.9 797.5,253.2 795,253.8 792.5,251 790,251.2 787.5,250.7 785,249.8 782.5,247.7 780,246.6 777.5,246.6 775,243.9 772.5,243.7 770,244.7 767.5,244.3 765,242.5 762.5,241.1 760,242.7 757.5,241.7 755,242.2 752.5,240.9 750,242.3 747.5,240 745,240.1 742.5,241.3 740,239.3 737.5,239 735,238.5 732.5,238.1 730,237.8 727.5,238.9 725,237.1 722.5,239.5 720,236.1 717.5,237.5 715,237.6 712.5,236 710,237.5 707.5,236.9 705,235.9 702.5,234.9 700,235.1 697.5,235.7 695,234 692.5,234.7 690,234.5 687.5,233.7 685,235.7 682.5,235.9 680,235.1 677.4,234.2 674.7,234.5 672.1,235 669.4,234.8 666.8,233.2 664.2,233 661.5,232.8 658.9,233.9 656.2,232.2 653.6,233.4 650.9,232.7 648.2,230.6 645.5,231.1 642.9,231.4 640.2,230.2 637.5,228.6 634.8,230.7 632.1,230.4 629.3,228.8 626.5,228.7 623.7,229.5 620.9,228 618.1,226.3 615.3,227.3 612.5,226.7 609.7,224.9 606.9,225 604.1,226 601.3,226.5 598.5,225.4 595.7,223.6 592.9,224.6 590.1,222.9 587.3,222.4 584.5,224.3 581.7,222.7 578.9,223.5 576.1,221.2 573.3,222.5 570.5,220.9 567.7,220.2 564.9,219.5 562.2,220.2 559.4,219.3 556.6,217.7 553.8,217 551,217.4 548.2,217.7 545.4,217.5 542.6,217.1 539.8,216.8 537,216 534.2,216.7 531.4,213.5 528.6,213 525.8,213.6 523,212.4 520.2,210.9 517.4,211.9 514.6,212.3 512.1,211.6 509.6,210.1 507.1,210.6 504.6,210.5 502.1,209.8 499.6,208.6 497.1,209.1 494.6,208 492.1,205.4 489.6,207.6 487.1,206.2 484.3,206.7 481.5,204.6 478.7,204 475.9,204.4 473.1,203.2 470.3,201.3 467.5,203 465.1,200.5 462.6,199.8 460.1,200.1 457.7,199.3 455.2,198.3 452.8,197.7 450.3,196.5 447.9,197.8 445.4,196.4 443,196.3 440.6,195.6 438.1,195.2 435.6,194.2 433.2,192.7 430.8,192.6 428.3,192.5 425.9,191.2 423.4,190.1 421,189.5 418.6,190.4 416.1,189.5 413.7,187.8 411.2,187 408.8,186.9 406.4,187.5 403.9,185.7 401.4,185.5 399,184.5 396.6,184.9 394.1,183 391.6,184.6 389.2,182.7 386.8,182.2 384.3,180.9 381.9,179.4 379.4,177.4 376.9,176.9 374.5,176.1 372.1,176.5 369.6,175.3 367.2,175.9 364.7,174.5 362.2,173.2 359.8,172.4 357.4,172.4 354.9,172.1 352.4,170.7 350,170.1 347.5,167.9 345,167.6 342.5,167.4 340,167.6 337.5,165 335,166.6 332.5,165.9 330,164.3 327.5,165.2 325,162.9 322.5,163.7 320,161.9 317.5,159.9 315,157.8 312.5,158.6 310,156.4 307.5,156.6 305,155.9 302.5,152.7 300,152.6 297.6,152.1 295.2,149 292.8,150.1 290.4,147.5 287.9,146.8 285.5,146.8 283.1,145.2 280.7,143 278.3,142.7 275.9,141.1 273.4,141.9 271,139.2 268.6,139.4 266.1,138.2 263.7,137.3 261.2,135.2 258.8,135.8 256.4,135 253.9,132.5 251.4,131.3 249,129.8 246.6,129.5 244.1,129.5 241.6,127.3 239.2,127.4 236.8,126.5 234.3,124 231.8,123.5 229.4,122.2 226.9,120.5 224.5,121.3 222,120 219.6,118.9 217.2,118.3 214.7,116.1 212.2,114.6 209.8,112.3 207.3,110.8 204.9,109.9 202.4,110.8 200,108 197.4,107.5 194.8,105.2 192.3,105 189.7,103.3 187.1,102.5 184.9,98.7 182.7,98.9 180.6,96.5 178.4,97.1 176.2,95.7 174,94.3 171.9,92.2 169.7,91.1 167.5,90.4 165.3,89 163.1,86.9 161,84.9 158.8,83.8 156.6,84.7 154.4,83 152.3,81.6 150.1,78.8 147.9,78.1 145.7,76.3 143.5,74.3 141.4,73.6 139.2,72.7 137,69.6 134.8,69.7 132.7,68.2 130.5,66.8 128.3,63.8 126.1,64.2 124,61.5 121.8,61.5 119.6,59.4 117.5,58.4 115.3,57.5 113.1,55.2 111,54.1 108.8,51.3 106.6,50.8 104.4,50.8 102.3,48.7 100.1,47.4 97.9,45.3 95.7,42.9 93.6,42 91.4,42.6 89.2,41.3 87.1,37.9 84.9,37.5 82.8,35 80.7,34.7 78.5,34.3 76.4,30.9 74.3,31.9 72.1,27.8 70,27.1 67.9,28 65.7,25.4 63.6,24.5 61.5,23.5 59.3,22.6 57.2,21.5 55,18.2 52.9,16.3" fill="#000" fill-opacity="0.9"/>
<polyline points="52.9,13.2 55,15.2 57.2,16.5 59.3,17.3 61.5,18.8 63.6,20 65.7,21.6 67.9,23 70,23.6 72.1,24.9 74.3,27 76.4,27.9 78.5,29.6 80.7,30.2 82.8,31.9 84.9,33.6 87.1,34.4 89.2,36.4 91.4,37.8 93.6,38.3 95.7,39.7 97.9,41.6 100.1,43.4 102.3,44.3 104.4,45.5 106.6,47.1 108.8,48.1 111,49.7 113.1,51.3 115.3,52.7 117.5,53.8 119.6,55.2 121.8,56.6 124,58.2 126.1,59.4 128.3,60.5 130.5,62.8 132.7,63.9 134.8,65.5 137,66.5 139.2,68.7 141.4,70 143.5,70.7 145.7,72.4 147.9,74.2 150.1,75.5 152.3,77 154.4,77.8 156.6,79.4 158.8,80.6 161,81.5 163.1,83 165.3,84.6 167.5,85.8 169.7,86.8 171.9,88.1 174,88.9 176.2,90.4 178.4,92.2 180.6,93.1 182.7,94.1 184.9,95.8 187.1,97.2 189.7,98.6 192.3,99.8 194.8,101.3 197.4,102.8 200,104.6 202.4,105.6 204.9,106.7 207.3,108 209.8,108.8 212.2,110 214.7,111.9 217.2,113.4 219.6,114.3 222,115.2 224.5,116.1 226.9,117.5 229.4,119.1 231.8,120 234.3,120.8 236.8,122.3 239.2,122.7 241.6,124 244.1,125.5 246.6,126.1 249,127 251.4,127.8 253.9,129 256.4,130.5 258.8,130.5 261.2,132.2 263.7,133.2 266.1,134.2 268.6,135 271,136 273.4,136.6 275.9,137.6 278.3,138.4 280.7,139.1 283.1,141 285.5,141.7 287.9,142.4 290.4,143.8 292.8,144.8 295.2,145.7 297.6,146.8 300,148 302.5,149.3 305,150.5 307.5,151.5 310,152.3 312.5,153.7 315,154.8 317.5,156.4 320,157.9 322.5,158.5 325,159.1 327.5,159.8 330,160 332.5,161.2 335,161.7 337.5,161.8 340,162.4 342.5,163.1 345,164.5 347.5,164.7 350,165.2 352.4,166.5 354.9,166.9 357.4,167.4 359.8,168.2 362.2,169.3 364.7,169.7 367.2,170.5 369.6,171.7 372.1,172.3 374.5,173 376.9,174 379.4,174.4 381.9,175.6 384.3,176.5 386.8,177.1 389.2,177.9 391.6,179.3 394.1,179.5 396.6,179.8 399,180.9 401.4,181.7 403.9,181.5 406.4,182.1 408.8,182.8 411.2,184 413.7,184.1 416.1,185.2 418.6,185.8 421,186.3 423.4,186.6 425.9,188 428.3,188.4 430.8,188.7 433.2,189 435.6,190.1 438.1,190.4 440.6,191.2 443,191.6 445.4,192.5 447.9,192.6 450.3,193.4 452.8,194.7 455.2,195.2 457.7,195.3 460.1,196.4 462.6,196.5 465.1,197.7 467.5,198.1 470.3,198.4 473.1,198.8 475.9,199.1 478.7,200.5 481.5,200.2 484.3,201.6 487.1,202.3 489.6,202.4 492.1,202.5 494.6,203.7 497.1,204.3 499.6,204.5 502.1,204.8 504.6,205.2 507.1,205.6 509.6,206 512.1,207 514.6,207.2 517.4,207.5 520.2,208 523,209.1 525.8,209.2 528.6,209.9 531.4,210.3 534.2,211.4 537,211.9 539.8,211.4 542.6,212.1 545.4,212.7 548.2,213.8 551,214 553.8,214 556.6,214.3 559.4,215.2 562.2,215.8 564.9,216.3 567.7,216.2 570.5,217.2 573.3,217.4 576.1,217.6 578.9,218.5 581.7,218.2 584.5,219.1 587.3,218.9 590.1,219.4 592.9,220.5 595.7,220.2 598.5,221 601.3,221.2 604.1,221.8 606.9,221.7 609.7,222 612.5,222.3 615.3,223.3 618.1,223.5 620.9,224.2 623.7,224.6 626.5,224.3 629.3,225.1 632.1,225.1 634.8,225.4 637.5,225.7 640.2,226.8 642.9,227 645.5,227.4 648.2,227.2 650.9,227.8 653.6,228.3 656.2,228.1 658.9,228.6 661.5,228.5 664.2,228.6 666.8,229 669.4,229.9 672.1,229.8 674.7,230.4 677.4,230.2 680,230.3 682.5,230.9 685,231.2 687.5,230.5 690,231.3 692.5,230.9 695,231.1 697.5,232 700,231.3 702.5,231.8 705,232.8 707.5,232.4 710,232.3 712.5,232.6 715,232.9 717.5,233.7 720,233.3 722.5,234.3 725,234 727.5,234.8 730,235 732.5,234.6 735,234.8 737.5,235.2 740,235.1 742.5,236 745,235.7 747.5,236 750,237.3 752.5,237 755,237.6 757.5,237.8 760,238 762.5,238.1 765,239.2 767.5,239.6 770,240 772.5,240 775,241 777.5,242.2 780,243.5 782.5,243.9 785,244.9 787.5,245.8 790,246.3 792.5,247.9 795,249.1 797.5,250.4 800,251.6 802,254 804,257 806,258.7 808,261.2 809.2,263.7 810.4,266.6 811.6,268.7 812.8,271.2 814,273.8 814.8,276.3 815.5,279.3 816.2,281.9 817,283.8 817.8,286.3 818.5,289 819.1,291.7 819.7,294.4 820.2,296.7 820.8,299.2 821.4,302.1 822,304.6 822.4,307.6 822.8,309.6 823.2,312.1 823.7,315.1 824.1,317.3 824.5,320.3 824.8,322.5 825.2,325.4 825.5,327.2 825.8,330 826.2,332.8 826.5,334.6" fill="none" stroke="#000" stroke-opacity="0.9" stroke-width="4.2" stroke-linejoin="round"/>
<polyline points="826.5,334.6 826.5,338 826.5,339.7 826.6,342.9 826.6,345.6 826.6,348 826.6,350 826.6,352.3 826.7,355.3 826.7,358.2 826.7,360.1 826.7,363.3 826.7,365 826.8,368.3 826.8,370 826.8,372.8 826.8,375.9 826.8,378.4 826.9,381 826.9,383.5 826.9,385.9 826.9,388.4 826.9,390.4 827,393.2 827,395.5 827,398.5 827,401 827,403.2 827.1,405.5 827.1,408.9 827.1,411.3 827.1,413.6 827.1,416.1 827.2,419 827.2,421.1 827.2,423.6 827.2,426 827.2,428.5 827.3,430.8 827.3,433.9 827.3,436.3 827.3,438.9 827.3,441 827.4,443.8 827.4,446.1 827.4,448.6" fill="none" stroke="#000" stroke-opacity="0.9" stroke-width="2.4" stroke-linejoin="round"/>
<polyline points="827.4,448.6 828.6,452.1 829.9,455.9 830.3,458.1 830.7,460.6 831.2,463.4 831.6,465.6 832,467.9 832.7,471 833.3,473.5 834,476.2 834.6,478.6 835.3,481.4 835.9,484 836.6,486.1 837.2,488.9 837.9,491.4 838.5,493.7 839.5,496.6 840.6,499.4 841.7,502.4 842.7,505.1 844.5,506.6 846.3,509.1 848.1,510.6 851.3,509.6 853.4,507.5 855.6,505.4 857.7,502.3 859.5,501.1 861.3,499.4 863,497.1 864.8,495.7 866.6,494 868.4,491.8 870.5,490.2 872.6,488.4 874.8,486.4 876.9,484.8 879.5,483.3 882,481.9 884.6,480 887.1,478.1 889.7,476.7 892.3,475.8 894.9,475.2 897.4,474.6 900,473 902.6,472.8 905.1,471.9 907.6,470.7 910,470 912.5,468.7 915,468.4 917.5,466.8 920,467.1 922.5,466.2 925,465.3 927.5,464.2 930,464.1 932.5,463.5 935,462.1 937.5,462.3 940,461.8 942.5,461.2 945,460.7 947.5,459.9 950,459.9 952.6,459.4 955.1,458.2 957.7,458 960.3,457 962.8,456.2 965.4,455.7 968,454.9 970.5,455.1 973.1,454.6 975.8,453.5 978.5,453.7 981.2,453.2 983.9,452.7 986.6,452.6 989.3,452.2 989.9,455.3 990.5,457.2 991,459.9 991.6,462.8 992.2,464.9 992.8,468.1 996.3,470.4 997.8,468.3 999.4,465.3 1000.9,463.1 1001.1,460.7" fill="none" stroke="#000" stroke-opacity="0.9" stroke-width="4.2" stroke-linejoin="round"/>
<polyline points="1001.1,460.7 1001.4,457.8" fill="none" stroke="#000" stroke-opacity="0.9" stroke-width="2.4" stroke-linejoin="round"/>
<polyline points="1001.4,457.8 1001.6,455.4" fill="none" stroke="#000" stroke-opacity="0.9" stroke-width="4.2" stroke-linejoin="round"/>
<polyline points="1001.6,455.4 1001.8,452.4" fill="none" stroke="#000" stroke-opacity="0.9" stroke-width="2.4" stroke-linejoin="round"/>
<polyline points="1001.8,452.4 1002,450.2 1002.3,447.6 1002.5,445 1002.7,442.5" fill="none" stroke="#000" stroke-opacity="0.9" stroke-width="4.2" stroke-linejoin="round"/>
<polyline points="1002.7,442.5 1003,439.4" fill="none" stroke="#000" stroke-opacity="0.9" stroke-width="2.4" stroke-linejoin="round"/>
<polyline points="1003,439.4 1003.2,436.7" fill="none" stroke="#000" stroke-opacity="0.9" stroke-width="4.2" stroke-linejoin="round"/>
<polyline points="1003.2,436.7 1003.4,439.6 1003.6,442" fill="none" stroke="#000" stroke-opacity="0.9" stroke-width="2.4" stroke-linejoin="round"/>
<polyline points="1003.6,442 1003.8,444.3 1004,446.6" fill="none" stroke="#000" stroke-opacity="0.9" stroke-width="4.2" stroke-linejoin="round"/>
<polyline points="1004,446.6 1004.2,449.1" fill="none" stroke="#000" stroke-opacity="0.9" stroke-width="2.4" stroke-linejoin="round"/>
<polyline points="1004.2,449.1 1004.4,451.4 1006.9,451.9 1009.4,451 1011.9,451.4 1014.4,451 1016.9,451.2 1019.4,450.8 1022,450.6 1024.5,449.4 1027.1,449.4 1029.7,449.1 1032.2,448.5 1034.8,448.3 1037.4,447.8 1039.9,447.6 1042.5,446.7 1045,446.9 1047.5,446.6 1050,446.1 1052.5,445.9 1055,446 1057.5,445.6 1060,445.2 1062.5,445 1065,444.5 1067.5,444 1070,443.5 1072.6,443.4 1075.1,443.3 1077.7,443.1 1080.3,442.6 1082.8,441.9 1085.4,442 1088,441 1090.5,441 1093.1,440.1 1095.7,439.9 1098.3,439.7 1100.8,438.5 1103.4,437.8 1106,437.8 1108.6,437.2 1111.1,436.5 1113.7,435.6 1116.3,435.5 1118.9,435.1 1121.5,434.6 1124.1,434.6 1126.7,433.9 1129.3,433.6 1131.9,433.4 1134.5,432.8 1137.1,432.1" fill="none" stroke="#000" stroke-opacity="0.9" stroke-width="4.2" stroke-linejoin="round"/>
<polyline points="1137.1,432.1 1137.3,434.9 1137.5,437.4 1137.7,440 1137.9,442.6 1138.1,445 1138.2,447.8 1138.4,450.4 1138.6,453.3 1138.8,455.8 1139,458.4 1139.2,461 1139.4,463.6" fill="none" stroke="#000" stroke-opacity="0.9" stroke-width="2.4" stroke-linejoin="round"/>
<polyline points="1139.4,463.6 1141.9,463.4 1144.4,463.2 1146.9,463.1 1149.4,463.6 1151.9,463.8 1154.4,463.5 1156.9,463.1 1159.4,463.8 1161.9,463.5 1164.4,463.5 1166.9,463.1 1169.5,463.6 1172,463.8 1174.5,463.5 1177,463.5 1179.5,463.8 1182,463.2 1184.5,463.7 1187,464.2 1189.5,463.9 1192,463.7 1194.5,464 1197,463.9" fill="none" stroke="#000" stroke-opacity="0.9" stroke-width="4.2" stroke-linejoin="round"/>
<polygon points="52.9,10.6 55,13.1 57.2,13.8 59.3,15 61.5,17.3 63.6,18.5 65.7,19.6 67.9,21.5 70,21.6 72.1,23.5 74.3,25.3 76.4,25.5 78.5,27.8 80.7,28.2 82.8,30.1 84.9,31.2 87.1,32.8 89.2,34 91.4,35.6 93.6,36 95.7,37.5 97.9,39.2 100.1,41.9 102.3,42.6 104.4,42.9 106.6,45.3 108.8,45.6 111,48 113.1,49.2 115.3,50.9 117.5,52.4 119.6,53.8 121.8,55 124,56 126.1,56.9 128.3,58.8 130.5,60.9 132.7,62.7 134.8,64.2 137,64.1 139.2,66.7 141.4,68.5 143.5,68.7 145.7,71.2 147.9,71.5 150.1,73.5 152.3,75.6 154.4,76.6 156.6,77.6 158.8,78.3 161,79.7 163.1,80.8 165.3,83 167.5,83.7 169.7,84.4 171.9,86.4 174,87.4 176.2,88.4 178.4,90.4 180.6,91.3 182.7,92.3 184.9,93.1 187.1,95.1 189.7,97.3 192.3,97.9 194.8,99.9 197.4,101.7 200,101.9 202.4,104 204.9,104.8 207.3,105.3 209.8,106.4 212.2,108.1 214.7,110 217.2,112.1 219.6,112.2 222,113.8 224.5,114 226.9,116.3 229.4,117.9 231.8,117.5 234.3,119.4 236.8,119.7 239.2,120.6 241.6,122.7 244.1,123.4 246.6,123.4 249,124.3 251.4,126.6 253.9,127.7 256.4,129.3 258.8,128.4 261.2,130 263.7,131.6 266.1,131.6 268.6,133.2 271,133.5 273.4,134.2 275.9,136.1 278.3,136.1 280.7,138 283.1,139.4 285.5,140 287.9,140.8 290.4,141.5 292.8,143.7 295.2,143.1 297.6,145.5 300,146.2 302.5,147.6 305,148.7 307.5,149.4 310,149.8 312.5,151.5 315,153.1 317.5,154.2 320,156.4 322.5,156.9 325,156.5 327.5,157.3 330,158.6 332.5,159.4 335,159.2 337.5,160 340,160.6 342.5,161.5 345,162.6 347.5,163.5 350,162.5 352.4,165.2 354.9,165.4 357.4,165.3 359.8,165.7 362.2,166.8 364.7,168.1 367.2,168.9 369.6,169.9 372.1,169.7 374.5,170.5 376.9,172.1 379.4,171.9 381.9,173.4 384.3,173.9 386.8,174.8 389.2,176.1 391.6,177.9 394.1,176.9 396.6,177.6 399,178.7 401.4,179.3 403.9,179.4 406.4,179.4 408.8,180.4 411.2,181.8 413.7,182.8 416.1,183 418.6,184.2 421,184.8 423.4,185 425.9,186 428.3,186.2 430.8,186.9 433.2,186.9 435.6,187.9 438.1,188.3 440.6,188.6 443,189.9 445.4,190.5 447.9,190 450.3,191.3 452.8,192.1 455.2,193.3 457.7,193.4 460.1,195.3 462.6,194 465.1,195.9 467.5,196.7 470.3,196.1 473.1,196.8 475.9,197.3 478.7,198 481.5,198.2 484.3,200.3 487.1,201 489.6,201.1 492.1,199.8 494.6,202 497.1,202.8 499.6,202.3 502.1,202.5 504.6,203.6 507.1,203.5 509.6,204.8 512.1,204.8 514.6,205.9 517.4,205.9 520.2,205.9 523,207.5 525.8,208 528.6,208.4 531.4,208 534.2,208.9 537,210.1 539.8,209.9 542.6,210.4 545.4,210.3 548.2,212.1 551,212.5 553.8,212 556.6,212.8 559.4,213.6 562.2,214.7 564.9,213.7 567.7,215 570.5,215.6 573.3,214.9 576.1,215.2 578.9,216.4 581.7,216.5 584.5,217.3 587.3,216.8 590.1,218 592.9,218.7 595.7,218.4 598.5,219.5 601.3,219.9 604.1,219.4 606.9,219.1 609.7,220.1 612.5,220.9 615.3,222 618.1,221.6 620.9,221.8 623.7,222.9 626.5,222.9 629.3,223.6 632.1,222.7 634.8,222.7 637.5,223.7 640.2,224.5 642.9,224.9 645.5,225.9 648.2,225.7 650.9,226 653.6,227 656.2,226.6 658.9,226.1 661.5,226.4 664.2,226.4 666.8,227.9 669.4,227.9 672.1,227.5 674.7,229.1 677.4,229 680,228.2 682.5,228.7 685,229 687.5,227.9 690,229.7 692.5,228.2 695,230 697.5,230.6 700,229.3 702.5,230 705,231.4 707.5,229.9 710,230.7 712.5,231.3 715,231.1 717.5,232.4 720,230.9 722.5,231.6 725,231.7 727.5,233.7 730,232.8 732.5,232.4 735,232.2 737.5,233.2 740,232.8 742.5,234.1 745,233.1 747.5,233.5 750,234.6 752.5,235.8 755,236.1 757.5,235.4 760,235.8 762.5,235.7 765,237.3 767.5,237.8 770,238.4 772.5,238.3 775,238.3 777.5,240.5 780,240.8 782.5,241.9 785,242.3 787.5,243.7 790,243.8 792.5,246.3 795,247 797.5,248.9 800,249 802,251.7 804,255.1 806,256.8 808,258.6 809.2,262 810.4,264.8 811.6,267.3 812.8,270.1 814,272.4 814.8,274.1 815.5,277.7 816.2,279.9 817,281.2 817.8,284.6 818.5,286.8 819.1,289.4 819.7,292.7 820.2,294.4 820.8,298 821.4,300.8 822,302.2 822.4,306.4 822.8,307.2 823.2,310.4 823.7,313.9 824.1,315.1 824.5,318.8 824.8,320.6 825.2,323 825.5,325.8 825.8,328.1 826.2,331.3 826.5,333.3 826.5,335.9 826.5,338.6 826.6,341.4 826.6,344.1 826.6,346.2 826.6,348.6 826.6,349.8 826.7,352.8 826.7,356.8 826.7,358.9 826.7,361.7 826.7,363.7 826.8,367.1 826.8,368.8 826.8,371.6 826.8,373.9 826.8,375.7 826.9,378.9 826.9,382.1 826.9,384.2 826.9,385.9 826.9,388.1 827,391.1 827,392.8 827,397 827,399.1 827,402 827.1,404 827.1,406.9 827.1,408.9 827.1,411.8 827.1,415 827.2,417.5 827.2,418.7 827.2,421.1 827.2,423.6 827.2,426.6 827.3,428.2 827.3,432.7 827.3,434.3 827.3,437.1 827.3,439.3 827.4,441.7 827.4,444.4 827.4,446 828.6,450.9 829.9,454.8 830.3,456.9 830.7,458.7 831.2,460.8 831.6,463 832,466.1 832.7,468.9 833.3,471.7 834,474.8 834.6,477.4 835.3,479.8 835.9,482.5 836.6,484.3 837.2,487.1 837.9,489.3 838.5,491.5 839.5,495.4 840.6,497.9 841.7,500.8 842.7,502.5 844.5,505.2 846.3,506.9 848.1,508.5 851.3,507.5 853.4,506.1 855.6,503.1 857.7,500.5 859.5,498.6 861.3,498 863,494.8 864.8,494.3 866.6,491.9 868.4,490 870.5,487.7 872.6,486.3 874.8,483.9 876.9,482.6 879.5,481.5 882,479.5 884.6,478.3 887.1,475.9 889.7,474.8 892.3,473.5 894.9,473.6 897.4,472.9 900,471.4 902.6,471.4 905.1,469.8 907.6,469.8 910,468 912.5,466.4 915,467.3 917.5,465.9 920,465.5 922.5,465.5 925,463.9 927.5,462.3 930,461.9 932.5,462.3 935,461 937.5,461.5 940,460 942.5,460.5 945,459.8 947.5,458.4 950,458.2 952.6,457.4 955.1,456.9 957.7,456.5 960.3,456.1 962.8,454.1 965.4,454.3 968,453.5 970.5,452.9 973.1,452.3 975.8,452.2 978.5,452.8 981.2,451.7 983.9,450.5 986.6,451.8 989.3,450.5 989.9,453.6 990.5,455.3 991,458.1 991.6,461.5 992.2,463.4 992.8,466.9 996.3,469.1 997.8,467.1 999.4,463.5 1000.9,462.1 1001.1,458.4 1001.4,456 1001.6,454 1001.8,451.6 1002,449.2 1002.3,446.9 1002.5,442.7 1002.7,440.8 1003,438.4 1003.2,435.3 1003.4,438.3 1003.6,441.3 1003.8,443.3 1004,444.7 1004.2,446.9 1004.4,450 1006.9,450.9 1009.4,449.2 1011.9,450.5 1014.4,449 1016.9,449 1019.4,448.9 1022,448.4 1024.5,448.2 1027.1,448.2 1029.7,447.5 1032.2,447.5 1034.8,447.1 1037.4,445.5 1039.9,445.9 1042.5,444.7 1045,444.9 1047.5,444.7 1050,444.3 1052.5,444.7 1055,445.3 1057.5,443.8 1060,443.7 1062.5,443.6 1065,442.9 1067.5,442.4 1070,441.8 1072.6,441.9 1075.1,442.3 1077.7,441 1080.3,440.4 1082.8,440 1085.4,440.7 1088,438.9 1090.5,439.5 1093.1,438.5 1095.7,437.9 1098.3,438.5 1100.8,437.4 1103.4,437 1106,436.3 1108.6,435.9 1111.1,435 1113.7,434.9 1116.3,433.7 1118.9,433.3 1121.5,433.2 1124.1,433.3 1126.7,431.7 1129.3,431.8 1131.9,432.2 1134.5,431.8 1137.1,430.5 1137.3,433 1137.5,435.8 1137.7,439.1 1137.9,441.4 1138.1,443.2 1138.2,446.1 1138.4,449 1138.6,451.7 1138.8,453.5 1139,457.6 1139.2,458.8 1139.4,462.5 1141.9,461.6 1144.4,461.4 1146.9,461.4 1149.4,461.3 1151.9,461.7 1154.4,461.7 1156.9,461 1159.4,461.6 1161.9,461.2 1164.4,461.7 1166.9,461.9 1169.5,461.3 1172,462.8 1174.5,462.5 1177,461.4 1179.5,462.3 1182,461.3 1184.5,462.9 1187,461.9 1189.5,462.4 1192,461.6 1194.5,462.9 1197,461.9 1197,465.9 1194.5,466 1192,464.5 1189.5,465.1 1187,466.4 1184.5,465.7 1182,465.1 1179.5,466 1177,465.2 1174.5,465.4 1172,465.6 1169.5,465.2 1166.9,464.8 1164.4,465.1 1161.9,464.7 1159.4,465.3 1156.9,463.8 1154.4,464.8 1151.9,465.5 1149.4,464.3 1146.9,464 1144.4,465.4 1141.9,464.4 1139.4,465.3 1139.2,462 1139,460.2 1138.8,457.1 1138.6,455.2 1138.4,451.7 1138.2,449.9 1138.1,445.8 1137.9,444.5 1137.7,441.5 1137.5,438.2 1137.3,436.7 1137.1,433.3 1134.5,434.4 1131.9,435 1129.3,434.5 1126.7,435.3 1124.1,435.6 1121.5,436.8 1118.9,436.4 1116.3,436.6 1113.7,437.5 1111.1,437.8 1108.6,438.6 1106,438.7 1103.4,440.1 1100.8,439.5 1098.3,440.5 1095.7,441.8 1093.1,441.5 1090.5,442.8 1088,442.9 1085.4,442.9 1082.8,443 1080.3,444.6 1077.7,444.9 1075.1,444.2 1072.6,444.4 1070,444.7 1067.5,445.8 1065,445.4 1062.5,446 1060,446.5 1057.5,447 1055,446.9 1052.5,447.8 1050,448 1047.5,447.6 1045,448.7 1042.5,447.5 1039.9,449.4 1037.4,448.9 1034.8,450.1 1032.2,449.5 1029.7,451.2 1027.1,451 1024.5,450.3 1022,452.3 1019.4,451.5 1016.9,452.1 1014.4,453.2 1011.9,453.1 1009.4,452.1 1006.9,452.8 1004.4,452.4 1004.2,449.8 1004,448.7 1003.8,445.8 1003.6,443.7 1003.4,440.8 1003.2,438.4 1003,440.4 1002.7,444.7 1002.5,446.9 1002.3,448.4 1002,451.4 1001.8,453.6 1001.6,456.6 1001.4,460 1001.1,462 1000.9,463.8 999.4,466 997.8,469.1 996.3,471.6 992.8,469.4 992.2,467 991.6,463.5 991,461.1 990.5,458 989.9,457 989.3,453.3 986.6,454 983.9,454.8 981.2,454.9 978.5,455.3 975.8,454.3 973.1,455.5 970.5,456.9 968,456.3 965.4,457 962.8,457.8 960.3,459 957.7,459.9 955.1,459.5 952.6,460.6 950,462.1 947.5,460.8 945,462.2 942.5,462.4 940,463.9 937.5,464.1 935,463.4 932.5,465.6 930,465 927.5,465.8 925,466.7 922.5,467.3 920,468.6 917.5,468.6 915,469.3 912.5,469.7 910,471.8 907.6,472.4 905.1,473 902.6,473.8 900,473.9 897.4,475.9 894.9,476.6 892.3,478 889.7,478.2 887.1,480.3 884.6,480.9 882,483 879.5,484.7 876.9,486.6 874.8,487.8 872.6,490.1 870.5,491.3 868.4,493.6 866.6,495.6 864.8,497.9 863,498.4 861.3,500.5 859.5,502.6 857.7,503.6 855.6,507.5 853.4,509.2 851.3,512.2 848.1,512.6 846.3,510.9 844.5,508.9 842.7,507.8 841.7,504.1 840.6,500.8 839.5,498.5 838.5,496.3 837.9,493.3 837.2,490.8 836.6,487.4 835.9,485.7 835.3,483.2 834.6,479.8 834,477.5 833.3,475.1 832.7,473.4 832,469.7 831.6,467.7 831.2,464.8 830.7,462.7 830.3,459.5 829.9,457.3 828.6,453.9 827.4,450.9 827.4,448.4 827.4,445.7 827.3,443.1 827.3,440.2 827.3,437.9 827.3,436 827.3,432.7 827.2,430.6 827.2,428.4 827.2,425.3 827.2,423.2 827.2,421.5 827.1,417.5 827.1,415.2 827.1,412.8 827.1,410.9 827.1,407.6 827,404.3 827,402.9 827,400.1 827,398 827,395.1 826.9,392.4 826.9,390.7 826.9,387.5 826.9,385.5 826.9,383.6 826.8,380.7 826.8,377.9 826.8,375.2 826.8,371.7 826.8,369.7 826.7,366.5 826.7,365.9 826.7,362.4 826.7,359.5 826.7,356.5 826.6,354.8 826.6,352.1 826.6,349.9 826.6,347.7 826.6,345.1 826.5,341.6 826.5,339.8 826.5,336.1 826.2,335.3 825.8,331.1 825.5,328.5 825.2,327.7 824.8,323.8 824.5,322.1 824.1,319.5 823.7,316.4 823.2,314.1 822.8,311.7 822.4,310 822,306.9 821.4,304.5 820.8,300.9 820.2,298.6 819.7,296.6 819.1,294.3 818.5,291.2 817.8,288.1 817,286.4 816.2,283.8 815.5,281.5 814.8,278.1 814,276.3 812.8,272.4 811.6,270.9 810.4,268.2 809.2,265 808,262.7 806,261.2 804,259 802,255.2 800,253.1 797.5,251.8 795,250.6 792.5,249.1 790,248.3 787.5,247.5 785,247.2 782.5,245.2 780,245.3 777.5,243.8 775,242.4 772.5,241.4 770,242.6 767.5,242.3 765,241.2 762.5,239.2 760,240.6 757.5,239.1 755,239.6 752.5,238.5 750,239.7 747.5,238.5 745,237 742.5,237.2 740,236.4 737.5,237.8 735,237 732.5,236.9 730,237.6 727.5,236.7 725,236.4 722.5,236.2 720,234.5 717.5,236.2 715,234.3 712.5,233.9 710,234.2 707.5,234.8 705,234.3 702.5,233 700,232.8 697.5,234.1 695,232.7 692.5,232.8 690,233.8 687.5,232.8 685,232.7 682.5,233.4 680,231.7 677.4,231.3 674.7,232.3 672.1,231.2 669.4,231.3 666.8,230.5 664.2,230.4 661.5,230.2 658.9,229.8 656.2,229.7 653.6,230.2 650.9,229.4 648.2,229.5 645.5,229.8 642.9,228.2 640.2,228.9 637.5,228 634.8,226.9 632.1,226.9 629.3,227.4 626.5,226.1 623.7,227.3 620.9,225.3 618.1,225.4 615.3,225.8 612.5,224.4 609.7,223.8 606.9,223.5 604.1,223.2 601.3,223.2 598.5,222.7 595.7,222.2 592.9,222.8 590.1,221.5 587.3,220.9 584.5,221.3 581.7,220.3 578.9,220 576.1,219.5 573.3,219.7 570.5,218.6 567.7,218.3 564.9,218.2 562.2,217.3 559.4,217.8 556.6,216.2 553.8,215.5 551,216.3 548.2,215.5 545.4,213.8 542.6,213.9 539.8,214.1 537,213.9 534.2,212.7 531.4,212 528.6,211.2 525.8,210.9 523,211.1 520.2,209.2 517.4,208.6 514.6,209.6 512.1,209.5 509.6,207.5 507.1,208.2 504.6,206.7 502.1,207.4 499.6,205.9 497.1,206 494.6,205.7 492.1,204.6 489.6,204.2 487.1,203.6 484.3,203.1 481.5,201.4 478.7,203.1 475.9,201.7 473.1,200.2 470.3,199.8 467.5,199.9 465.1,200 462.6,197.7 460.1,199 457.7,197 455.2,197.5 452.8,195.8 450.3,195.9 447.9,194.2 445.4,194.2 443,193.9 440.6,193 438.1,192.8 435.6,191.9 433.2,190.9 430.8,190.6 428.3,191.1 425.9,189.6 423.4,189.2 421,188.7 418.6,187.3 416.1,187.1 413.7,186 411.2,185.5 408.8,185.2 406.4,184.2 403.9,183 401.4,182.9 399,183.4 396.6,181.2 394.1,181.9 391.6,181.3 389.2,179.3 386.8,179.6 384.3,178.6 381.9,178 379.4,176.7 376.9,176 374.5,174.2 372.1,174.8 369.6,173.5 367.2,172.6 364.7,171.9 362.2,172 359.8,170.1 357.4,169.2 354.9,169.2 352.4,168.7 350,166.6 347.5,166.6 345,165.7 342.5,165 340,163.9 337.5,163.4 335,164.2 332.5,163.7 330,162 327.5,162.1 325,161.2 322.5,160.1 320,159.8 317.5,159.1 315,156.2 312.5,156.3 310,154 307.5,153.1 305,152.6 302.5,151.5 300,150.5 297.6,148.1 295.2,147.8 292.8,147.2 290.4,145 287.9,144.1 285.5,143.7 283.1,142.9 280.7,141.4 278.3,139.7 275.9,139.8 273.4,139.2 271,137.2 268.6,136.8 266.1,136.1 263.7,134.5 261.2,133.5 258.8,132.3 256.4,132.4 253.9,131.5 251.4,129.4 249,128.9 246.6,127.6 244.1,126.7 241.6,125.3 239.2,124.5 236.8,123.5 234.3,123.5 231.8,121.5 229.4,121.6 226.9,118.8 224.5,118.4 222,117.9 219.6,115.9 217.2,115.6 214.7,114.1 212.2,111.7 209.8,111.1 207.3,110.5 204.9,108.4 202.4,107.7 200,106.4 197.4,104 194.8,102.6 192.3,101.9 189.7,101 187.1,98.4 184.9,98 182.7,95.3 180.6,95.6 178.4,93.4 176.2,92.7 174,90.3 171.9,90.7 169.7,89 167.5,88.5 165.3,86 163.1,84.3 161,84.1 158.8,83.1 156.6,81.7 154.4,80.4 152.3,79 150.1,78 147.9,76.4 145.7,74.8 143.5,72.3 141.4,72.5 139.2,70.8 137,68 134.8,67.7 132.7,65.6 130.5,64.4 128.3,62.6 126.1,61.1 124,60.7 121.8,58.7 119.6,57.2 117.5,56.2 115.3,54.3 113.1,53.4 111,51.9 108.8,50.8 106.6,49.4 104.4,47.9 102.3,45.8 100.1,45.1 97.9,43.4 95.7,41 93.6,39.8 91.4,39.5 89.2,38 87.1,36.8 84.9,36.2 82.8,33.2 80.7,32 78.5,31 76.4,29.9 74.3,28.2 72.1,26.8 70,25.6 67.9,25.6 65.7,23.1 63.6,22.1 61.5,20.9 59.3,18.4 57.2,19.1 55,16.6 52.9,14.4" fill="#1414dc"/>
<polyline points="52.9,13.2 55,15.2 57.2,16.5 59.3,17.3 61.5,18.8 63.6,20 65.7,21.6 67.9,23 70,23.6 72.1,24.9 74.3,27 76.4,27.9 78.5,29.6 80.7,30.2 82.8,31.9 84.9,33.6 87.1,34.4 89.2,36.4 91.4,37.8 93.6,38.3 95.7,39.7 97.9,41.6 100.1,43.4 102.3,44.3 104.4,45.5 106.6,47.1 108.8,48.1 111,49.7 113.1,51.3 115.3,52.7 117.5,53.8 119.6,55.2 121.8,56.6 124,58.2 126.1,59.4 128.3,60.5 130.5,62.8 132.7,63.9 134.8,65.5 137,66.5 139.2,68.7 141.4,70 143.5,70.7 145.7,72.4 147.9,74.2 150.1,75.5 152.3,77 154.4,77.8 156.6,79.4 158.8,80.6 161,81.5 163.1,83 165.3,84.6 167.5,85.8 169.7,86.8 171.9,88.1 174,88.9 176.2,90.4 178.4,92.2 180.6,93.1 182.7,94.1 184.9,95.8 187.1,97.2 189.7,98.6 192.3,99.8 194.8,101.3 197.4,102.8 200,104.6 202.4,105.6 204.9,106.7 207.3,108 209.8,108.8 212.2,110 214.7,111.9 217.2,113.4 219.6,114.3 222,115.2 224.5,116.1 226.9,117.5 229.4,119.1 231.8,120 234.3,120.8 236.8,122.3 239.2,122.7 241.6,124 244.1,125.5 246.6,126.1 249,127 251.4,127.8 253.9,129 256.4,130.5 258.8,130.5 261.2,132.2 263.7,133.2 266.1,134.2 268.6,135 271,136 273.4,136.6 275.9,137.6 278.3,138.4 280.7,139.1 283.1,141 285.5,141.7 287.9,142.4 290.4,143.8 292.8,144.8 295.2,145.7 297.6,146.8 300,148 302.5,149.3 305,150.5 307.5,151.5 310,152.3 312.5,153.7 315,154.8 317.5,156.4 320,157.9 322.5,158.5 325,159.1 327.5,159.8 330,160 332.5,161.2 335,161.7 337.5,161.8 340,162.4 342.5,163.1 345,164.5 347.5,164.7 350,165.2 352.4,166.5 354.9,166.9 357.4,167.4 359.8,168.2 362.2,169.3 364.7,169.7 367.2,170.5 369.6,171.7 372.1,172.3 374.5,173 376.9,174 379.4,174.4 381.9,175.6 384.3,176.5 386.8,177.1 389.2,177.9 391.6,179.3 394.1,179.5 396.6,179.8 399,180.9 401.4,181.7 403.9,181.5 406.4,182.1 408.8,182.8 411.2,184 413.7,184.1 416.1,185.2 418.6,185.8 421,186.3 423.4,186.6 425.9,188 428.3,188.4 430.8,188.7 433.2,189 435.6,190.1 438.1,190.4 440.6,191.2 443,191.6 445.4,192.5 447.9,192.6 450.3,193.4 452.8,194.7 455.2,195.2 457.7,195.3 460.1,196.4 462.6,196.5 465.1,197.7 467.5,198.1 470.3,198.4 473.1,198.8 475.9,199.1 478.7,200.5 481.5,200.2 484.3,201.6 487.1,202.3 489.6,202.4 492.1,202.5 494.6,203.7 497.1,204.3 499.6,204.5 502.1,204.8 504.6,205.2 507.1,205.6 509.6,206 512.1,207 514.6,207.2 517.4,207.5 520.2,208 523,209.1 525.8,209.2 528.6,209.9 531.4,210.3 534.2,211.4 537,211.9 539.8,211.4 542.6,212.1 545.4,212.7 548.2,213.8 551,214 553.8,214 556.6,214.3 559.4,215.2 562.2,215.8 564.9,216.3 567.7,216.2 570.5,217.2 573.3,217.4 576.1,217.6 578.9,218.5 581.7,218.2 584.5,219.1 587.3,218.9 590.1,219.4 592.9,220.5 595.7,220.2 598.5,221 601.3,221.2 604.1,221.8 606.9,221.7 609.7,222 612.5,222.3 615.3,223.3 618.1,223.5 620.9,224.2 623.7,224.6 626.5,224.3 629.3,225.1 632.1,225.1 634.8,225.4 637.5,225.7 640.2,226.8 642.9,227 645.5,227.4 648.2,227.2 650.9,227.8 653.6,228.3 656.2,228.1 658.9,228.6 661.5,228.5 664.2,228.6 666.8,229 669.4,229.9 672.1,229.8 674.7,230.4 677.4,230.2 680,230.3 682.5,230.9 685,231.2 687.5,230.5 690,231.3 692.5,230.9 695,231.1 697.5,232 700,231.3 702.5,231.8 705,232.8 707.5,232.4 710,232.3 712.5,232.6 715,232.9 717.5,233.7 720,233.3 722.5,234.3 725,234 727.5,234.8 730,235 732.5,234.6 735,234.8 737.5,235.2 740,235.1 742.5,236 745,235.7 747.5,236 750,237.3 752.5,237 755,237.6 757.5,237.8 760,238 762.5,238.1 765,239.2 767.5,239.6 770,240 772.5,240 775,241 777.5,242.2 780,243.5 782.5,243.9 785,244.9 787.5,245.8 790,246.3 792.5,247.9 795,249.1 797.5,250.4 800,251.6 802,254 804,257 806,258.7 808,261.2 809.2,263.7 810.4,266.6 811.6,268.7 812.8,271.2 814,273.8 814.8,276.3 815.5,279.3 816.2,281.9 817,283.8 817.8,286.3 818.5,289 819.1,291.7 819.7,294.4 820.2,296.7 820.8,299.2 821.4,302.1 822,304.6 822.4,307.6 822.8,309.6 823.2,312.1 823.7,315.1 824.1,317.3 824.5,320.3 824.8,322.5 825.2,325.4 825.5,327.2 825.8,330 826.2,332.8 826.5,334.6" fill="none" stroke="#1414dc" stroke-width="2.2" stroke-linejoin="round"/>
<polyline points="826.5,334.6 826.5,338 826.5,339.7 826.6,342.9 826.6,345.6 826.6,348 826.6,350 826.6,352.3 826.7,355.3 826.7,358.2 826.7,360.1 826.7,363.3 826.7,365 826.8,368.3 826.8,370 826.8,372.8 826.8,375.9 826.8,378.4 826.9,381 826.9,383.5 826.9,385.9 826.9,388.4 826.9,390.4 827,393.2 827,395.5 827,398.5 827,401 827,403.2 827.1,405.5 827.1,408.9 827.1,411.3 827.1,413.6 827.1,416.1 827.2,419 827.2,421.1 827.2,423.6 827.2,426 827.2,428.5 827.3,430.8 827.3,433.9 827.3,436.3 827.3,438.9 827.3,441 827.4,443.8 827.4,446.1 827.4,448.6" fill="none" stroke="#1414dc" stroke-width="0.9" stroke-linejoin="round"/>
<polyline points="827.4,448.6 828.6,452.1 829.9,455.9 830.3,458.1 830.7,460.6 831.2,463.4 831.6,465.6 832,467.9 832.7,471 833.3,473.5 834,476.2 834.6,478.6 835.3,481.4 835.9,484 836.6,486.1 837.2,488.9 837.9,491.4 838.5,493.7 839.5,496.6 840.6,499.4 841.7,502.4 842.7,505.1 844.5,506.6 846.3,509.1 848.1,510.6 851.3,509.6 853.4,507.5 855.6,505.4 857.7,502.3 859.5,501.1 861.3,499.4 863,497.1 864.8,495.7 866.6,494 868.4,491.8 870.5,490.2 872.6,488.4 874.8,486.4 876.9,484.8 879.5,483.3 882,481.9 884.6,480 887.1,478.1 889.7,476.7 892.3,475.8 894.9,475.2 897.4,474.6 900,473 902.6,472.8 905.1,471.9 907.6,470.7 910,470 912.5,468.7 915,468.4 917.5,466.8 920,467.1 922.5,466.2 925,465.3 927.5,464.2 930,464.1 932.5,463.5 935,462.1 937.5,462.3 940,461.8 942.5,461.2 945,460.7 947.5,459.9 950,459.9 952.6,459.4 955.1,458.2 957.7,458 960.3,457 962.8,456.2 965.4,455.7 968,454.9 970.5,455.1 973.1,454.6 975.8,453.5 978.5,453.7 981.2,453.2 983.9,452.7 986.6,452.6 989.3,452.2 989.9,455.3 990.5,457.2 991,459.9 991.6,462.8 992.2,464.9 992.8,468.1 996.3,470.4 997.8,468.3 999.4,465.3 1000.9,463.1 1001.1,460.7" fill="none" stroke="#1414dc" stroke-width="2.2" stroke-linejoin="round"/>
<polyline points="1001.1,460.7 1001.4,457.8" fill="none" stroke="#1414dc" stroke-width="0.9" stroke-linejoin="round"/>
<polyline points="1001.4,457.8 1001.6,455.4" fill="none" stroke="#1414dc" stroke-width="2.2" stroke-linejoin="round"/>
<polyline points="1001.6,455.4 1001.8,452.4" fill="none" stroke="#1414dc" stroke-width="0.9" stroke-linejoin="round"/>
<polyline points="1001.8,452.4 1002,450.2 1002.3,447.6 1002.5,445 1002.7,442.5" fill="none" stroke="#1414dc" stroke-width="2.2" stroke-linejoin="round"/>
<polyline points="1002.7,442.5 1003,439.4" fill="none" stroke="#1414dc" stroke-width="0.9" stroke-linejoin="round"/>
<polyline points="1003,439.4 1003.2,436.7" fill="none" stroke="#1414dc" stroke-width="2.2" stroke-linejoin="round"/>
<polyline points="1003.2,436.7 1003.4,439.6 1003.6,442" fill="none" stroke="#1414dc" stroke-width="0.9" stroke-linejoin="round"/>
<polyline points="1003.6,442 1003.8,444.3 1004,446.6" fill="none" stroke="#1414dc" stroke-width="2.2" stroke-linejoin="round"/>
<polyline points="1004,446.6 1004.2,449.1" fill="none" stroke="#1414dc" stroke-width="0.9" stroke-linejoin="round"/>
<polyline points="1004.2,449.1 1004.4,451.4 1006.9,451.9 1009.4,451 1011.9,451.4 1014.4,451 1016.9,451.2 1019.4,450.8 1022,450.6 1024.5,449.4 1027.1,449.4 1029.7,449.1 1032.2,448.5 1034.8,448.3 1037.4,447.8 1039.9,447.6 1042.5,446.7 1045,446.9 1047.5,446.6 1050,446.1 1052.5,445.9 1055,446 1057.5,445.6 1060,445.2 1062.5,445 1065,444.5 1067.5,444 1070,443.5 1072.6,443.4 1075.1,443.3 1077.7,443.1 1080.3,442.6 1082.8,441.9 1085.4,442 1088,441 1090.5,441 1093.1,440.1 1095.7,439.9 1098.3,439.7 1100.8,438.5 1103.4,437.8 1106,437.8 1108.6,437.2 1111.1,436.5 1113.7,435.6 1116.3,435.5 1118.9,435.1 1121.5,434.6 1124.1,434.6 1126.7,433.9 1129.3,433.6 1131.9,433.4 1134.5,432.8 1137.1,432.1" fill="none" stroke="#1414dc" stroke-width="2.2" stroke-linejoin="round"/>
<polyline points="1137.1,432.1 1137.3,434.9 1137.5,437.4 1137.7,440 1137.9,442.6 1138.1,445 1138.2,447.8 1138.4,450.4 1138.6,453.3 1138.8,455.8 1139,458.4 1139.2,461 1139.4,463.6" fill="none" stroke="#1414dc" stroke-width="0.9" stroke-linejoin="round"/>
<polyline points="1139.4,463.6 1141.9,463.4 1144.4,463.2 1146.9,463.1 1149.4,463.6 1151.9,463.8 1154.4,463.5 1156.9,463.1 1159.4,463.8 1161.9,463.5 1164.4,463.5 1166.9,463.1 1169.5,463.6 1172,463.8 1174.5,463.5 1177,463.5 1179.5,463.8 1182,463.2 1184.5,463.7 1187,464.2 1189.5,463.9 1192,463.7 1194.5,464 1197,463.9" fill="none" stroke="#1414dc" stroke-width="2.2" stroke-linejoin="round"/>
<polygon points="52.9,81 55.5,82.8 58.1,81.3 60.7,83.2 63.3,84.3 65.9,84.1 68.5,85.2 71,85.2 73.6,84.7 76.2,86.5 78.8,87.2 81.4,87.1 84,88.8 86.6,89 89.2,88.9 91.8,89.2 94.4,89.3 97,91.2 99.6,91.2 102.2,91.2 104.8,91 107.4,91.6 110.1,91.7 112.7,92.8 115.3,92.3 117.9,94.5 120.5,94.6 123.1,95.1 125.7,94.1 128.3,94 130.9,95.3 133.5,96.5 136.1,96.8 138.8,98.3 141.4,97.6 144,97.4 146.6,99.9 149.2,98.3 151.8,98.8 154.4,100.3 157,100.7 159.7,100.7 162.3,101 164.9,101.7 167.5,102.7 170,102.9 172.5,103.7 175,103.5 177.5,103.2 180,104.9 182.5,104 185,105.2 187.5,105.8 190,106.1 192.5,105.2 195,107 197.5,107.1 200,107.8 202.6,107.6 205.2,108.2 207.8,109.5 210.5,108.6 213.1,108.4 215.7,110.3 218.3,111.1 220.9,109 223.5,109.9 226.1,111.8 228.7,112.9 231.4,111.4 234,112.2 236.6,113.5 239.2,114.3 241.8,112.9 244.4,114.1 247,115 249.6,114 252.2,114.8 254.8,114.8 257.4,116.5 260.1,116 262.7,115.5 265.3,117.4 267.9,117.1 270.5,117.7 273.1,117.4 275.7,119.1 278.3,118.6 280.9,120.7 283.5,119.9 286.1,119.9 288.8,120.8 291.4,120.7 294,122.8 296.6,122.1 299.2,122.6 301.8,123.9 304.4,125.1 307,124.1 309.7,125.8 312.3,125 314.9,124.7 317.5,124.6 320,125.8 322.5,127.3 325,127.7 327.5,128.4 330,129.9 332.5,129.6 335,129.2 337.5,129 340,129.6 342.5,130 345,132.1 347.5,132.4 350,133.1 352.6,134 355.2,134.2 357.8,133.7 360.5,134 363.1,135.7 365.7,134.8 368.3,135.9 370.9,136.4 373.5,136.9 376.1,135.7 378.7,136.8 381.4,139.2 384,137.7 386.6,138.8 389.2,139.7 391.8,139.7 394.4,140.8 397,141.2 399.6,140.4 402.2,139.9 404.8,142.1 407.4,141.7 410.1,142 412.7,141.3 415.3,141.8 417.9,143.5 420.5,143.3 423.1,144 425.7,146.2 428.3,144.7 430.9,146.6 433.5,144.4 436.1,146.2 438.8,147 441.4,147.5 444,145.3 446.6,146.8 449.2,147.4 451.8,147.8 454.4,148.3 457,148 459.7,150.5 462.3,150.7 464.9,150.6 467.5,150.8 470,150.2 472.5,148.9 475,151.1 477.5,149.8 480,151.8 482.5,151.6 485,150.2 487.5,150.4 490,150.5 492.5,150.5 495,152.8 497.6,151.8 500.2,153.8 502.8,153.1 505.2,154 507.5,155.1 509.9,155.8 512.2,158.3 514.6,157.3 517.1,159.4 519.5,159.7 522,160.4 524.4,163.3 526.9,163.1 529.3,165.3 531.8,167 534.2,166.3 536.7,167 539.1,169.8 541.5,171.8 544,169.8 546.5,172.4 548.9,175 551.3,175.3 553.8,176.8 556.2,177.4 558.7,179.3 561.1,178.2 563.5,180.8 566,182.6 568.4,182.2 570.9,184.2 573.3,184.7 575.8,185.4 578.2,188.4 580.6,189.4 583.1,188.9 585.5,190.8 588,193.1 590.4,193.5 592.9,195.3 595.4,195.6 597.8,197.1 600.2,197.4 602.7,197.9 605.1,197.3 607.6,197.7 610,200.6 612.5,201.9 615,201.8 617.4,201.5 619.9,202.8 622.3,204.3 624.8,202.9 627.2,203.2 629.6,204.5 632.1,205 634.8,206.7 637.5,207.8 640.2,208.5 642.9,209.7 645.5,211.1 648.2,212.1 650.9,211.3 653.6,212.6 656,213.3 658.5,212.8 660.9,214.3 663.4,213.6 665.8,214.6 668.3,216.4 670.7,215.3 673.1,216.7 675.6,217.3 678,217.5 680.5,218 682.9,219.6 685.3,219.9 687.8,219.8 690.2,220.6 692.7,221.9 695.1,221.2 697.6,223.4 700,222.3 702.5,224.1 704.9,224.6 707.4,226 709.8,226.8 712.2,226.2 714.7,225.8 717.1,227 719.6,228 722.1,228.2 724.5,228.9 727,229.9 729.4,230.1 731.9,231.4 734.3,233.3 736.8,231.9 739.2,234.2 742,232.8 744.8,233.3 747.6,235 750.4,234.6 753.2,235.9 756,236.4 758.8,235.3 761.6,237.5 764.4,237.6 767.2,238.9 769.9,239.7 772.7,240.6 775.5,240.3 778.3,240.5 780.9,241.7 783.5,242.7 786.1,242.8 788.8,244.1 791.4,245.8 794,247.1 796.4,246.3 798.7,248.2 801.1,248.5 803.4,250.9 805.8,252.6 807.8,253.2 809.7,257.1 811.6,258.5 813.6,261.7 814.9,263.2 816.2,267.4 817.5,270.5 818.3,270.9 819.1,274.7 819.8,278.5 820.6,280.2 821.4,282.7 821.8,285 822.2,289.4 822.5,290.1 822.9,294.6 823.3,296.1 823.7,298 824,303 824.4,305.1 824.8,306.7 825,309.4 825.1,312.7 825.3,316.1 825.5,316.6 825.6,319.6 825.8,322.8 826,325.6 826.1,329.5 826.3,331.7 826.6,333.9 827,335.6 827.3,338.7 827.6,342 828,344.6 828.3,347.3 828.6,349.7 829,353.3 829.3,354.8 830.2,356.9 831,360.6 831.9,362 832.8,366.3 833.7,368.8 834.5,369.8 835.4,372.4 836.9,375.5 838.4,377.6 839.9,378.6 841.4,381.6 842.9,383 844.4,384.9 847.5,387.5 850.5,390.1 853.5,389.1 856.6,386.1 859.6,386.5 862,384.2 864.4,385 866.9,381.8 869.3,380 871.7,380.2 874.1,378.9 876.5,377.5 879,377.9 881.4,375.2 883.8,375.3 886.3,373.8 888.8,374.3 891.3,373.8 893.9,372.4 896.4,372.6 898.9,373.8 901.5,372.5 904,372.1 906.6,373.3 909.1,373.9 911.7,373.8 914.2,373.2 916.8,373.8 919.3,373.9 921.9,374.4 924.5,373.8 927,373.6 929.6,373.4 932.1,372.7 934.7,372.3 937.2,373.6 939.8,373 942.3,372.3 944.9,373.2 947.4,373.9 950,373.9 952.6,371.5 955.1,373.5 957.7,372.9 960.3,373.3 962.8,372.7 965.4,371.6 968,372.5 970.5,371.4 973.1,371.6 975.8,371.7 978.5,370 981.2,369.6 983.9,371 986.6,371.5 989.3,372.1 990.9,372.4 992.4,375.5 994,376.5 997.4,380.7 1000.9,375.6 1001.4,372.5 1001.8,370.2 1002.3,369.6 1002.7,366 1003.2,364.3 1004.4,366.4 1005.5,371 1008.3,371.2 1011.1,371.4 1013.8,370.2 1016.6,370.4 1019.4,371 1021.9,371.4 1024.5,369.2 1027,371 1029.5,371.5 1032,370.8 1034.6,371.6 1037.1,369.8 1039.6,370.9 1042.2,369.5 1044.7,371.3 1047.2,371.1 1049.8,369.6 1052.3,372.1 1054.8,370.3 1057.3,369.4 1059.9,371.4 1062.4,370 1064.9,371.3 1067.5,369.9 1070,369.7 1072.7,371.6 1075.3,371 1078,371.2 1080.7,370.6 1083.3,370.9 1086,369.4 1088.7,369.7 1091.4,370.1 1094,370.5 1096.7,370.6 1099.4,369.5 1102,370.4 1104.7,370.8 1107.2,368.3 1109.8,368.7 1112.3,367.2 1114.8,369.2 1117.3,367.6 1119.9,368.3 1122.4,368.5 1124.9,368.6 1127.4,369 1130,367.8 1132.5,366.4 1135.3,366.2 1138.2,365.5 1138.4,368.1 1138.6,371.4 1138.8,374 1139,376 1139.2,379.3 1139.4,382.7 1142,380.1 1144.5,381.4 1147.1,381.5 1149.7,380.1 1152.2,382.9 1154.8,381.3 1157.4,382.2 1159.9,381.1 1162.5,381.7 1165.2,381.3 1167.8,383.3 1170.5,380.9 1173.1,381.4 1175.8,382.4 1178.4,382 1181.1,382.1 1183.7,383.3 1186.4,383 1189,381.7 1191.7,382.8 1194.3,383.7 1197,383 1197,386.8 1194.3,387.1 1191.7,386.6 1189,387.8 1186.4,387.9 1183.7,387.8 1181.1,388.2 1178.4,386.9 1175.8,386.8 1173.1,387.9 1170.5,387.9 1167.8,387.8 1165.2,388.1 1162.5,387.2 1159.9,386 1157.4,388 1154.8,387.2 1152.2,385.6 1149.7,387.5 1147.1,385 1144.5,387.2 1142,386.8 1139.4,387.3 1139.2,382.3 1139,380.7 1138.8,378.1 1138.6,376.8 1138.4,374.6 1138.2,370.1 1135.3,370.5 1132.5,372.4 1130,372.4 1127.4,373.3 1124.9,374.1 1122.4,374.2 1119.9,374 1117.3,372.2 1114.8,372.9 1112.3,373.3 1109.8,373.3 1107.2,372.9 1104.7,376.2 1102,374.3 1099.4,373.6 1096.7,374.9 1094,373.3 1091.4,375 1088.7,374.9 1086,375.4 1083.3,374.8 1080.7,374.4 1078,374.8 1075.3,376 1072.7,376.7 1070,375.6 1067.5,376.8 1064.9,377.1 1062.4,375 1059.9,376.1 1057.3,376.5 1054.8,375.8 1052.3,376.4 1049.8,374.4 1047.2,375.3 1044.7,375.5 1042.2,376.7 1039.6,374.7 1037.1,374.7 1034.6,374.9 1032,374.3 1029.5,375.3 1027,376.1 1024.5,375 1021.9,376.1 1019.4,376.2 1016.6,375.6 1013.8,376.7 1011.1,377 1008.3,375.1 1005.5,376.4 1004.4,371.9 1003.2,367.8 1002.7,371.3 1002.3,374.7 1001.8,376.5 1001.4,379.4 1000.9,380.1 997.4,384 994,383.7 992.4,381.6 990.9,376.5 989.3,376.9 986.6,375.2 983.9,376.1 981.2,376 978.5,374.4 975.8,376.6 973.1,376.4 970.5,377.4 968,376.3 965.4,375.1 962.8,376.1 960.3,375.9 957.7,376.8 955.1,378.5 952.6,377.7 950,377.8 947.4,379.1 944.9,377.3 942.3,377.9 939.8,377.7 937.2,377.9 934.7,379.5 932.1,377.8 929.6,377.5 927,377.1 924.5,379 921.9,379.2 919.3,377.9 916.8,377.3 914.2,377 911.7,378.8 909.1,379 906.6,378.4 904,376.8 901.5,377.8 898.9,378.9 896.4,377.4 893.9,377.4 891.3,379.2 888.8,379.7 886.3,380.5 883.8,380.8 881.4,381.3 879,381 876.5,383.1 874.1,384.7 871.7,386 869.3,386.7 866.9,388.8 864.4,390.9 862,391.6 859.6,392.1 856.6,392.7 853.5,393.3 850.5,395.8 847.5,393.2 844.4,393.3 842.9,390.9 841.4,389.5 839.9,386.4 838.4,385.7 836.9,381.3 835.4,381.4 834.5,378.9 833.7,374.8 832.8,372.8 831.9,371.4 831,367.8 830.2,364.9 829.3,361.7 829,360.5 828.6,356.9 828.3,355.4 828,351.8 827.6,348.9 827.3,347.2 827,343.7 826.6,340.6 826.3,339 826.1,337.2 826,333.7 825.8,329.1 825.6,329.3 825.5,326.6 825.3,321.9 825.1,319 825,318.3 824.8,314.5 824.4,312.6 824,310.5 823.7,305.6 823.3,305.1 822.9,301.9 822.5,299.5 822.2,296.8 821.8,293.3 821.4,290.1 820.6,288.9 819.8,284 819.1,282.7 818.3,279.7 817.5,276.4 816.2,275.1 814.9,271.6 813.6,268.7 811.6,267.5 809.7,265.5 807.8,262.3 805.8,260.5 803.4,258.9 801.1,257.6 798.7,257.8 796.4,255 794,254.6 791.4,252.8 788.8,251.7 786.1,252.2 783.5,250.8 780.9,248.1 778.3,248.6 775.5,248.9 772.7,248.1 769.9,246 767.2,246.7 764.4,246.1 761.6,246 758.8,245.7 756,243.5 753.2,242.6 750.4,243.1 747.6,242.5 744.8,243 742,240.9 739.2,240.1 736.8,241.5 734.3,240.1 731.9,239.5 729.4,239 727,238.5 724.5,237.8 722.1,235.3 719.6,234.8 717.1,234.9 714.7,233.9 712.2,234.6 709.8,232.7 707.4,232.8 704.9,232.4 702.5,233 700,231.9 697.6,229.5 695.1,230.4 692.7,228.4 690.2,229.8 687.8,229.5 685.3,229 682.9,227.4 680.5,226.2 678,224.9 675.6,226.6 673.1,225.7 670.7,225.3 668.3,223 665.8,222.5 663.4,222.2 660.9,221.1 658.5,220.6 656,219.6 653.6,220.6 650.9,219.9 648.2,219.5 645.5,216.8 642.9,218 640.2,216.7 637.5,215.7 634.8,215.4 632.1,213.3 629.6,212.4 627.2,211.3 624.8,211.8 622.3,210.3 619.9,208.9 617.4,210.1 615,208.9 612.5,209.1 610,206.6 607.6,206 605.1,206 602.7,204.6 600.2,203.5 597.8,203.8 595.4,202.1 592.9,203.7 590.4,201.3 588,200.1 585.5,199.6 583.1,198.7 580.6,197.4 578.2,196.3 575.8,194.7 573.3,194 570.9,193.5 568.4,191.2 566,189.5 563.5,189.5 561.1,188.3 558.7,186.5 556.2,186 553.8,184.4 551.3,181.3 548.9,181 546.5,180.4 544,177.9 541.5,177.6 539.1,177.9 536.7,176.1 534.2,174.1 531.8,175.4 529.3,173.5 526.9,171.9 524.4,170.4 522,169.1 519.5,167.3 517.1,168 514.6,166.5 512.2,164.5 509.9,164.1 507.5,162 505.2,161.3 502.8,162 500.2,161 497.6,161.7 495,159 492.5,159.2 490,159.7 487.5,159.4 485,158.1 482.5,160.2 480,158.8 477.5,158.1 475,158.8 472.5,158.3 470,157 467.5,157 464.9,157.1 462.3,157.8 459.7,157.7 457,157 454.4,157.1 451.8,156.2 449.2,155.6 446.6,155 444,154.7 441.4,153.7 438.8,155.5 436.1,154.3 433.5,154.2 430.9,154.3 428.3,152.6 425.7,153.7 423.1,150.7 420.5,151.6 417.9,151.4 415.3,150.4 412.7,150.2 410.1,151.8 407.4,148.9 404.8,149.3 402.2,147.6 399.6,149.2 397,147.7 394.4,147.6 391.8,147.7 389.2,146.2 386.6,146 384,147.3 381.4,144.7 378.7,146.5 376.1,145.1 373.5,143.3 370.9,144.5 368.3,143.3 365.7,142.4 363.1,141.8 360.5,140.9 357.8,142.4 355.2,140.5 352.6,141.3 350,140.9 347.5,139.9 345,140.7 342.5,138.1 340,139 337.5,137.5 335,138.5 332.5,135.7 330,137.3 327.5,135 325,134.7 322.5,133.6 320,134.3 317.5,132.4 314.9,133.1 312.3,131.6 309.7,133.5 307,133 304.4,131.8 301.8,131.5 299.2,131 296.6,129.6 294,130.8 291.4,130.1 288.8,129.9 286.1,129.3 283.5,129.2 280.9,127.9 278.3,128 275.7,128.4 273.1,127.1 270.5,125.7 267.9,125.7 265.3,125.3 262.7,124.9 260.1,123.9 257.4,125.4 254.8,124.6 252.2,123.6 249.6,124 247,122.9 244.4,121.8 241.8,122.8 239.2,121.5 236.6,120.9 234,121 231.4,119.3 228.7,119.6 226.1,118.5 223.5,119.8 220.9,117.7 218.3,118 215.7,117.2 213.1,118 210.5,116.2 207.8,115.3 205.2,115.2 202.6,115.3 200,115 197.5,114.8 195,114.8 192.5,113.3 190,114.6 187.5,113.1 185,113.5 182.5,111.7 180,111.4 177.5,112.6 175,111.4 172.5,110.7 170,109.4 167.5,110.5 164.9,109.2 162.3,108.3 159.7,110.1 157,108.8 154.4,107 151.8,106.9 149.2,108.4 146.6,106 144,105.1 141.4,105.1 138.8,105 136.1,104.8 133.5,104.7 130.9,102.6 128.3,103.9 125.7,102.1 123.1,103 120.5,102 117.9,101.9 115.3,101.1 112.7,101.4 110.1,100.6 107.4,98.8 104.8,99.5 102.2,99.2 99.6,99.3 97,99.4 94.4,98.1 91.8,97.3 89.2,98 86.6,97.3 84,95.6 81.4,94.9 78.8,95 76.2,95 73.6,93.7 71,93.2 68.5,92.6 65.9,93 63.3,93.3 60.7,90.4 58.1,89.4 55.5,91.2 52.9,89.6" fill="#000" fill-opacity="0.9"/>
<polyline points="52.9,86 55.5,86.5 58.1,86.1 60.7,86.7 63.3,88 65.9,88.4 68.5,88.9 71,89.1 73.6,89.9 76.2,90.4 78.8,90.9 81.4,91.1 84,91.9 86.6,92.4 89.2,93.2 91.8,93.9 94.4,94.3 97,94.3 99.6,94.7 102.2,94.9 104.8,95.1 107.4,95.6 110.1,96.4 112.7,96.7 115.3,97.2 117.9,98.2 120.5,98.2 123.1,98.7 125.7,98.8 128.3,99 130.9,99.7 133.5,100 136.1,100.8 138.8,101.7 141.4,101.8 144,101.7 146.6,102.8 149.2,103.2 151.8,103.5 154.4,104.1 157,104.4 159.7,104.8 162.3,104.8 164.9,105.9 167.5,106.3 170,105.8 172.5,106.8 175,107.2 177.5,107.3 180,107.8 182.5,108.1 185,108.9 187.5,108.9 190,109.6 192.5,109.5 195,110.4 197.5,110.8 200,110.8 202.6,111.3 205.2,112.1 207.8,112.3 210.5,112.5 213.1,112.7 215.7,113.2 218.3,114 220.9,113.9 223.5,115 226.1,114.8 228.7,115.9 231.4,115.7 234,116.8 236.6,117 239.2,117.2 241.8,117.6 244.4,118.2 247,118.5 249.6,118.7 252.2,119 254.8,119.7 257.4,120.6 260.1,120.7 262.7,120.6 265.3,121.7 267.9,122 270.5,122.6 273.1,122.4 275.7,123.3 278.3,123.1 280.9,124.1 283.5,124.1 286.1,124.5 288.8,125.6 291.4,125.3 294,126.1 296.6,126.9 299.2,126.7 301.8,127.1 304.4,128.2 307,128.2 309.7,128.9 312.3,128.7 314.9,129.4 317.5,129.7 320,130.7 322.5,130.6 325,132 327.5,131.5 330,132.7 332.5,132.5 335,133.3 337.5,134.3 340,134.2 342.5,134.7 345,135.7 347.5,135.9 350,136 352.6,137.4 355.2,137 357.8,137.4 360.5,138.1 363.1,138.8 365.7,139.4 368.3,139.2 370.9,139.9 373.5,140 376.1,140.8 378.7,141.6 381.4,142 384,142.6 386.6,142.9 389.2,143.5 391.8,143.7 394.4,143.9 397,144 399.6,144.8 402.2,144.9 404.8,145.1 407.4,145.8 410.1,146.6 412.7,146.3 415.3,147.1 417.9,147.3 420.5,147.8 423.1,147.9 425.7,149.1 428.3,148.8 430.9,149.4 433.5,149.6 436.1,149.5 438.8,150.4 441.4,150.3 444,150.5 446.6,150.8 449.2,151.3 451.8,151.5 454.4,152.4 457,152.6 459.7,153.4 462.3,153.7 464.9,154.1 467.5,153.6 470,154 472.5,154 475,154.6 477.5,154.8 480,155.2 482.5,155.3 485,155 487.5,155.4 490,155.6 492.5,155.3 495,155.5 497.6,156.5 500.2,156.8 502.8,158 505.2,158.4 507.5,159.2 509.9,160.2 512.2,161.1 514.6,162 517.1,163.4 519.5,164.5 522,165.4 524.4,166.8 526.9,167.5 529.3,169.3 531.8,170.5 534.2,171.3 536.7,172.1 539.1,173.3 541.5,174.5 544,175.1 546.5,176.5 548.9,177.7 551.3,178.5 553.8,179.5 556.2,181.3 558.7,182 561.1,183.3 563.5,184.9 566,185.7 568.4,186.5 570.9,188.3 573.3,188.9 575.8,189.7 578.2,191.6 580.6,192.2 583.1,193.6 585.5,195.3 588,196.3 590.4,196.8 592.9,198.5 595.4,199.2 597.8,200 600.2,200.5 602.7,201.6 605.1,201.8 607.6,202.8 610,203.6 612.5,204.9 615,204.7 617.4,206.1 619.9,206.2 622.3,207.2 624.8,207.7 627.2,208.4 629.6,209.4 632.1,209.7 634.8,210.2 637.5,211 640.2,211.7 642.9,213.3 645.5,213.8 648.2,214.9 650.9,215.4 653.6,215.5 656,216.8 658.5,217.5 660.9,218 663.4,218.4 665.8,218.9 668.3,219.6 670.7,220.5 673.1,220.6 675.6,221.5 678,222 680.5,223.1 682.9,223.6 685.3,224.3 687.8,224.8 690.2,224.9 692.7,225.4 695.1,226.3 697.6,226.7 700,227.4 702.5,228.2 704.9,228.9 707.4,229.1 709.8,229.8 712.2,229.6 714.7,230.4 717.1,231.5 719.6,231.1 722.1,232.2 724.5,232.6 727,233.3 729.4,234.9 731.9,235.7 734.3,236.1 736.8,236.4 739.2,237.3 742,237.7 744.8,238.5 747.6,239 750.4,239.2 753.2,239.7 756,239.7 758.8,240.5 761.6,241.5 764.4,241.9 767.2,241.8 769.9,242.8 772.7,243.6 775.5,243.7 778.3,244.9 780.9,245.4 783.5,246.5 786.1,247.2 788.8,248.7 791.4,249.4 794,250.1 796.4,250.9 798.7,252.5 801.1,253.4 803.4,255.3 805.8,256.9 807.8,258.3 809.7,260.8 811.6,262.9 813.6,264.9 814.9,267.9 816.2,270.8 817.5,273.2 818.3,275.8 819.1,279.1 819.8,281.2 820.6,284.4 821.4,287.2 821.8,289.9 822.2,292.6 822.5,294.6 822.9,297.6 823.3,300 823.7,302.8 824,305.8 824.4,308 824.8,310" fill="none" stroke="#000" stroke-opacity="0.9" stroke-width="4.2" stroke-linejoin="round"/>
<polyline points="824.8,310 825,313.2 825.1,316.1 825.3,318.9 825.5,321.4 825.6,324.3" fill="none" stroke="#000" stroke-opacity="0.9" stroke-width="2.4" stroke-linejoin="round"/>
<polyline points="825.6,324.3 825.8,326.2" fill="none" stroke="#000" stroke-opacity="0.9" stroke-width="4.2" stroke-linejoin="round"/>
<polyline points="825.8,326.2 826,329.8 826.1,332.2 826.3,334.8" fill="none" stroke="#000" stroke-opacity="0.9" stroke-width="2.4" stroke-linejoin="round"/>
<polyline points="826.3,334.8 826.6,337.8 827,340.5 827.3,342.4 827.6,345.8 828,348.4 828.3,350.5 828.6,353.8 829,356.3 829.3,358.6 830.2,361.8 831,363.7 831.9,366.8 832.8,369.2 833.7,371.6 834.5,374.5 835.4,377 836.9,378.7 838.4,381.5 839.9,382.6 841.4,384.6 842.9,387.1 844.4,389.4 847.5,390.8 850.5,392.5 853.5,391.2 856.6,390.3 859.6,388.9 862,387.7 864.4,386.7 866.9,385 869.3,383.9 871.7,383.4 874.1,381.6 876.5,380.9 879,379.7 881.4,378.1 883.8,377.2 886.3,377 888.8,376.9 891.3,375.9 893.9,375.7 896.4,375.6 898.9,375.5 901.5,375.3 904,375 906.6,375.5 909.1,375.9 911.7,375.3 914.2,375.5 916.8,375.3 919.3,375.4 921.9,375.8 924.5,375.3 927,375.6 929.6,375.4 932.1,375.5 934.7,375.8 937.2,375 939.8,375.7 942.3,375.2 944.9,375.6 947.4,375.7 950,375.6 952.6,375 955.1,375.2 957.7,374.2 960.3,374.5 962.8,374 965.4,373.9 968,374 970.5,373.7 973.1,373.2 975.8,372.9 978.5,372.8 981.2,373.1 983.9,372.8 986.6,372.9 989.3,373.6 990.9,375 992.4,378.1 994,380 997.4,382.3 1000.9,378.7 1001.4,375.9 1001.8,373.8 1002.3,370.9 1002.7,368.7 1003.2,366 1004.4,370 1005.5,373.5 1008.3,373 1011.1,373.2 1013.8,373.5 1016.6,372.9 1019.4,372.7 1021.9,372.8 1024.5,372.8 1027,373.3 1029.5,373 1032,373 1034.6,373.4 1037.1,372.8 1039.6,373.4 1042.2,373.2 1044.7,373 1047.2,373.4 1049.8,372.9 1052.3,373.5 1054.8,373.5 1057.3,373.1 1059.9,373.3 1062.4,373.5 1064.9,373.3 1067.5,373.4 1070,373.5 1072.7,373.5 1075.3,373.2 1078,373.3 1080.7,372.6 1083.3,372.8 1086,372.8 1088.7,372.4 1091.4,372.3 1094,372 1096.7,372.7 1099.4,372 1102,372.1 1104.7,372.4 1107.2,371.5 1109.8,372 1112.3,371 1114.8,370.7 1117.3,370.8 1119.9,370.6 1122.4,371 1124.9,370.7 1127.4,370.4 1130,369.8 1132.5,369.7 1135.3,368.8 1138.2,368.8 1138.4,370.9 1138.6,373.3" fill="none" stroke="#000" stroke-opacity="0.9" stroke-width="4.2" stroke-linejoin="round"/>
<polyline points="1138.6,373.3 1138.8,376.1" fill="none" stroke="#000" stroke-opacity="0.9" stroke-width="2.4" stroke-linejoin="round"/>
<polyline points="1138.8,376.1 1139,378.2" fill="none" stroke="#000" stroke-opacity="0.9" stroke-width="4.2" stroke-linejoin="round"/>
<polyline points="1139,378.2 1139.2,380.8 1139.4,383.9" fill="none" stroke="#000" stroke-opacity="0.9" stroke-width="2.4" stroke-linejoin="round"/>
<polyline points="1139.4,383.9 1142,383.2 1144.5,383.4 1147.1,383.6 1149.7,383.8 1152.2,384.1 1154.8,384.1 1157.4,384.3 1159.9,384.3 1162.5,384.4 1165.2,384.8 1167.8,384.5 1170.5,384.6 1173.1,385 1175.8,384.3 1178.4,384.3 1181.1,385.1 1183.7,384.6 1186.4,385 1189,384.3 1191.7,384.7 1194.3,385 1197,384.5" fill="none" stroke="#000" stroke-opacity="0.9" stroke-width="4.2" stroke-linejoin="round"/>
<polygon points="52.9,84.3 55.5,84.6 58.1,83.9 60.7,84.1 63.3,86.2 65.9,87.1 68.5,86.7 71,87.5 73.6,87 76.2,88.4 78.8,88.4 81.4,88.9 84,89.9 86.6,90.8 89.2,91.2 91.8,92.4 94.4,91.9 97,91.6 99.6,92.5 102.2,93.2 104.8,93.4 107.4,92.7 110.1,93.9 112.7,94.2 115.3,95.1 117.9,96.6 120.5,95.8 123.1,95.9 125.7,97.3 128.3,97.5 130.9,98.1 133.5,97.1 136.1,98.3 138.8,99.1 141.4,100.3 144,99 146.6,100.1 149.2,100.6 151.8,101.9 154.4,101.5 157,103.1 159.7,102.4 162.3,103 164.9,103.3 167.5,103.8 170,104.3 172.5,105.5 175,104.7 177.5,105 180,104.9 182.5,105.5 185,106.6 187.5,106.8 190,107.6 192.5,107.2 195,107.8 197.5,108.8 200,108.4 202.6,108.9 205.2,110.7 207.8,110.3 210.5,109.6 213.1,111.3 215.7,111.8 218.3,111.7 220.9,112.5 223.5,112.3 226.1,113.4 228.7,113.3 231.4,114.2 234,115 236.6,115.6 239.2,114.8 241.8,115.8 244.4,116.8 247,115.9 249.6,116.1 252.2,117 254.8,117 257.4,117.8 260.1,117.8 262.7,118.2 265.3,119.9 267.9,119.9 270.5,120.7 273.1,119.5 275.7,120.6 278.3,121.1 280.9,121.4 283.5,121.3 286.1,121.7 288.8,123.8 291.4,123.9 294,124 296.6,124 299.2,124.1 301.8,125.3 304.4,126.6 307,125.6 309.7,126.8 312.3,125.8 314.9,127.4 317.5,128 320,128.6 322.5,128.9 325,129.4 327.5,129.7 330,130.6 332.5,130.6 335,130.5 337.5,132.1 340,132.2 342.5,132.2 345,133.7 347.5,133 350,133.8 352.6,136 355.2,135.2 357.8,135.3 360.5,136.6 363.1,137 365.7,137.3 368.3,136.9 370.9,138.4 373.5,138 376.1,138.7 378.7,139.3 381.4,139.4 384,140 386.6,141 389.2,141.4 391.8,142 394.4,141.7 397,141.7 399.6,142.8 402.2,142.4 404.8,143.7 407.4,143.9 410.1,144.2 412.7,144.2 415.3,145.6 417.9,145.9 420.5,146.1 423.1,146.4 425.7,147.5 428.3,146.4 430.9,147.2 433.5,147.4 436.1,146.7 438.8,148.4 441.4,148.3 444,148.9 446.6,148.5 449.2,149.9 451.8,149.8 454.4,150.4 457,150.1 459.7,152 462.3,151.9 464.9,152.2 467.5,151 470,151.5 472.5,151.4 475,153.1 477.5,152.6 480,153.4 482.5,153.5 485,153.4 487.5,152.9 490,153.1 492.5,154 495,152.9 497.6,155.2 500.2,154.5 502.8,155.2 505.2,156 507.5,157.5 509.9,157.9 512.2,158.5 514.6,159.2 517.1,160.6 519.5,162.5 522,163.1 524.4,165 526.9,164.8 529.3,166.9 531.8,168.4 534.2,168.9 536.7,170.3 539.1,170.8 541.5,172.8 544,173.2 546.5,174.3 548.9,176 551.3,176.1 553.8,178.1 556.2,179.6 558.7,179.6 561.1,181.8 563.5,183 566,184.2 568.4,184.8 570.9,186.9 573.3,186.8 575.8,187.4 578.2,189.8 580.6,190.7 583.1,191.5 585.5,193.5 588,194.4 590.4,194.5 592.9,195.9 595.4,197.3 597.8,197.4 600.2,198.3 602.7,199.9 605.1,199.5 607.6,200.6 610,202.3 612.5,203 615,202.7 617.4,203.5 619.9,204.5 622.3,204.9 624.8,206 627.2,207.1 629.6,207.8 632.1,207.1 634.8,208.8 637.5,209.1 640.2,209.1 642.9,210.4 645.5,211.3 648.2,212.9 650.9,213.3 653.6,212.6 656,215.4 658.5,214.7 660.9,216.5 663.4,216.3 665.8,217.3 668.3,218 670.7,218.7 673.1,218.3 675.6,219.4 678,219.5 680.5,220.6 682.9,220.7 685.3,222 687.8,223.4 690.2,223.1 692.7,222.6 695.1,223.9 697.6,224.5 700,225.4 702.5,226.1 704.9,227.4 707.4,226.5 709.8,227.9 712.2,227.7 714.7,227.5 717.1,228.8 719.6,228.4 722.1,230.3 724.5,231 727,231.8 729.4,233.3 731.9,233.7 734.3,234.2 736.8,234.5 739.2,234.9 742,235.5 744.8,235.8 747.6,236.6 750.4,236.8 753.2,238.3 756,237.1 758.8,238.4 761.6,238.7 764.4,239.1 767.2,239.7 769.9,240.8 772.7,241.5 775.5,242.4 778.3,242.8 780.9,243.5 783.5,245 786.1,244.5 788.8,247 791.4,246.7 794,248.6 796.4,249.3 798.7,250.9 801.1,251.9 803.4,252.5 805.8,254.1 807.8,256.1 809.7,258 811.6,261.4 813.6,262.3 814.9,265.3 816.2,269 817.5,270.5 818.3,274.2 819.1,276.7 819.8,279.2 820.6,282.9 821.4,284.4 821.8,287.4 822.2,290.3 822.5,292.8 822.9,295.1 823.3,297.7 823.7,300.3 824,303.8 824.4,305.8 824.8,308.1 825,310.3 825.1,314.1 825.3,317.6 825.5,318.9 825.6,321.7 825.8,324.5 826,327.1 826.1,330.2 826.3,332.6 826.6,335.2 827,338.1 827.3,340.7 827.6,343.9 828,345.9 828.3,348.6 828.6,352.5 829,353.6 829.3,356.9 830.2,359.1 831,361.2 831.9,364.1 832.8,367.2 833.7,369.8 834.5,372.8 835.4,375.1 836.9,376.9 838.4,379 839.9,380.3 841.4,382.1 842.9,385.9 844.4,386.9 847.5,389.5 850.5,390.5 853.5,390 856.6,388.5 859.6,388 862,386.5 864.4,385.6 866.9,382.8 869.3,382.7 871.7,381.2 874.1,380.3 876.5,379.4 879,377.8 881.4,376.8 883.8,375.6 886.3,375.7 888.8,375.8 891.3,374 893.9,374.3 896.4,374.2 898.9,374.8 901.5,374.7 904,373.3 906.6,374 909.1,374.6 911.7,373.8 914.2,374.9 916.8,374.6 919.3,373.6 921.9,375.1 924.5,374.5 927,374.9 929.6,374 932.1,373.4 934.7,374.9 937.2,373.2 939.8,374.8 942.3,373.3 944.9,374.4 947.4,373.7 950,374.4 952.6,373.3 955.1,373.2 957.7,373.5 960.3,373.6 962.8,372.9 965.4,372.4 968,372.5 970.5,372.5 973.1,371.5 975.8,371.9 978.5,370.9 981.2,371.2 983.9,371.2 986.6,371.6 989.3,372.4 990.9,374.1 992.4,376.9 994,378.6 997.4,381.6 1000.9,377.5 1001.4,374.6 1001.8,372 1002.3,370 1002.7,366.7 1003.2,365.2 1004.4,369 1005.5,373 1008.3,372.3 1011.1,372 1013.8,372.5 1016.6,371.4 1019.4,371.1 1021.9,372.2 1024.5,371.3 1027,372.3 1029.5,370.9 1032,371 1034.6,372.6 1037.1,371.8 1039.6,372.5 1042.2,372.1 1044.7,371.2 1047.2,372.1 1049.8,371.7 1052.3,372.3 1054.8,373 1057.3,371.7 1059.9,372.3 1062.4,372.5 1064.9,371.4 1067.5,372.8 1070,372 1072.7,372.9 1075.3,372.5 1078,371.7 1080.7,371.4 1083.3,371.7 1086,371.8 1088.7,370.7 1091.4,370.5 1094,370.2 1096.7,371.2 1099.4,371.5 1102,370.6 1104.7,371.3 1107.2,371 1109.8,370.2 1112.3,369.5 1114.8,370.1 1117.3,369.3 1119.9,369.7 1122.4,370.1 1124.9,370.2 1127.4,368.4 1130,368.3 1132.5,369 1135.3,367.3 1138.2,367 1138.4,370 1138.6,371.5 1138.8,375.1 1139,377.3 1139.2,380 1139.4,383 1142,381.6 1144.5,382.2 1147.1,382.5 1149.7,382.1 1152.2,383.2 1154.8,383.4 1157.4,383.7 1159.9,383 1162.5,383.5 1165.2,384.3 1167.8,383.3 1170.5,383.1 1173.1,383.4 1175.8,382.3 1178.4,383.6 1181.1,384.5 1183.7,383.4 1186.4,384.2 1189,383.7 1191.7,382.7 1194.3,383.5 1197,383.3 1197,385.9 1194.3,386.1 1191.7,386.7 1189,386.4 1186.4,385.5 1183.7,386 1181.1,386.4 1178.4,385.9 1175.8,385.6 1173.1,386.6 1170.5,385.8 1167.8,385.7 1165.2,385.9 1162.5,385.5 1159.9,384.9 1157.4,385.7 1154.8,385.7 1152.2,386 1149.7,384.8 1147.1,384.4 1144.5,383.9 1142,384.7 1139.4,385.1 1139.2,381.7 1139,379.6 1138.8,377.9 1138.6,374.3 1138.4,372.9 1138.2,370.6 1135.3,369.5 1132.5,370.9 1130,371.8 1127.4,371.9 1124.9,371.4 1122.4,372.4 1119.9,371.8 1117.3,372.3 1114.8,372 1112.3,372.3 1109.8,373.1 1107.2,372.1 1104.7,374.1 1102,372.7 1099.4,373 1096.7,373.5 1094,374 1091.4,373.8 1088.7,372.9 1086,374.1 1083.3,374.7 1080.7,373.2 1078,374.5 1075.3,374 1072.7,374.3 1070,375.4 1067.5,373.9 1064.9,374.7 1062.4,375.5 1059.9,374 1057.3,374.3 1054.8,374.9 1052.3,374.6 1049.8,374.5 1047.2,374.8 1044.7,373.9 1042.2,375 1039.6,375.4 1037.1,374.4 1034.6,375.2 1032,374.9 1029.5,374.1 1027,374.5 1024.5,374.8 1021.9,374.6 1019.4,374.2 1016.6,373.8 1013.8,374.8 1011.1,373.8 1008.3,374.6 1005.5,374.9 1004.4,371.5 1003.2,367.9 1002.7,370.6 1002.3,372.5 1001.8,374.6 1001.4,376.6 1000.9,379.3 997.4,383.6 994,381.7 992.4,378.6 990.9,376 989.3,374.6 986.6,374.9 983.9,374.8 981.2,374.8 978.5,374.9 975.8,374.2 973.1,375.2 970.5,374.2 968,374.7 965.4,374.8 962.8,375.1 960.3,375 957.7,376.1 955.1,375.8 952.6,375.7 950,377.1 947.4,377.5 944.9,376.1 942.3,376.6 939.8,377.8 937.2,377 934.7,376.8 932.1,376.3 929.6,376.9 927,376.6 924.5,377.2 921.9,376.8 919.3,377.3 916.8,376.1 914.2,377.1 911.7,376.5 909.1,377.1 906.6,376.5 904,376.4 901.5,376.6 898.9,376.5 896.4,376.4 893.9,377.5 891.3,377 888.8,378.5 886.3,377.8 883.8,378.2 881.4,378.9 879,381.2 876.5,382.3 874.1,382.3 871.7,384.8 869.3,385.6 866.9,386.5 864.4,388.4 862,388.5 859.6,390.6 856.6,391.4 853.5,392.4 850.5,394.6 847.5,392.8 844.4,391.1 842.9,389.4 841.4,386.3 839.9,384.2 838.4,383.3 836.9,380.5 835.4,378.2 834.5,375.9 833.7,373.5 832.8,371.5 831.9,369.6 831,365.1 830.2,363.8 829.3,360 829,358 828.6,355.5 828.3,353.2 828,350.1 827.6,347.8 827.3,345 827,342.6 826.6,339.9 826.3,336.7 826.1,334 826,332.6 825.8,327.9 825.6,325.6 825.5,323.2 825.3,321.3 825.1,317.9 825,315.2 824.8,312.2 824.4,309.7 824,307.5 823.7,305.1 823.3,301.5 822.9,300.3 822.5,296.3 822.2,294.1 821.8,292 821.4,289.4 820.6,287.1 819.8,283 819.1,281 818.3,277.7 817.5,274.6 816.2,272.4 814.9,270.2 813.6,266.5 811.6,264.8 809.7,262.5 807.8,260.3 805.8,258.8 803.4,257.9 801.1,255 798.7,254.3 796.4,253.3 794,251.9 791.4,251.8 788.8,251 786.1,250 783.5,249.4 780.9,248.1 778.3,246.6 775.5,245.7 772.7,245.2 769.9,244.8 767.2,244.4 764.4,243.5 761.6,243.2 758.8,242.6 756,242.5 753.2,242.4 750.4,241.1 747.6,240.3 744.8,240 742,240.5 739.2,238.8 736.8,238.3 734.3,238.8 731.9,238.2 729.4,237.7 727,235.9 724.5,235.2 722.1,234.1 719.6,233.8 717.1,234.1 714.7,231.9 712.2,230.9 709.8,231.2 707.4,231.2 704.9,231.1 702.5,230.8 700,229.9 697.6,228.3 695.1,228.2 692.7,227.1 690.2,226.8 687.8,226.4 685.3,226 682.9,225.8 680.5,225.6 678,224.5 675.6,224.1 673.1,222 670.7,222.7 668.3,222.4 665.8,220.7 663.4,221.2 660.9,220.8 658.5,219.4 656,218.6 653.6,218.4 650.9,218.3 648.2,217.5 645.5,216.4 642.9,215.4 640.2,214.5 637.5,213.6 634.8,212.2 632.1,212.1 629.6,210.7 627.2,210.8 624.8,210.6 622.3,209.9 619.9,208.3 617.4,207.6 615,206.5 612.5,207.4 610,205.8 607.6,204.9 605.1,203.3 602.7,204.3 600.2,203.3 597.8,202.6 595.4,201.7 592.9,200.4 590.4,198.9 588,198.9 585.5,196.7 583.1,195.4 580.6,193.6 578.2,194.4 575.8,191.6 573.3,190.5 570.9,190.4 568.4,187.8 566,187.9 563.5,186.9 561.1,185.1 558.7,184.3 556.2,184 553.8,180.9 551.3,180.9 548.9,179.3 546.5,179.2 544,176.5 541.5,176.4 539.1,175.3 536.7,174 534.2,172.7 531.8,172.8 529.3,170.8 526.9,169.9 524.4,168.9 522,167.4 519.5,167.3 517.1,165.2 514.6,164 512.2,163.6 509.9,161.8 507.5,161.7 505.2,160.4 502.8,159.9 500.2,158.7 497.6,157.9 495,157 492.5,157.5 490,157.4 487.5,156.8 485,156.7 482.5,157 480,157.6 477.5,157.1 475,157 472.5,156.5 470,155.9 467.5,155.4 464.9,156.3 462.3,155.5 459.7,155.8 457,154.3 454.4,154.4 451.8,154.4 449.2,153 446.6,152.2 444,153.3 441.4,151.8 438.8,152.2 436.1,152 433.5,151.4 430.9,151 428.3,150.3 425.7,150.9 423.1,149.2 420.5,150.6 417.9,149.5 415.3,148.9 412.7,147.7 410.1,148.4 407.4,148.5 404.8,147.6 402.2,146.5 399.6,146.2 397,146.8 394.4,146.6 391.8,146.2 389.2,145.5 386.6,145.8 384,145.4 381.4,143.4 378.7,143.3 376.1,142.4 373.5,142.2 370.9,142.2 368.3,140.8 365.7,140.9 363.1,141.2 360.5,139.5 357.8,139.5 355.2,139.2 352.6,140.3 350,138.3 347.5,137.5 345,137.5 342.5,136 340,136.9 337.5,136.3 335,135 332.5,134.7 330,135.5 327.5,133.1 325,134.2 322.5,132.4 320,132.5 317.5,131.2 314.9,131.2 312.3,131.1 309.7,130.5 307,130 304.4,130.9 301.8,128.6 299.2,128.2 296.6,129.6 294,128.1 291.4,127.9 288.8,128.3 286.1,126.4 283.5,126.7 280.9,126.9 278.3,125.3 275.7,124.8 273.1,124.4 270.5,124.4 267.9,124.4 265.3,123.5 262.7,122.6 260.1,122.4 257.4,122.6 254.8,121.4 252.2,120.4 249.6,120.4 247,121.1 244.4,121 241.8,120.3 239.2,119.8 236.6,119.4 234,119.4 231.4,117.1 228.7,118 226.1,117.7 223.5,117.3 220.9,115.7 218.3,116.5 215.7,116.1 213.1,114.5 210.5,113.9 207.8,113.6 205.2,114 202.6,113.4 200,112.2 197.5,112.9 195,112.6 192.5,111.2 190,111.1 187.5,110.8 185,111.4 182.5,110.2 180,110.6 177.5,110 175,109.9 172.5,108.2 170,107.3 167.5,107.9 164.9,108.4 162.3,106.7 159.7,107.5 157,106 154.4,105.6 151.8,106.1 149.2,104.8 146.6,105.4 144,104.5 141.4,104.5 138.8,104.1 136.1,103.3 133.5,102.6 130.9,101.4 128.3,101.6 125.7,100.3 123.1,101.2 120.5,100.2 117.9,99.9 115.3,99.6 112.7,98.3 110.1,98.2 107.4,97.8 104.8,97.4 102.2,97.3 99.6,96.1 97,95.7 94.4,96.5 91.8,96.5 89.2,95.3 86.6,94 84,93.7 81.4,92.7 78.8,93.3 76.2,93 73.6,92.3 71,91.9 68.5,91.4 65.9,90.9 63.3,89.4 60.7,88.5 58.1,88.2 55.5,88 52.9,88.2" fill="#10e0e8"/>
<polyline points="52.9,86 55.5,86.5 58.1,86.1 60.7,86.7 63.3,88 65.9,88.4 68.5,88.9 71,89.1 73.6,89.9 76.2,90.4 78.8,90.9 81.4,91.1 84,91.9 86.6,92.4 89.2,93.2 91.8,93.9 94.4,94.3 97,94.3 99.6,94.7 102.2,94.9 104.8,95.1 107.4,95.6 110.1,96.4 112.7,96.7 115.3,97.2 117.9,98.2 120.5,98.2 123.1,98.7 125.7,98.8 128.3,99 130.9,99.7 133.5,100 136.1,100.8 138.8,101.7 141.4,101.8 144,101.7 146.6,102.8 149.2,103.2 151.8,103.5 154.4,104.1 157,104.4 159.7,104.8 162.3,104.8 164.9,105.9 167.5,106.3 170,105.8 172.5,106.8 175,107.2 177.5,107.3 180,107.8 182.5,108.1 185,108.9 187.5,108.9 190,109.6 192.5,109.5 195,110.4 197.5,110.8 200,110.8 202.6,111.3 205.2,112.1 207.8,112.3 210.5,112.5 213.1,112.7 215.7,113.2 218.3,114 220.9,113.9 223.5,115 226.1,114.8 228.7,115.9 231.4,115.7 234,116.8 236.6,117 239.2,117.2 241.8,117.6 244.4,118.2 247,118.5 249.6,118.7 252.2,119 254.8,119.7 257.4,120.6 260.1,120.7 262.7,120.6 265.3,121.7 267.9,122 270.5,122.6 273.1,122.4 275.7,123.3 278.3,123.1 280.9,124.1 283.5,124.1 286.1,124.5 288.8,125.6 291.4,125.3 294,126.1 296.6,126.9 299.2,126.7 301.8,127.1 304.4,128.2 307,128.2 309.7,128.9 312.3,128.7 314.9,129.4 317.5,129.7 320,130.7 322.5,130.6 325,132 327.5,131.5 330,132.7 332.5,132.5 335,133.3 337.5,134.3 340,134.2 342.5,134.7 345,135.7 347.5,135.9 350,136 352.6,137.4 355.2,137 357.8,137.4 360.5,138.1 363.1,138.8 365.7,139.4 368.3,139.2 370.9,139.9 373.5,140 376.1,140.8 378.7,141.6 381.4,142 384,142.6 386.6,142.9 389.2,143.5 391.8,143.7 394.4,143.9 397,144 399.6,144.8 402.2,144.9 404.8,145.1 407.4,145.8 410.1,146.6 412.7,146.3 415.3,147.1 417.9,147.3 420.5,147.8 423.1,147.9 425.7,149.1 428.3,148.8 430.9,149.4 433.5,149.6 436.1,149.5 438.8,150.4 441.4,150.3 444,150.5 446.6,150.8 449.2,151.3 451.8,151.5 454.4,152.4 457,152.6 459.7,153.4 462.3,153.7 464.9,154.1 467.5,153.6 470,154 472.5,154 475,154.6 477.5,154.8 480,155.2 482.5,155.3 485,155 487.5,155.4 490,155.6 492.5,155.3 495,155.5 497.6,156.5 500.2,156.8 502.8,158 505.2,158.4 507.5,159.2 509.9,160.2 512.2,161.1 514.6,162 517.1,163.4 519.5,164.5 522,165.4 524.4,166.8 526.9,167.5 529.3,169.3 531.8,170.5 534.2,171.3 536.7,172.1 539.1,173.3 541.5,174.5 544,175.1 546.5,176.5 548.9,177.7 551.3,178.5 553.8,179.5 556.2,181.3 558.7,182 561.1,183.3 563.5,184.9 566,185.7 568.4,186.5 570.9,188.3 573.3,188.9 575.8,189.7 578.2,191.6 580.6,192.2 583.1,193.6 585.5,195.3 588,196.3 590.4,196.8 592.9,198.5 595.4,199.2 597.8,200 600.2,200.5 602.7,201.6 605.1,201.8 607.6,202.8 610,203.6 612.5,204.9 615,204.7 617.4,206.1 619.9,206.2 622.3,207.2 624.8,207.7 627.2,208.4 629.6,209.4 632.1,209.7 634.8,210.2 637.5,211 640.2,211.7 642.9,213.3 645.5,213.8 648.2,214.9 650.9,215.4 653.6,215.5 656,216.8 658.5,217.5 660.9,218 663.4,218.4 665.8,218.9 668.3,219.6 670.7,220.5 673.1,220.6 675.6,221.5 678,222 680.5,223.1 682.9,223.6 685.3,224.3 687.8,224.8 690.2,224.9 692.7,225.4 695.1,226.3 697.6,226.7 700,227.4 702.5,228.2 704.9,228.9 707.4,229.1 709.8,229.8 712.2,229.6 714.7,230.4 717.1,231.5 719.6,231.1 722.1,232.2 724.5,232.6 727,233.3 729.4,234.9 731.9,235.7 734.3,236.1 736.8,236.4 739.2,237.3 742,237.7 744.8,238.5 747.6,239 750.4,239.2 753.2,239.7 756,239.7 758.8,240.5 761.6,241.5 764.4,241.9 767.2,241.8 769.9,242.8 772.7,243.6 775.5,243.7 778.3,244.9 780.9,245.4 783.5,246.5 786.1,247.2 788.8,248.7 791.4,249.4 794,250.1 796.4,250.9 798.7,252.5 801.1,253.4 803.4,255.3 805.8,256.9 807.8,258.3 809.7,260.8 811.6,262.9 813.6,264.9 814.9,267.9 816.2,270.8 817.5,273.2 818.3,275.8 819.1,279.1 819.8,281.2 820.6,284.4 821.4,287.2 821.8,289.9 822.2,292.6 822.5,294.6 822.9,297.6 823.3,300 823.7,302.8 824,305.8 824.4,308 824.8,310" fill="none" stroke="#10e0e8" stroke-width="2.2" stroke-linejoin="round"/>
<polyline points="824.8,310 825,313.2 825.1,316.1 825.3,318.9 825.5,321.4 825.6,324.3" fill="none" stroke="#10e0e8" stroke-width="0.9" stroke-linejoin="round"/>
<polyline points="825.6,324.3 825.8,326.2" fill="none" stroke="#10e0e8" stroke-width="2.2" stroke-linejoin="round"/>
<polyline points="825.8,326.2 826,329.8 826.1,332.2 826.3,334.8" fill="none" stroke="#10e0e8" stroke-width="0.9" stroke-linejoin="round"/>
<polyline points="826.3,334.8 826.6,337.8 827,340.5 827.3,342.4 827.6,345.8 828,348.4 828.3,350.5 828.6,353.8 829,356.3 829.3,358.6 830.2,361.8 831,363.7 831.9,366.8 832.8,369.2 833.7,371.6 834.5,374.5 835.4,377 836.9,378.7 838.4,381.5 839.9,382.6 841.4,384.6 842.9,387.1 844.4,389.4 847.5,390.8 850.5,392.5 853.5,391.2 856.6,390.3 859.6,388.9 862,387.7 864.4,386.7 866.9,385 869.3,383.9 871.7,383.4 874.1,381.6 876.5,380.9 879,379.7 881.4,378.1 883.8,377.2 886.3,377 888.8,376.9 891.3,375.9 893.9,375.7 896.4,375.6 898.9,375.5 901.5,375.3 904,375 906.6,375.5 909.1,375.9 911.7,375.3 914.2,375.5 916.8,375.3 919.3,375.4 921.9,375.8 924.5,375.3 927,375.6 929.6,375.4 932.1,375.5 934.7,375.8 937.2,375 939.8,375.7 942.3,375.2 944.9,375.6 947.4,375.7 950,375.6 952.6,375 955.1,375.2 957.7,374.2 960.3,374.5 962.8,374 965.4,373.9 968,374 970.5,373.7 973.1,373.2 975.8,372.9 978.5,372.8 981.2,373.1 983.9,372.8 986.6,372.9 989.3,373.6 990.9,375 992.4,378.1 994,380 997.4,382.3 1000.9,378.7 1001.4,375.9 1001.8,373.8 1002.3,370.9 1002.7,368.7 1003.2,366 1004.4,370 1005.5,373.5 1008.3,373 1011.1,373.2 1013.8,373.5 1016.6,372.9 1019.4,372.7 1021.9,372.8 1024.5,372.8 1027,373.3 1029.5,373 1032,373 1034.6,373.4 1037.1,372.8 1039.6,373.4 1042.2,373.2 1044.7,373 1047.2,373.4 1049.8,372.9 1052.3,373.5 1054.8,373.5 1057.3,373.1 1059.9,373.3 1062.4,373.5 1064.9,373.3 1067.5,373.4 1070,373.5 1072.7,373.5 1075.3,373.2 1078,373.3 1080.7,372.6 1083.3,372.8 1086,372.8 1088.7,372.4 1091.4,372.3 1094,372 1096.7,372.7 1099.4,372 1102,372.1 1104.7,372.4 1107.2,371.5 1109.8,372 1112.3,371 1114.8,370.7 1117.3,370.8 1119.9,370.6 1122.4,371 1124.9,370.7 1127.4,370.4 1130,369.8 1132.5,369.7 1135.3,368.8 1138.2,368.8 1138.4,370.9 1138.6,373.3" fill="none" stroke="#10e0e8" stroke-width="2.2" stroke-linejoin="round"/>
<polyline points="1138.6,373.3 1138.8,376.1" fill="none" stroke="#10e0e8" stroke-width="0.9" stroke-linejoin="round"/>
<polyline points="1138.8,376.1 1139,378.2" fill="none" stroke="#10e0e8" stroke-width="2.2" stroke-linejoin="round"/>
<polyline points="1139,378.2 1139.2,380.8 1139.4,383.9" fill="none" stroke="#10e0e8" stroke-width="0.9" stroke-linejoin="round"/>
<polyline points="1139.4,383.9 1142,383.2 1144.5,383.4 1147.1,383.6 1149.7,383.8 1152.2,384.1 1154.8,384.1 1157.4,384.3 1159.9,384.3 1162.5,384.4 1165.2,384.8 1167.8,384.5 1170.5,384.6 1173.1,385 1175.8,384.3 1178.4,384.3 1181.1,385.1 1183.7,384.6 1186.4,385 1189,384.3 1191.7,384.7 1194.3,385 1197,384.5" fill="none" stroke="#10e0e8" stroke-width="2.2" stroke-linejoin="round"/>
</g>
<path d="M8 116 H36.5 L50 130.5 L36.5 145 H8 Z" fill="none" stroke="#ffffff" stroke-width="4.2" stroke-linejoin="miter" opacity="0.8"/>
<path d="M8 116 H36.5 L50 130.5 L36.5 145 H8 Z" fill="none" stroke="#c01818" stroke-width="2.2" stroke-linejoin="miter"/>
<text x="23.5" y="140" text-anchor="middle" style="font-family:&quot;Liberation Sans&quot;,Arial,sans-serif;font-size:25px;stroke:#c01818;stroke-width:0.9px" fill="#c01818" textLength="19" lengthAdjust="spacingAndGlyphs">M</text>
<path d="M8 245.3 H36.5 L50 259.8 L36.5 274.3 H8 Z" fill="none" stroke="#ffffff" stroke-width="4.2" stroke-linejoin="miter" opacity="0.8"/>
<path d="M8 245.3 H36.5 L50 259.8 L36.5 274.3 H8 Z" fill="none" stroke="#30a030" stroke-width="2.2" stroke-linejoin="miter"/>
<text x="23.5" y="269.3" text-anchor="middle" style="font-family:&quot;Liberation Sans&quot;,Arial,sans-serif;font-size:25px" fill="#30a030" textLength="13" lengthAdjust="spacingAndGlyphs">4</text>
<path d="M2 371.5 H36 L48.5 384.5 L36 397.5 H2 Z" fill="#10d4d8"/>
<text x="14.5" y="393.5" text-anchor="middle" style="font-family:&quot;Liberation Sans&quot;,Arial,sans-serif;font-size:25px" fill="#e8ffff" textLength="13" lengthAdjust="spacingAndGlyphs">2</text>
<path d="M8 448 V434 H36 L50 448" fill="none" stroke="#2020f0" stroke-width="2.2"/>
<text x="22" y="457" text-anchor="middle" style="font-family:&quot;Liberation Sans&quot;,Arial,sans-serif;font-size:25px" fill="#2020f0">1</text>
<path d="M615.8 3.5 H634 L625 14 Z" fill="#f2a82a"/>
<path d="M703 13 H720 V26 L711.5 33.5 L703 26 Z" fill="#e27c64" stroke="#f8d0c8" stroke-width="1"/>
<path d="M704.8 15.5 V25.5 L711.5 31.5 L718.3 25.5 V15.5" fill="none" stroke="#f2c560" stroke-width="1.2"/>
<path d="M707.5 15.5 H715.5 V20 Q715.5 22.3 713 22.5 V29.5 H710 V22.5 Q707.5 22.3 707.5 20 Z" fill="#f8ecec" stroke="#f2c560" stroke-width="1"/>
<path d="M1180 167.3 L1188.5 158.7 L1188.5 166.2 H1197 V168.6 H1188.5 L1188.5 175.9 Z" fill="#10a010"/>
</svg>
<svg width="1200" height="562" viewBox="0 0 1200 562" style="position:absolute;left:0;top:0">
<path d="M1.5 519.5 V455 Q1.5 449 7.5 449 H446 Q452 449 452 455 V519.5 Z" fill="#efefef" stroke="#1c1c1c" stroke-width="2"/>
<rect x="0" y="518.5" width="454" height="3.2" fill="#0a0a0a"/>
<path d="M1.5 522 H451 V555 Q451 560.5 445.5 560.5 H7 Q1.5 560.5 1.5 555 Z" fill="#efefef" stroke="#1c1c1c" stroke-width="2"/>
<path d="M463 521.5 H699 Q704.5 521.5 704.5 527 V555 Q704.5 560.5 699 560.5 H463 Q457.5 560.5 457.5 555 V527 Q457.5 521.5 463 521.5 Z" fill="#efefef" stroke="#1c1c1c" stroke-width="2"/>
<path d="M715 521.5 H1056 Q1061 521.5 1061 527 V555 Q1061 560.5 1056 560.5 H715 Q709.5 560.5 709.5 555 V527 Q709.5 521.5 715 521.5 Z" fill="#efefef" stroke="#1c1c1c" stroke-width="2"/>
<path d="M1071 521.5 H1201 V560.5 H1071 Q1065.5 560.5 1065.5 555 V527 Q1065.5 521.5 1071 521.5 Z" fill="#efefef" stroke="#1c1c1c" stroke-width="2"/>
<rect x="1061" y="524" width="4" height="34" fill="#111"/>
<rect x="4" y="557" width="444" height="2" fill="#ffffff"/>
<rect x="4" y="523.2" width="444" height="1.6" fill="#fafafa"/>
<rect x="461" y="557" width="240" height="2" fill="#ffffff"/>
<rect x="461" y="523.2" width="240" height="1.6" fill="#fafafa"/>
<rect x="713" y="557" width="344" height="2" fill="#ffffff"/>
<rect x="713" y="523.2" width="344" height="1.6" fill="#fafafa"/>
<rect x="1069" y="557" width="131" height="2" fill="#ffffff"/>
<rect x="1069" y="523.2" width="131" height="1.6" fill="#fafafa"/>
<rect x="4" y="516.3" width="446" height="1.8" fill="#ffffff"/>
<rect x="4" y="450.3" width="444" height="1.5" fill="#fafafa"/>
<path d="M11.5 458.5 H41.5 L48 465 V477 L41.5 483.5 H11.5 L5 477 V465 Z" fill="#1616e8"/>
<text x="26.5" y="480" text-anchor="middle" style="font-family:&quot;Liberation Sans&quot;,Arial,sans-serif;font-size:25px" fill="#e8e8e8" textLength="12" lengthAdjust="spacingAndGlyphs">1</text>
<path d="M11.5 491.5 H41.5 L48 498 V510 L41.5 516.5 H11.5 L5 510 V498 Z" fill="#a010a8"/>
<text x="26.5" y="513" text-anchor="middle" style="font-family:&quot;Liberation Sans&quot;,Arial,sans-serif;font-size:25px" fill="#e8e8e8" textLength="12" lengthAdjust="spacingAndGlyphs">3</text>
<path d="M257 458.5 H288 L294.5 465 V477 L288 483.5 H257 L250.5 477 V465 Z" fill="#a8eaf2"/>
<text x="272.5" y="480" text-anchor="middle" style="font-family:&quot;Liberation Sans&quot;,Arial,sans-serif;font-size:25px" fill="#f4ffff" textLength="12" lengthAdjust="spacingAndGlyphs">2</text>
<path d="M257 491.5 H288 L294.5 498 V510 L288 516.5 H257 L250.5 510 V498 Z" fill="#0a9a1e"/>
<text x="272.5" y="513" text-anchor="middle" style="font-family:&quot;Liberation Sans&quot;,Arial,sans-serif;font-size:25px" fill="#e8e8e8" textLength="12" lengthAdjust="spacingAndGlyphs">4</text>
<path d="M11.5 532 H41.5 L48 538.5 V550.5 L41.5 557 H11.5 L5 550.5 V538.5 Z" fill="#a00808"/>
<text x="26.5" y="553.5" text-anchor="middle" style="font-family:&quot;Liberation Sans&quot;,Arial,sans-serif;font-size:25px;font-weight:bold" fill="#f4f4f4" textLength="19" lengthAdjust="spacingAndGlyphs">M</text>
<path d="M719.5 532 H749.5 L756 538.5 V550.5 L749.5 557 H719.5 L713 550.5 V538.5 Z" fill="#0a9a1e"/>
<text x="734.5" y="553.5" text-anchor="middle" style="font-family:&quot;Liberation Sans&quot;,Arial,sans-serif;font-size:25px" fill="#e8e8e8" textLength="12" lengthAdjust="spacingAndGlyphs">4</text>
<text x="69.5" y="479.2" text-anchor="start" style="font-family:&quot;Liberation Sans&quot;,Arial,sans-serif;font-size:30px;stroke:#2020e0;stroke-width:0.45px" fill="#2020e0" textLength="63" lengthAdjust="spacingAndGlyphs">5.00 V</text>
<text x="69.2" y="511.8" text-anchor="start" style="font-family:&quot;Liberation Sans&quot;,Arial,sans-serif;font-size:30px;stroke:#a818a8;stroke-width:0.45px" fill="#a818a8" textLength="63" lengthAdjust="spacingAndGlyphs">10.0 V</text>
<text x="315.2" y="479.2" text-anchor="start" style="font-family:&quot;Liberation Sans&quot;,Arial,sans-serif;font-size:30px;stroke:#20d8e8;stroke-width:0.45px" fill="#20d8e8" textLength="63" lengthAdjust="spacingAndGlyphs">10.0 V</text>
<text x="315.5" y="511.8" text-anchor="start" style="font-family:&quot;Liberation Sans&quot;,Arial,sans-serif;font-size:30px;stroke:#1a9a1a;stroke-width:0.45px" fill="#1a9a1a" textLength="63" lengthAdjust="spacingAndGlyphs">5.00 V</text>
<text x="67.5" y="552.8" text-anchor="start" style="font-family:&quot;Liberation Sans&quot;,Arial,sans-serif;font-size:30px;stroke:#b01414;stroke-width:0.45px" fill="#b01414" textLength="63" lengthAdjust="spacingAndGlyphs">5.00 V</text>
<text x="353.5" y="552.8" text-anchor="start" style="font-family:&quot;Liberation Sans&quot;,Arial,sans-serif;font-size:30px;stroke:#b01414;stroke-width:0.45px" fill="#b01414" textLength="72" lengthAdjust="spacingAndGlyphs">20.0μs</text>
<text x="460.5" y="551.2" text-anchor="start" style="font-family:&quot;Liberation Sans&quot;,Arial,sans-serif;font-size:30px;stroke:#202020;stroke-width:0.45px" fill="#202020" textLength="69.5" lengthAdjust="spacingAndGlyphs">20.0μs</text>
<text x="575" y="551.2" text-anchor="start" style="font-family:&quot;Liberation Sans&quot;,Arial,sans-serif;font-size:30px;stroke:#f0a020;stroke-width:0.45px" fill="#f0a020" textLength="123" lengthAdjust="spacingAndGlyphs">−15.2000μs</text>
<text x="795.5" y="551.2" text-anchor="start" style="font-family:&quot;Liberation Sans&quot;,Arial,sans-serif;font-size:30px;stroke:#202020;stroke-width:0.45px" fill="#202020" textLength="63" lengthAdjust="spacingAndGlyphs">7.40 V</text>
<text x="981" y="551.8" text-anchor="start" style="font-family:&quot;Liberation Sans&quot;,Arial,sans-serif;font-size:30px;stroke:#202020;stroke-width:0.45px" fill="#202020" textLength="78.5" lengthAdjust="spacingAndGlyphs">&lt; 10 Hz</text>
<text x="1070" y="551.8" text-anchor="start" style="font-family:&quot;Liberation Sans&quot;,Arial,sans-serif;font-size:30px;stroke:#202020;stroke-width:0.45px" fill="#202020" textLength="81.5" lengthAdjust="spacingAndGlyphs">16:16:10</text>
<text x="176.5" y="477.5" style="font-family:&quot;Liberation Sans&quot;,Arial,sans-serif;font-size:25px" fill="#2020e0" textLength="14.5" lengthAdjust="spacingAndGlyphs">B</text>
<text x="188" y="480.5" style="font-family:&quot;Liberation Sans&quot;,Arial,sans-serif;font-size:17px" fill="#2020e0" textLength="12" lengthAdjust="spacingAndGlyphs">W</text>
<text x="176.5" y="510.5" style="font-family:&quot;Liberation Sans&quot;,Arial,sans-serif;font-size:25px" fill="#a818a8" textLength="14.5" lengthAdjust="spacingAndGlyphs">B</text>
<text x="188" y="513.5" style="font-family:&quot;Liberation Sans&quot;,Arial,sans-serif;font-size:17px" fill="#a818a8" textLength="12" lengthAdjust="spacingAndGlyphs">W</text>
<text x="421.5" y="477.5" style="font-family:&quot;Liberation Sans&quot;,Arial,sans-serif;font-size:25px" fill="#20d8e8" textLength="14.5" lengthAdjust="spacingAndGlyphs">B</text>
<text x="433" y="480.5" style="font-family:&quot;Liberation Sans&quot;,Arial,sans-serif;font-size:17px" fill="#20d8e8" textLength="12" lengthAdjust="spacingAndGlyphs">W</text>
<text x="421.5" y="510.5" style="font-family:&quot;Liberation Sans&quot;,Arial,sans-serif;font-size:25px" fill="#1a9a1a" textLength="14.5" lengthAdjust="spacingAndGlyphs">B</text>
<text x="433" y="513.5" style="font-family:&quot;Liberation Sans&quot;,Arial,sans-serif;font-size:17px" fill="#1a9a1a" textLength="12" lengthAdjust="spacingAndGlyphs">W</text>
<path d="M771.5 533.5 H775.5 L786 549 H791" fill="none" stroke="#202020" stroke-width="2.6"/>
</svg>
</div></body></html>
